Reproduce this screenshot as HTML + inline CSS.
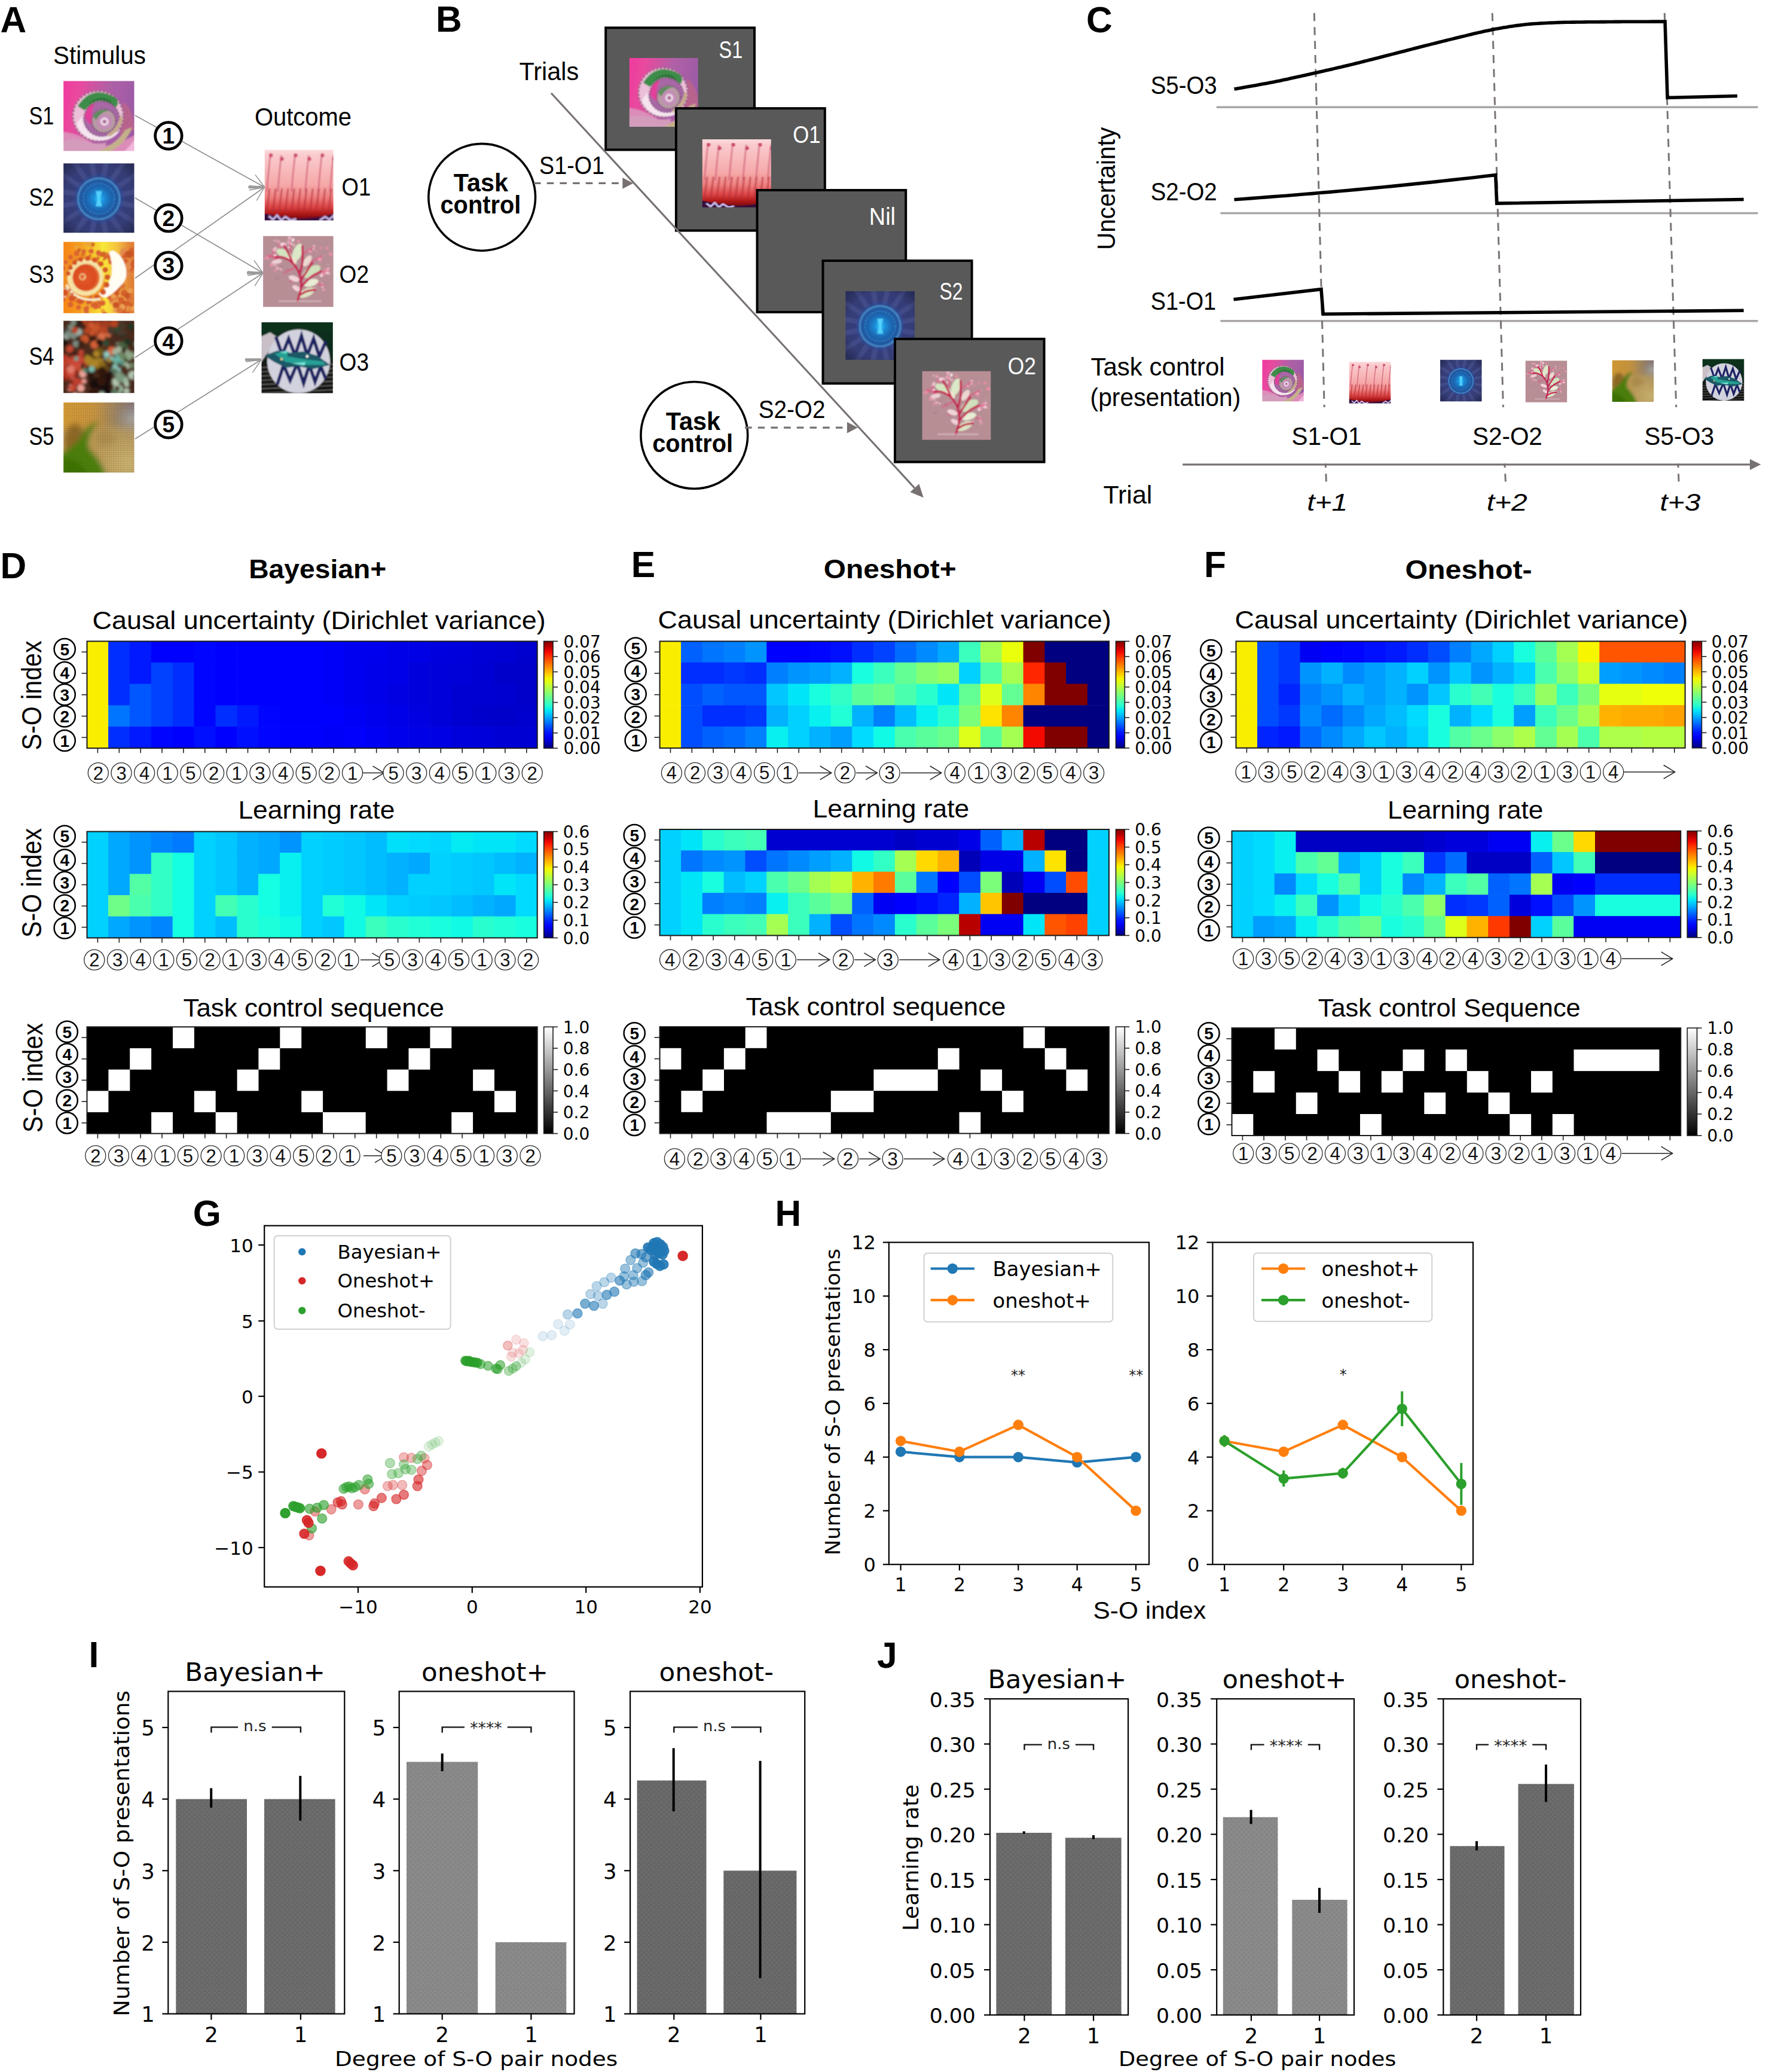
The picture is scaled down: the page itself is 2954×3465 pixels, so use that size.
<!DOCTYPE html>
<html lang="en"><head><meta charset="utf-8"><title>Figure</title>
<style>
html,body{margin:0;padding:0;background:#fff;}
body{width:2954px;height:3465px;overflow:hidden;}
svg{display:block;}
.ls{font-family:"Liberation Sans",sans-serif;}
.dv{font-family:"DejaVu Sans","Liberation Sans",sans-serif;}
</style></head><body>
<svg width="2954" height="3465" viewBox="0 0 2954 3465">
<defs><filter id="fb0_7" x="-5%" y="-5%" width="110%" height="110%"><feGaussianBlur stdDeviation="0.7"/></filter><filter id="fb1_0" x="-5%" y="-5%" width="110%" height="110%"><feGaussianBlur stdDeviation="1.0"/></filter><filter id="fb1_4" x="-5%" y="-5%" width="110%" height="110%"><feGaussianBlur stdDeviation="1.4"/></filter><filter id="fb1_8" x="-5%" y="-5%" width="110%" height="110%"><feGaussianBlur stdDeviation="1.8"/></filter><filter id="fb4_0" x="-5%" y="-5%" width="110%" height="110%"><feGaussianBlur stdDeviation="4.0"/></filter>
<linearGradient id="s1bg" x1="0" y1="0" x2="1" y2="0.2">
<stop offset="0" stop-color="#f4329e"/><stop offset="0.3" stop-color="#e84a9e"/><stop offset="0.62" stop-color="#b060a6"/><stop offset="1" stop-color="#9a5aa6"/></linearGradient>
<radialGradient id="s1in" cx="0.5" cy="0.5" r="0.5"><stop offset="0" stop-color="#e4b8d8"/><stop offset="0.3" stop-color="#b06ca4"/><stop offset="0.7" stop-color="#a4508c"/><stop offset="1" stop-color="#b45c94"/></radialGradient><symbol id="S1" viewBox="0 0 100 100" preserveAspectRatio="none"><g filter="url(#fb1_0)"><rect x="-10" y="-10" width="120" height="120" fill="url(#s1bg)"/>
<path d="M84 30 Q100 40 100 70 L80 80Z" fill="#b8648e"/>
<path d="M-5 72 Q20 74 40 88 T110 72 V110 H-5Z" fill="#dc8cb8"/>
<path d="M-5 88 Q10 80 30 86 Q46 92 60 88 L56 110 H-5Z" fill="#d49cbc"/>
<path d="M56 106 Q88 92 97 66 L87 70 Q77 88 50 100 Z" fill="#c4b08a"/>
<path d="M82 106 L104 80 V106Z" fill="#f2b6dc"/>
<circle cx="49" cy="50" r="36" fill="#ecc0d8"/>
<circle cx="49" cy="50" r="35.5" fill="none" stroke="#8c5c7c" stroke-width="2.4" stroke-dasharray="3 2.6"/>
<path d="M20 36 Q40 4 74 24 Q80 32 74 38 Q52 16 30 42Z" fill="#3c8c48"/>
<path d="M34 34 Q52 22 70 34 L66 28 Q50 18 34 34Z" fill="#2c7438"/>
<path d="M18 62 Q30 90 62 84 Q74 80 80 70 Q56 86 34 70 Q26 62 26 50Z" fill="#f6e4f0"/>
<circle cx="54" cy="54" r="25" fill="#a868a6"/>
<path d="M30 50 Q32 36 44 31 Q38 46 40 62 Q32 60 30 50Z" fill="#e2409a"/>
<circle cx="54" cy="54" r="25" fill="none" stroke="#6c3c68" stroke-width="1.8" stroke-dasharray="2.6 2"/>
<circle cx="57" cy="57" r="17" fill="#b89aa4"/>
<path d="M42 50 Q50 38 64 42 Q52 44 46 56Z" fill="#5c8c5c"/>
<circle cx="57" cy="57" r="17" fill="none" stroke="#5c3c58" stroke-width="1.5" stroke-dasharray="2.2 1.8"/>
<circle cx="58" cy="58" r="10.5" fill="#c48cb8"/>
<circle cx="58" cy="58" r="6" fill="#ecd4e4"/>
<circle cx="58" cy="58" r="2.5" fill="#a0608c"/>
<path d="M62 76 Q78 66 80 48 L84 54 Q80 72 64 80Z" fill="#c6ac8a"/></g></symbol>
<radialGradient id="s2bg" cx="0.5" cy="0.5" r="0.72"><stop offset="0" stop-color="#14142a" stop-opacity="0"/><stop offset="0.55" stop-color="#14142a" stop-opacity="0.08"/><stop offset="0.8" stop-color="#14142a" stop-opacity="0.5"/><stop offset="1" stop-color="#10101e" stop-opacity="0.92"/></radialGradient>
<radialGradient id="s2in" cx="0.5" cy="0.5" r="0.5"><stop offset="0" stop-color="#34ccff"/><stop offset="0.25" stop-color="#1c90dc"/><stop offset="0.55" stop-color="#1a6cb8"/><stop offset="0.8" stop-color="#2058a4"/><stop offset="1" stop-color="#2a64ac"/></radialGradient><symbol id="S2" viewBox="0 0 100 100" preserveAspectRatio="none"><g filter="url(#fb1_0)"><rect x="-10" y="-10" width="120" height="120" fill="#39417e"/><line x1="50" y1="51" x2="123.5" y2="65.9" stroke="#7c8cd4" stroke-opacity="0.2" stroke-width="7"/><line x1="50" y1="51" x2="112.2" y2="92.9" stroke="#7c8cd4" stroke-opacity="0.2" stroke-width="7"/><line x1="50" y1="51" x2="91.4" y2="113.5" stroke="#7c8cd4" stroke-opacity="0.2" stroke-width="7"/><line x1="50" y1="51" x2="64.4" y2="124.6" stroke="#7c8cd4" stroke-opacity="0.2" stroke-width="7"/><line x1="50" y1="51" x2="35.1" y2="124.5" stroke="#7c8cd4" stroke-opacity="0.2" stroke-width="7"/><line x1="50" y1="51" x2="8.1" y2="113.2" stroke="#7c8cd4" stroke-opacity="0.2" stroke-width="7"/><line x1="50" y1="51" x2="-12.5" y2="92.4" stroke="#7c8cd4" stroke-opacity="0.2" stroke-width="7"/><line x1="50" y1="51" x2="-23.6" y2="65.4" stroke="#7c8cd4" stroke-opacity="0.2" stroke-width="7"/><line x1="50" y1="51" x2="-23.5" y2="36.1" stroke="#7c8cd4" stroke-opacity="0.2" stroke-width="7"/><line x1="50" y1="51" x2="-12.2" y2="9.1" stroke="#7c8cd4" stroke-opacity="0.2" stroke-width="7"/><line x1="50" y1="51" x2="8.6" y2="-11.5" stroke="#7c8cd4" stroke-opacity="0.2" stroke-width="7"/><line x1="50" y1="51" x2="35.6" y2="-22.6" stroke="#7c8cd4" stroke-opacity="0.2" stroke-width="7"/><line x1="50" y1="51" x2="64.9" y2="-22.5" stroke="#7c8cd4" stroke-opacity="0.2" stroke-width="7"/><line x1="50" y1="51" x2="91.9" y2="-11.2" stroke="#7c8cd4" stroke-opacity="0.2" stroke-width="7"/><line x1="50" y1="51" x2="112.5" y2="9.6" stroke="#7c8cd4" stroke-opacity="0.2" stroke-width="7"/><line x1="50" y1="51" x2="123.6" y2="36.6" stroke="#7c8cd4" stroke-opacity="0.2" stroke-width="7"/>
<circle cx="50" cy="51" r="35" fill="#2c4ca0" fill-opacity="0.55"/>
<circle cx="50" cy="51" r="29.5" fill="url(#s2in)"/>
<circle cx="50" cy="51" r="29.5" fill="none" stroke="#5cb4ec" stroke-width="2" stroke-dasharray="1.6 0.8"/>
<circle cx="50" cy="51" r="22" fill="none" stroke="#3c9ce0" stroke-width="1.2" stroke-dasharray="3 2"/>
<path d="M45.5 40 H54.5 L51.5 51 L54.5 62 H45.5 L48.5 51Z" fill="#54d4ff"/>
<rect x="-10" y="-10" width="120" height="120" fill="url(#s2bg)"/></g></symbol>
<linearGradient id="s3bg" x1="0" y1="0" x2="1" y2="0"><stop offset="0" stop-color="#f87c10"/><stop offset="0.28" stop-color="#f49c20"/><stop offset="0.55" stop-color="#f8e838"/><stop offset="0.72" stop-color="#f4c040"/><stop offset="0.85" stop-color="#e48838"/><stop offset="1" stop-color="#d86c30"/></linearGradient>
<radialGradient id="s3c" cx="0.42" cy="0.5" r="0.55"><stop offset="0" stop-color="#f0b070"/><stop offset="0.14" stop-color="#e05828"/><stop offset="0.8" stop-color="#dc4c20"/><stop offset="1" stop-color="#e4743c"/></radialGradient><symbol id="S3" viewBox="0 0 100 100" preserveAspectRatio="none"><g filter="url(#fb1_0)"><rect x="-10" y="-10" width="120" height="120" fill="url(#s3bg)"/>
<path d="M-5 28 Q20 14 50 26 L64 74 Q30 94 -5 74Z" fill="#f09024" fill-opacity="0.85"/><circle cx="72.9" cy="80.8" r="4" fill="#d4602c"/><circle cx="49.5" cy="83.9" r="3.1" fill="#e07030"/><circle cx="48.8" cy="22.1" r="2.2" fill="#e08030"/><circle cx="99.9" cy="106.3" r="3.5" fill="#d4602c"/><circle cx="55.5" cy="96.6" r="3.2" fill="#f0a838"/><circle cx="33.9" cy="2.2" r="2.9" fill="#eca438"/><circle cx="39.7" cy="4.8" r="3.2" fill="#eca438"/><circle cx="63.8" cy="24.3" r="1.6" fill="#d86428"/><circle cx="100.4" cy="28.2" r="4.1" fill="#c85428"/><circle cx="91.9" cy="70.4" r="3.8" fill="#eca050"/><circle cx="52.5" cy="81.4" r="3.9" fill="#f0a838"/><circle cx="58.3" cy="16.8" r="2.8" fill="#e08030"/><circle cx="35" cy="30.1" r="2.9" fill="#eca438"/><circle cx="80.7" cy="31.3" r="3.7" fill="#c85428"/><circle cx="24.7" cy="13.4" r="2.4" fill="#eca438"/><circle cx="14" cy="74.3" r="1.6" fill="#e8c0a0"/><circle cx="18.6" cy="82.9" r="2.6" fill="#e07030"/><circle cx="59.1" cy="22.2" r="2.4" fill="#e08030"/><circle cx="64.9" cy="19.1" r="1.9" fill="#e08030"/><circle cx="57" cy="24.8" r="1.7" fill="#d86428"/><circle cx="92.1" cy="75.4" r="4.7" fill="#d4602c"/><circle cx="51.1" cy="85.7" r="2.9" fill="#d86830"/><circle cx="40.9" cy="5.4" r="2.4" fill="#eca438"/><circle cx="50.3" cy="90.7" r="3.2" fill="#e07030"/><circle cx="78.6" cy="80.6" r="4.1" fill="#c85428"/><circle cx="79.2" cy="73.9" r="4.3" fill="#eca050"/><circle cx="103.2" cy="34.5" r="4.9" fill="#c85428"/><circle cx="35.9" cy="102.9" r="2.4" fill="#e07030"/><circle cx="73" cy="95.8" r="3.3" fill="#eca050"/><circle cx="100.2" cy="10.3" r="4.2" fill="#dc7438"/><circle cx="87.7" cy="105.3" r="3.1" fill="#dc7438"/><circle cx="37.3" cy="86.4" r="3.2" fill="#f0a838"/><circle cx="42.9" cy="108" r="3.9" fill="#e07030"/><circle cx="69.4" cy="63.8" r="3.6" fill="#dc7438"/><circle cx="57" cy="15.8" r="2.5" fill="#cc6420"/><circle cx="89.4" cy="44.3" r="4.1" fill="#c85428"/><circle cx="29.4" cy="95.7" r="3.7" fill="#f0a838"/><circle cx="73.1" cy="90.2" r="3.5" fill="#eca050"/><circle cx="111.2" cy="30.6" r="4.7" fill="#e48c4c"/><circle cx="55.8" cy="88.6" r="2.1" fill="#f0a838"/><circle cx="2.2" cy="65.8" r="1.9" fill="#d8a070"/><circle cx="13.6" cy="62.9" r="3" fill="#e88838"/><circle cx="52.8" cy="16.6" r="3" fill="#dc7428"/><circle cx="12.4" cy="67.4" r="1.5" fill="#e8c0a0"/><circle cx="86.1" cy="29.9" r="2.5" fill="#e48c4c"/><circle cx="95.4" cy="28" r="2.8" fill="#e48c4c"/><circle cx="37.2" cy="12.9" r="2.2" fill="#dc7428"/><circle cx="96.7" cy="12.6" r="4.5" fill="#d4602c"/><circle cx="73" cy="78.8" r="4.4" fill="#dc7438"/><circle cx="71.6" cy="81.9" r="3.7" fill="#d4602c"/><circle cx="6.3" cy="70.2" r="1.6" fill="#d8a070"/><circle cx="61.6" cy="18" r="2.3" fill="#d86428"/><circle cx="99.1" cy="33.4" r="3.5" fill="#c85428"/><circle cx="87.9" cy="94" r="2.8" fill="#d4602c"/><circle cx="26.7" cy="13.1" r="2.3" fill="#eca438"/><circle cx="75.2" cy="71.9" r="4.1" fill="#d4602c"/><circle cx="31.2" cy="94" r="3" fill="#d86830"/><circle cx="95.9" cy="80.2" r="2.5" fill="#dc7438"/><circle cx="38.7" cy="86.4" r="2.8" fill="#f0a838"/><circle cx="99" cy="31.2" r="4.9" fill="#c85428"/><circle cx="85.1" cy="12.4" r="4.3" fill="#e48c4c"/><circle cx="38.7" cy="77.2" r="2.2" fill="#d86830"/><circle cx="22" cy="11.3" r="2.6" fill="#cc6420"/><circle cx="105.4" cy="39.6" r="2.9" fill="#d4602c"/><circle cx="85.6" cy="81.8" r="2.8" fill="#eca050"/><circle cx="13.5" cy="69.7" r="2.7" fill="#e88838"/><circle cx="53.2" cy="17.1" r="1.9" fill="#e08030"/><circle cx="64.9" cy="22" r="2.3" fill="#e08030"/><circle cx="87.9" cy="92.2" r="4" fill="#eca050"/><circle cx="61" cy="67.4" r="3.9" fill="#d4602c"/><circle cx="86.6" cy="111.5" r="4.6" fill="#dc7438"/><circle cx="69.6" cy="77.4" r="4.8" fill="#eca050"/><circle cx="78.4" cy="39.7" r="2.9" fill="#e48c4c"/><circle cx="41.5" cy="3.4" r="2.7" fill="#cc6420"/><circle cx="12.6" cy="79.6" r="1.7" fill="#e8c0a0"/><circle cx="86" cy="102.3" r="4.9" fill="#c85428"/><circle cx="48.3" cy="79.4" r="3.2" fill="#f0a838"/><circle cx="4.3" cy="76.4" r="2.7" fill="#e88838"/><circle cx="87.5" cy="35.4" r="4.4" fill="#dc7438"/><circle cx="78" cy="66.3" r="3" fill="#d4602c"/><circle cx="79.7" cy="60.7" r="3.5" fill="#d4602c"/><circle cx="85.1" cy="92.7" r="4.3" fill="#d4602c"/><circle cx="62.7" cy="16.5" r="1.8" fill="#d86428"/><circle cx="83.4" cy="21.7" r="2.6" fill="#c85428"/><circle cx="96.9" cy="31.4" r="2.7" fill="#d4602c"/><circle cx="90.4" cy="47.6" r="2.6" fill="#e48c4c"/><circle cx="39.5" cy="89" r="2.7" fill="#f0a838"/><circle cx="99.2" cy="92.1" r="4.4" fill="#eca050"/><circle cx="78.2" cy="82.3" r="3.2" fill="#eca050"/><circle cx="105.3" cy="18.6" r="2.7" fill="#c85428"/><circle cx="32.6" cy="98" r="3.3" fill="#d86830"/><circle cx="42.7" cy="82.6" r="3.5" fill="#f0a838"/><circle cx="35.2" cy="88.9" r="3" fill="#f0a838"/><circle cx="88.4" cy="42.4" r="4.4" fill="#dc7438"/><circle cx="101" cy="22.6" r="2.8" fill="#dc7438"/><circle cx="0.7" cy="65.1" r="2.1" fill="#d8a070"/><circle cx="31.6" cy="92.3" r="2.4" fill="#e07030"/><circle cx="96.3" cy="39.2" r="3.9" fill="#e48c4c"/><circle cx="82.8" cy="95.7" r="4.7" fill="#d4602c"/><circle cx="81.5" cy="102.3" r="3.8" fill="#c85428"/><circle cx="49.7" cy="23.5" r="1.6" fill="#d86428"/><circle cx="9.6" cy="75.1" r="1.6" fill="#e88838"/><circle cx="44.1" cy="87.4" r="3.4" fill="#d86830"/><circle cx="83.1" cy="61.9" r="4.4" fill="#dc7438"/><circle cx="8.2" cy="64.8" r="1.8" fill="#e88838"/><circle cx="92" cy="44" r="2.6" fill="#e48c4c"/><circle cx="11.6" cy="70.2" r="2.3" fill="#e8c0a0"/><circle cx="69.3" cy="84.2" r="4.3" fill="#eca050"/><circle cx="96.1" cy="40.6" r="2.8" fill="#dc7438"/><circle cx="70.8" cy="82" r="3" fill="#dc7438"/><circle cx="80.5" cy="30" r="3.6" fill="#c85428"/><circle cx="62.5" cy="18" r="2.7" fill="#e08030"/><circle cx="85" cy="23.6" r="3.7" fill="#d4602c"/><circle cx="54.6" cy="30.9" r="2.5" fill="#e08030"/><circle cx="99.3" cy="18.3" r="2.6" fill="#d4602c"/><circle cx="18.9" cy="26.6" r="3.4" fill="#dc7428"/><circle cx="84.6" cy="70.2" r="2.8" fill="#d4602c"/><circle cx="94.6" cy="68.5" r="3.5" fill="#eca050"/><circle cx="18.8" cy="7.3" r="3" fill="#eca438"/><circle cx="80.2" cy="33.2" r="3.6" fill="#e48c4c"/><circle cx="4.9" cy="66.4" r="2.1" fill="#e8c0a0"/><circle cx="58.1" cy="102.4" r="4.5" fill="#c85428"/><circle cx="37.6" cy="19.6" r="2.3" fill="#dc7428"/><circle cx="83.8" cy="25.2" r="4.1" fill="#dc7438"/><circle cx="96.6" cy="38.1" r="2.6" fill="#d4602c"/><circle cx="82.7" cy="86.8" r="4.3" fill="#dc7438"/><circle cx="81.8" cy="85.7" r="4.9" fill="#dc7438"/><circle cx="78" cy="89" r="3.3" fill="#d4602c"/><circle cx="86.8" cy="86.8" r="4.3" fill="#c85428"/><circle cx="69.9" cy="16.2" r="2.9" fill="#d86428"/><circle cx="81.8" cy="105.9" r="4.1" fill="#c85428"/><circle cx="96" cy="88.5" r="2.7" fill="#d4602c"/><circle cx="91.3" cy="28.6" r="3.8" fill="#e48c4c"/><circle cx="82.3" cy="15.8" r="3" fill="#e48c4c"/><circle cx="72.9" cy="85.5" r="4.1" fill="#eca050"/><circle cx="61.3" cy="65.9" r="2.7" fill="#c85428"/><circle cx="83.9" cy="34.9" r="3.9" fill="#e48c4c"/><circle cx="91.2" cy="17" r="4.6" fill="#c85428"/><circle cx="2" cy="76.7" r="1.8" fill="#e8c0a0"/><circle cx="83.1" cy="91.3" r="4.3" fill="#eca050"/><circle cx="63.6" cy="21" r="2.6" fill="#d86428"/><circle cx="87.8" cy="19" r="3.3" fill="#d4602c"/><circle cx="10.6" cy="67.3" r="2.8" fill="#e8c0a0"/><circle cx="40.6" cy="90" r="2.4" fill="#e07030"/><circle cx="79.1" cy="96.2" r="4.6" fill="#dc7438"/><circle cx="90.6" cy="86.1" r="4.1" fill="#d4602c"/><circle cx="90.7" cy="35.3" r="4.6" fill="#e48c4c"/><circle cx="92.8" cy="78.2" r="4.7" fill="#dc7438"/><circle cx="81.5" cy="81.6" r="4.5" fill="#d4602c"/><circle cx="17.6" cy="80.5" r="1.9" fill="#e88838"/><circle cx="87.8" cy="106.2" r="4" fill="#eca050"/><circle cx="37" cy="2.7" r="2.9" fill="#eca438"/><circle cx="23.1" cy="35.6" r="2.7" fill="#eca438"/><circle cx="83.3" cy="27.8" r="4.3" fill="#d4602c"/><circle cx="91.2" cy="102.8" r="4.8" fill="#c85428"/><circle cx="74.2" cy="70.8" r="3" fill="#c85428"/><circle cx="10.1" cy="73.7" r="2.2" fill="#d8a070"/><circle cx="101.4" cy="45.9" r="4.3" fill="#e48c4c"/><circle cx="53.9" cy="18.6" r="2.9" fill="#d86428"/><circle cx="85.8" cy="71.9" r="5" fill="#d4602c"/><circle cx="91" cy="80.9" r="2.7" fill="#dc7438"/><circle cx="67" cy="81.9" r="2.6" fill="#dc7438"/><circle cx="73.9" cy="88.5" r="4.4" fill="#c85428"/><circle cx="75.6" cy="36" r="3.6" fill="#dc7438"/><circle cx="93" cy="17.6" r="4.9" fill="#c85428"/><circle cx="47.1" cy="26" r="2.2" fill="#e08030"/><circle cx="89.9" cy="76.1" r="3.7" fill="#c85428"/><circle cx="27.6" cy="17.8" r="3.2" fill="#dc7428"/><circle cx="88.9" cy="26.7" r="2.6" fill="#d4602c"/><circle cx="106.1" cy="28.5" r="3.4" fill="#c85428"/><circle cx="-2.5" cy="55.4" r="3" fill="#dc6430"/><circle cx="-3.3" cy="46.2" r="3.5" fill="#dc6430"/><circle cx="-1.3" cy="37" r="4" fill="#dc6430"/><circle cx="3.2" cy="28.5" r="3" fill="#dc6430"/><circle cx="10" cy="21.3" r="3.5" fill="#dc6430"/><circle cx="18.7" cy="16.1" r="4" fill="#dc6430"/><circle cx="28.7" cy="13.2" r="3" fill="#dc6430"/><circle cx="39.3" cy="13" r="3.5" fill="#dc6430"/><circle cx="49.7" cy="15.5" r="4" fill="#dc6430"/><circle cx="59.1" cy="20.6" r="3" fill="#dc6430"/><circle cx="66.8" cy="28" r="3.5" fill="#dc6430"/><circle cx="72.3" cy="37.2" r="4" fill="#dc6430"/><circle cx="74.9" cy="47.6" r="3" fill="#dc6430"/><circle cx="74.6" cy="58.4" r="3.5" fill="#dc6430"/><circle cx="71.1" cy="68.9" r="4" fill="#dc6430"/><circle cx="64.8" cy="78.3" r="3" fill="#dc6430"/><circle cx="56" cy="85.8" r="3.5" fill="#dc6430"/><circle cx="45.3" cy="90.8" r="4" fill="#dc6430"/><circle cx="33.5" cy="93" r="3" fill="#dc6430"/><circle cx="21.3" cy="92" r="3.5" fill="#dc6430"/><circle cx="9.8" cy="88" r="4" fill="#dc6430"/><circle cx="-0.3" cy="81" r="3" fill="#dc6430"/>
<path d="M70 12 Q84 18 88 36 Q92 52 80 62 Q72 72 60 78 Q52 78 50 72 Q64 62 68 46 Q70 28 64 14Z" fill="#fffdf4"/>
<circle cx="31" cy="50" r="25.5" fill="#f6e4a8"/><circle cx="6.7" cy="44.3" r="3.2" fill="#d65628"/><circle cx="9.8" cy="36" r="3.3" fill="#d65628"/><circle cx="15.8" cy="29.1" r="3.4" fill="#d65628"/><circle cx="24.3" cy="24.6" r="3.5" fill="#d65628"/><circle cx="34.1" cy="23.2" r="3.6" fill="#d65628"/><circle cx="44" cy="25.3" r="3.7" fill="#d65628"/><circle cx="52.8" cy="30.8" r="3.8" fill="#d65628"/><circle cx="59.1" cy="39.2" r="3.9" fill="#d65628"/><circle cx="62" cy="49.4" r="4" fill="#d65628"/><circle cx="60.9" cy="60.3" r="4.1" fill="#d65628"/><circle cx="55.9" cy="70.3" r="4.2" fill="#d65628"/><circle cx="47.3" cy="78.1" r="4.3" fill="#d65628"/><circle cx="36.1" cy="82.6" r="4.4" fill="#d65628"/><circle cx="23.8" cy="83" r="4.5" fill="#d65628"/><circle cx="11.9" cy="79.1" r="4.6" fill="#d65628"/><circle cx="2" cy="71.1" r="4.7" fill="#d65628"/><circle cx="-4.5" cy="60" r="4.8" fill="#d65628"/><circle cx="-6.6" cy="47.1" r="4.9" fill="#d65628"/>
<circle cx="31" cy="50" r="21.5" fill="#f4dc9c"/>
<circle cx="32" cy="50" r="19" fill="url(#s3c)"/>
<circle cx="27" cy="49" r="4" fill="none" stroke="#f0c488" stroke-width="1.8"/>
<path d="M4 60 Q18 86 52 80" fill="none" stroke="#f8f0cc" stroke-width="3"/>
<path d="M8 66 Q22 92 56 87" fill="none" stroke="#d85c2c" stroke-width="3" stroke-dasharray="3.5 3"/></g></symbol><symbol id="S4" viewBox="0 0 100 100" preserveAspectRatio="none"><g filter="url(#fb1_8)"><rect x="-10" y="-10" width="120" height="120" fill="#4a2a1c"/><circle cx="21.6" cy="69.3" r="3.5" fill="#b83828"/><circle cx="34" cy="10.5" r="6.5" fill="#c8542c"/><circle cx="2.6" cy="59.8" r="3.6" fill="#b83828"/><circle cx="17.7" cy="89.4" r="4.4" fill="#c04030"/><circle cx="59" cy="74.2" r="4.4" fill="#2c1c14"/><circle cx="28.6" cy="1.1" r="4.8" fill="#b84424"/><circle cx="12.4" cy="108.9" r="5" fill="#802018"/><circle cx="74.9" cy="51.1" r="4.6" fill="#2c1c14"/><circle cx="19" cy="48.4" r="4.3" fill="#20140e"/><circle cx="52.8" cy="63.7" r="5.8" fill="#8c6a1c"/><circle cx="37" cy="5.9" r="4.9" fill="#a03c20"/><circle cx="55.3" cy="95.5" r="4.2" fill="#20100c"/><circle cx="4.7" cy="22.1" r="3.6" fill="#4c4038"/><circle cx="57.7" cy="78.7" r="3.4" fill="#9cb8a0"/><circle cx="46.2" cy="96.4" r="6.6" fill="#20100c"/><circle cx="87.8" cy="99.9" r="3.1" fill="#9cb8a0"/><circle cx="96.9" cy="36.3" r="5.4" fill="#402418"/><circle cx="79" cy="94.2" r="5.3" fill="#9cb8a0"/><circle cx="86.7" cy="100.1" r="3.5" fill="#587860"/><circle cx="80.2" cy="63.6" r="3.2" fill="#8cc8bc"/><circle cx="14.4" cy="50.9" r="4" fill="#b83828"/><circle cx="57.9" cy="77.5" r="3.4" fill="#8c6a1c"/><circle cx="55.3" cy="32.4" r="3.5" fill="#c8542c"/><circle cx="78.4" cy="41.6" r="2.6" fill="#48603c"/><circle cx="60" cy="30.8" r="4.4" fill="#2c4c30"/><circle cx="45" cy="56.4" r="4.6" fill="#ac8428"/><circle cx="42.4" cy="50.1" r="3.3" fill="#4c2a1c"/><circle cx="87.5" cy="35.7" r="3.3" fill="#48603c"/><circle cx="61.3" cy="6.1" r="6.5" fill="#a03c20"/><circle cx="15.2" cy="0.2" r="4.7" fill="#402418"/><circle cx="91.7" cy="49.8" r="5.1" fill="#90a888"/><circle cx="70.1" cy="70.1" r="5.2" fill="#587860"/><circle cx="77.4" cy="33.4" r="3.3" fill="#a4b49c"/><circle cx="121.3" cy="86" r="5.4" fill="#4c2a1c"/><circle cx="50.9" cy="9.7" r="6.4" fill="#c8542c"/><circle cx="37.2" cy="19" r="3.9" fill="#20140e"/><circle cx="50.5" cy="52.4" r="5.3" fill="#402418"/><circle cx="75.7" cy="63" r="4" fill="#8cc8bc"/><circle cx="-8.5" cy="30.7" r="3.1" fill="#2c1c14"/><circle cx="1.4" cy="29.9" r="5.2" fill="#20140e"/><circle cx="63.4" cy="18" r="4.7" fill="#dc7048"/><circle cx="79.7" cy="61.4" r="4" fill="#4c9488"/><circle cx="42" cy="76.5" r="2.7" fill="#20140e"/><circle cx="84.4" cy="77.9" r="3.8" fill="#587860"/><circle cx="40.3" cy="57.1" r="5.2" fill="#2c1c14"/><circle cx="67.9" cy="54" r="4.8" fill="#6c8460"/><circle cx="21.9" cy="15.3" r="4.8" fill="#9cacA4"/><circle cx="53.8" cy="50.2" r="6.1" fill="#9c7820"/><circle cx="40.7" cy="100.1" r="4.8" fill="#20100c"/><circle cx="54.9" cy="86.2" r="5.6" fill="#301810"/><circle cx="20.5" cy="28.3" r="4.1" fill="#20140e"/><circle cx="18.2" cy="90.1" r="5.5" fill="#402418"/><circle cx="42.6" cy="81.6" r="6.7" fill="#301810"/><circle cx="62.9" cy="10.2" r="4.5" fill="#1c3424"/><circle cx="72.9" cy="58.2" r="4" fill="#8cc8bc"/><circle cx="32.9" cy="77" r="4.3" fill="#4c2a1c"/><circle cx="20.9" cy="88" r="4.9" fill="#802018"/><circle cx="81.1" cy="60.4" r="4.4" fill="#68b4a4"/><circle cx="76.8" cy="93.4" r="6.1" fill="#9cb8a0"/><circle cx="86.1" cy="41.7" r="3.6" fill="#6c8460"/><circle cx="-0.1" cy="54.9" r="5" fill="#b83828"/><circle cx="83.9" cy="17.2" r="5" fill="#48382c"/><circle cx="59.2" cy="101.9" r="4.5" fill="#20140e"/><circle cx="52.7" cy="84.7" r="3.2" fill="#2c1c14"/><circle cx="4.2" cy="76.9" r="6.5" fill="#8c2818"/><circle cx="94.5" cy="44.3" r="3.8" fill="#6c8460"/><circle cx="23.1" cy="84.7" r="4.2" fill="#c04030"/><circle cx="50.2" cy="57.5" r="4.8" fill="#ac8428"/><circle cx="117.2" cy="44.8" r="4.3" fill="#2c1c14"/><circle cx="51.2" cy="15.5" r="4.4" fill="#20140e"/><circle cx="53" cy="33.2" r="3.2" fill="#2c1c14"/><circle cx="23.6" cy="65.5" r="5" fill="#c44430"/><circle cx="93.5" cy="44" r="4.1" fill="#90a888"/><circle cx="85.4" cy="36.8" r="3.2" fill="#1c3424"/><circle cx="56.6" cy="13.5" r="6.1" fill="#b84424"/><circle cx="36.9" cy="69.6" r="6.6" fill="#180c08"/><circle cx="44.3" cy="14.8" r="6.1" fill="#b84424"/><circle cx="96.9" cy="61.9" r="4" fill="#6c8460"/><circle cx="95" cy="109.6" r="4.8" fill="#b4c8b0"/><circle cx="36" cy="76.1" r="3.8" fill="#402418"/><circle cx="13" cy="83.9" r="4.9" fill="#f0a498"/><circle cx="25" cy="43.8" r="3.8" fill="#c44430"/><circle cx="59.6" cy="4.8" r="6.1" fill="#a03c20"/><circle cx="31.7" cy="-15.1" r="5.3" fill="#20140e"/><circle cx="88.9" cy="101" r="3.7" fill="#587860"/><circle cx="80.4" cy="54.3" r="3.8" fill="#8cc8bc"/><circle cx="84.3" cy="59" r="3" fill="#4c9488"/><circle cx="77.5" cy="50.3" r="4.2" fill="#68b4a4"/><circle cx="98.7" cy="11.3" r="4.5" fill="#402418"/><circle cx="58.5" cy="54" r="3.2" fill="#68b4a4"/><circle cx="26" cy="65.9" r="5.9" fill="#cc4834"/><circle cx="39.3" cy="2.7" r="5.1" fill="#b84424"/><circle cx="64.5" cy="100.8" r="6.5" fill="#180c08"/><circle cx="69.3" cy="59.3" r="3.3" fill="#402418"/><circle cx="54.3" cy="49.3" r="4.6" fill="#4c2a1c"/><circle cx="97.4" cy="75.3" r="5.9" fill="#b4c8b0"/><circle cx="29.5" cy="27.5" r="3" fill="#20140e"/><circle cx="51.5" cy="-9.8" r="3.4" fill="#2c1c14"/><circle cx="40.9" cy="19.1" r="3" fill="#402418"/><circle cx="27.3" cy="66.3" r="4.2" fill="#ac8428"/><circle cx="77.7" cy="36.5" r="4.8" fill="#4c2a1c"/><circle cx="14" cy="89.9" r="3.3" fill="#c04030"/><circle cx="41.1" cy="77.4" r="4.9" fill="#20100c"/><circle cx="71.8" cy="43.7" r="3" fill="#68b4a4"/><circle cx="35.2" cy="50.1" r="3.5" fill="#20140e"/><circle cx="32.8" cy="62.5" r="3.5" fill="#58a898"/><circle cx="56.6" cy="11.9" r="5" fill="#b84424"/><circle cx="101.7" cy="76.6" r="3" fill="#402418"/><circle cx="83.8" cy="6.6" r="3.8" fill="#48382c"/><circle cx="65.9" cy="118.2" r="5.1" fill="#b4c8b0"/><circle cx="76.3" cy="92.9" r="2.6" fill="#402418"/><circle cx="16.5" cy="-26.2" r="2.7" fill="#2c1c14"/><circle cx="40.4" cy="72.6" r="4.3" fill="#20100c"/><circle cx="18.3" cy="75.5" r="4" fill="#2c1c14"/><circle cx="81.1" cy="65.1" r="5.7" fill="#9cb8a0"/><circle cx="5.7" cy="69.8" r="4.3" fill="#cc4834"/><circle cx="37" cy="23.5" r="4.1" fill="#402418"/><circle cx="60.1" cy="75.8" r="5.4" fill="#4c2a1c"/><circle cx="53.7" cy="21.9" r="5.4" fill="#dc7048"/><circle cx="41.3" cy="50.1" r="3.4" fill="#20140e"/><circle cx="28.6" cy="61.5" r="4.2" fill="#b83828"/><circle cx="53.6" cy="57.9" r="5.7" fill="#ac8428"/><circle cx="4.2" cy="76.2" r="3.2" fill="#b83828"/><circle cx="64.1" cy="54" r="3.6" fill="#9c7820"/><circle cx="68.2" cy="51.4" r="2.5" fill="#8cc8bc"/><circle cx="-2.4" cy="53.5" r="3.5" fill="#c44430"/><circle cx="9.6" cy="92.8" r="4.4" fill="#f0a498"/><circle cx="61.7" cy="79.4" r="6" fill="#180c08"/><circle cx="48.6" cy="77.1" r="4.1" fill="#4c2a1c"/><circle cx="87.2" cy="82" r="4.6" fill="#9cb8a0"/><circle cx="38.6" cy="7.4" r="3.6" fill="#d46038"/><circle cx="45.9" cy="84.5" r="6.5" fill="#20100c"/><circle cx="62.6" cy="90.4" r="4.4" fill="#20100c"/><circle cx="24.5" cy="93.2" r="5.1" fill="#f0a498"/><circle cx="10.7" cy="9" r="4.4" fill="#7c8c80"/><circle cx="42.7" cy="80.3" r="2.5" fill="#2c1c14"/><circle cx="39.8" cy="16.3" r="4.5" fill="#c8542c"/><circle cx="27.3" cy="73.6" r="5" fill="#f0a498"/><circle cx="47.9" cy="82.7" r="4.3" fill="#20100c"/><circle cx="13.7" cy="45.5" r="2.7" fill="#2c1c14"/><circle cx="2.7" cy="12.1" r="3.9" fill="#4c4038"/><circle cx="68.1" cy="41.7" r="6.1" fill="#d46038"/><circle cx="76.9" cy="96.2" r="5.1" fill="#9cb8a0"/><circle cx="26.2" cy="54.3" r="2.5" fill="#58a898"/><circle cx="71.9" cy="15.6" r="3.9" fill="#1c3424"/><circle cx="66.4" cy="73.3" r="3.9" fill="#20140e"/><circle cx="-5.3" cy="63.9" r="4.9" fill="#c44430"/><circle cx="36.6" cy="59" r="3.7" fill="#3c8478"/><circle cx="56.4" cy="83.6" r="5" fill="#301810"/><circle cx="34.6" cy="55.9" r="5.5" fill="#c44430"/><circle cx="83.5" cy="55.3" r="4.5" fill="#48603c"/><circle cx="48.2" cy="43.7" r="5.2" fill="#b84424"/><circle cx="44.1" cy="84.1" r="3.1" fill="#b83828"/><circle cx="71.8" cy="4" r="5.4" fill="#b84424"/><circle cx="12.9" cy="93.4" r="4.4" fill="#cc4834"/><circle cx="19.1" cy="17" r="3.8" fill="#9cacA4"/><circle cx="58.3" cy="55.8" r="2.5" fill="#4c2a1c"/><circle cx="51" cy="43.3" r="6.4" fill="#6c5418"/><circle cx="89.9" cy="42.3" r="3.5" fill="#6c8460"/><circle cx="71.7" cy="13.9" r="5.8" fill="#1c3424"/><circle cx="90.9" cy="49.2" r="3.8" fill="#90a888"/><circle cx="83.1" cy="20" r="3.4" fill="#1c3424"/><circle cx="80.8" cy="1.4" r="4" fill="#48382c"/><circle cx="87.5" cy="63" r="5.5" fill="#b4c8b0"/><circle cx="106.1" cy="42.9" r="4.6" fill="#20140e"/><circle cx="35.4" cy="65.9" r="5.1" fill="#4c2a1c"/><circle cx="44.1" cy="76.5" r="2.6" fill="#4c2a1c"/><circle cx="76.7" cy="52.7" r="3.5" fill="#8cc8bc"/><circle cx="37.5" cy="53.1" r="4.7" fill="#8c6a1c"/><circle cx="24.4" cy="61.9" r="5.1" fill="#2c1c14"/><circle cx="8.6" cy="68" r="4.9" fill="#c44430"/><circle cx="84.1" cy="44.6" r="4.3" fill="#4c2a1c"/><circle cx="94.5" cy="28.6" r="3.5" fill="#402418"/><circle cx="77" cy="12.7" r="4.9" fill="#2c4c30"/><circle cx="-6.5" cy="37" r="3.9" fill="#2c1c14"/><circle cx="20.7" cy="62.1" r="4.2" fill="#e07868"/><circle cx="70.7" cy="16.7" r="3.3" fill="#402418"/><circle cx="14.3" cy="21" r="4.3" fill="#7c8c80"/><circle cx="13.3" cy="57.9" r="5.1" fill="#cc4834"/><circle cx="20.7" cy="50.5" r="3.7" fill="#b83828"/><circle cx="82.3" cy="53" r="3.7" fill="#90a888"/><circle cx="54.3" cy="82.3" r="5.9" fill="#20100c"/><circle cx="75.8" cy="59.1" r="4.5" fill="#4c9488"/><circle cx="46" cy="8.8" r="5.5" fill="#c8542c"/><circle cx="83.1" cy="48.5" r="5.1" fill="#6c8460"/><circle cx="41.4" cy="-5.3" r="4.6" fill="#20140e"/><circle cx="75.1" cy="56.9" r="3" fill="#6c8460"/><circle cx="-11.1" cy="68.6" r="4.8" fill="#8c2818"/><circle cx="73.7" cy="84.4" r="5.2" fill="#b4c8b0"/><circle cx="31" cy="69.1" r="3.2" fill="#3c8478"/><circle cx="29.1" cy="83.5" r="3" fill="#f0a498"/><circle cx="94.7" cy="39.1" r="3.7" fill="#4c2a1c"/><circle cx="5.6" cy="16.2" r="4.7" fill="#4c4038"/><circle cx="80.8" cy="16.1" r="4.5" fill="#48382c"/><circle cx="33.9" cy="11.9" r="5.9" fill="#b84424"/><circle cx="44.5" cy="28.1" r="4.8" fill="#dc7048"/><circle cx="29.8" cy="25.2" r="3.6" fill="#a03c20"/><circle cx="73.5" cy="42.5" r="4" fill="#8cc8bc"/><circle cx="76" cy="93.9" r="3.5" fill="#402418"/><circle cx="64" cy="84.6" r="5.3" fill="#2c1c14"/><circle cx="17.4" cy="72.1" r="4.8" fill="#8c2818"/><circle cx="117.7" cy="85.6" r="5.7" fill="#9cb8a0"/><circle cx="26.8" cy="52.2" r="2.8" fill="#2c1c14"/><circle cx="94.7" cy="7.7" r="4.5" fill="#1c3424"/><circle cx="41.9" cy="87.7" r="6.2" fill="#20100c"/><circle cx="73.3" cy="54.7" r="3.5" fill="#68b4a4"/><circle cx="45.9" cy="86.2" r="4.7" fill="#20100c"/><circle cx="57.5" cy="65.8" r="5.3" fill="#6c5418"/><circle cx="48.6" cy="61.9" r="5.3" fill="#8c6a1c"/><circle cx="67.4" cy="13.8" r="5.5" fill="#48382c"/><circle cx="85.3" cy="63.3" r="4.8" fill="#90a888"/><circle cx="78.6" cy="76.3" r="5.8" fill="#7c9880"/><circle cx="71.5" cy="99.7" r="4.4" fill="#7c9880"/><circle cx="4.4" cy="67" r="3.6" fill="#8c2818"/><circle cx="77.3" cy="55.5" r="4.9" fill="#90a888"/><circle cx="1.7" cy="51.9" r="5.7" fill="#b83828"/><circle cx="82.6" cy="33.6" r="5.2" fill="#48603c"/><circle cx="79.1" cy="66.8" r="3.4" fill="#8cc8bc"/><circle cx="108.6" cy="43.3" r="2.6" fill="#90a888"/><circle cx="105.3" cy="39.2" r="3.3" fill="#20140e"/><circle cx="76.3" cy="-5.6" r="4.4" fill="#2c1c14"/><circle cx="103" cy="32.5" r="3.8" fill="#6c8460"/><circle cx="49.5" cy="73.3" r="3.5" fill="#4c2a1c"/><circle cx="51.6" cy="60.6" r="5" fill="#8c6a1c"/><circle cx="77.7" cy="39.9" r="4.7" fill="#a4b49c"/><circle cx="38.2" cy="58.8" r="5" fill="#9c7820"/><circle cx="4.5" cy="20.8" r="4.6" fill="#9cacA4"/><circle cx="59" cy="91.2" r="5.8" fill="#180c08"/><circle cx="42" cy="26.2" r="4.5" fill="#20140e"/><circle cx="6.4" cy="91.9" r="2.7" fill="#802018"/><circle cx="33.5" cy="50.3" r="3.5" fill="#9c7820"/><circle cx="61.1" cy="46.4" r="4.4" fill="#8cc8bc"/><circle cx="42.5" cy="80.2" r="3" fill="#20140e"/><circle cx="4.4" cy="68.2" r="4.1" fill="#cc4834"/><circle cx="47.4" cy="121.5" r="3.1" fill="#402418"/><circle cx="7.3" cy="18.2" r="4.9" fill="#7c8c80"/><circle cx="2.8" cy="68.9" r="6.3" fill="#b83828"/><circle cx="81.4" cy="59.2" r="3.9" fill="#4c9488"/><circle cx="72.4" cy="99.9" r="4.9" fill="#587860"/><circle cx="-3.9" cy="20" r="3" fill="#4c4038"/><circle cx="-4.8" cy="29.5" r="2.8" fill="#4c4038"/><circle cx="-2.2" cy="61.9" r="4.6" fill="#4c2a1c"/><circle cx="64.8" cy="147.8" r="3.8" fill="#20140e"/><circle cx="18.9" cy="63.3" r="4.9" fill="#cc4834"/><circle cx="72.4" cy="63.1" r="3" fill="#8cc8bc"/><circle cx="61.2" cy="79" r="6.6" fill="#20100c"/><circle cx="89.3" cy="87.9" r="3.3" fill="#b4c8b0"/><circle cx="49.4" cy="90.7" r="4.2" fill="#180c08"/><circle cx="47.2" cy="87.8" r="6.8" fill="#180c08"/><circle cx="85.4" cy="67" r="5.1" fill="#4c2a1c"/><circle cx="53.5" cy="5.2" r="4" fill="#a03c20"/><circle cx="23.3" cy="53.5" r="6.4" fill="#c44430"/><circle cx="12.2" cy="84.2" r="4.1" fill="#802018"/><circle cx="23.3" cy="4.1" r="5" fill="#2c1c14"/><circle cx="43.8" cy="32.8" r="5.6" fill="#d46038"/><circle cx="46.5" cy="45.9" r="4.6" fill="#ac8428"/><circle cx="36" cy="54.3" r="3.6" fill="#3c8478"/><circle cx="8.1" cy="55.9" r="5" fill="#c44430"/><circle cx="79.8" cy="78.7" r="6.5" fill="#7c9880"/><circle cx="88.9" cy="42.3" r="3.1" fill="#a4b49c"/><circle cx="16.5" cy="103.2" r="3.8" fill="#f0a498"/><circle cx="27.6" cy="8.2" r="4.5" fill="#402418"/><circle cx="54.2" cy="80.7" r="4.3" fill="#20100c"/><circle cx="42" cy="59.4" r="2.8" fill="#58a898"/><circle cx="16.2" cy="83.7" r="3.4" fill="#802018"/><circle cx="54.4" cy="70.2" r="6.6" fill="#301810"/><circle cx="44.1" cy="58.3" r="6" fill="#ac8428"/><circle cx="56.9" cy="78.9" r="3.9" fill="#20140e"/><circle cx="45.9" cy="99.1" r="6.9" fill="#301810"/><circle cx="-7.4" cy="63.7" r="3.7" fill="#8c2818"/><circle cx="89.2" cy="97" r="3.8" fill="#b4c8b0"/><circle cx="14.1" cy="60.4" r="3.5" fill="#cc4834"/><circle cx="72.2" cy="43.6" r="3.5" fill="#a4b49c"/><circle cx="99.8" cy="48.3" r="3.2" fill="#90a888"/><circle cx="79.2" cy="62.1" r="3" fill="#4c2a1c"/><circle cx="48.4" cy="2.9" r="3.1" fill="#b84424"/><circle cx="50.9" cy="29.4" r="4.7" fill="#20140e"/><circle cx="17.8" cy="83.1" r="5" fill="#c04030"/><circle cx="54.2" cy="102" r="4.1" fill="#9cb8a0"/><circle cx="11.2" cy="73.9" r="5.5" fill="#cc4834"/><circle cx="8.9" cy="38.9" r="5" fill="#c44430"/><circle cx="77.2" cy="56.1" r="3.1" fill="#4c9488"/><circle cx="35.2" cy="54.6" r="5.5" fill="#ac8428"/><circle cx="39.6" cy="68.9" r="5.3" fill="#301810"/><circle cx="29.9" cy="25.2" r="6.1" fill="#c8542c"/><circle cx="90.4" cy="28.9" r="4.6" fill="#1c3424"/><circle cx="25.5" cy="30.3" r="3.4" fill="#20140e"/><circle cx="87.8" cy="53" r="2.7" fill="#48603c"/><circle cx="-6.1" cy="55.4" r="3.3" fill="#e07868"/><circle cx="75.8" cy="53.1" r="4.1" fill="#68b4a4"/><circle cx="16" cy="12.9" r="4.5" fill="#b84424"/><circle cx="10.4" cy="67.2" r="5.8" fill="#e07868"/><circle cx="17.9" cy="31.8" r="4.7" fill="#7c8c80"/><circle cx="18.1" cy="52.4" r="2.9" fill="#58a898"/><circle cx="25.7" cy="32.9" r="5.2" fill="#402418"/><circle cx="53.7" cy="83.9" r="6.3" fill="#301810"/><circle cx="39.9" cy="66.9" r="4.2" fill="#78c0b0"/><circle cx="-3.7" cy="60.9" r="5.7" fill="#cc4834"/><circle cx="86" cy="41.1" r="2.9" fill="#20140e"/><circle cx="14.2" cy="2.1" r="3.8" fill="#7c8c80"/></g></symbol>
<linearGradient id="s5bg" x1="0" y1="0" x2="1" y2="0"><stop offset="0" stop-color="#dca034"/><stop offset="0.45" stop-color="#cc9844"/><stop offset="0.7" stop-color="#a08868"/><stop offset="1" stop-color="#78687c"/></linearGradient>
<radialGradient id="s5g" cx="0.18" cy="0.98" r="0.66"><stop offset="0" stop-color="#468c08"/><stop offset="0.55" stop-color="#588a12"/><stop offset="1" stop-color="#6c8a20" stop-opacity="0"/></radialGradient>
<radialGradient id="s5t" cx="0.85" cy="0.8" r="0.55"><stop offset="0" stop-color="#d2ba76"/><stop offset="1" stop-color="#c8a860" stop-opacity="0"/></radialGradient>
<radialGradient id="s5o" cx="0.3" cy="0.5" r="0.3"><stop offset="0" stop-color="#86681e"/><stop offset="1" stop-color="#86681e" stop-opacity="0"/></radialGradient>
<radialGradient id="s5y" cx="0.9" cy="0.28" r="0.22"><stop offset="0" stop-color="#b4b4b4"/><stop offset="1" stop-color="#989898" stop-opacity="0"/></radialGradient><symbol id="S5" viewBox="0 0 100 100" preserveAspectRatio="none"><g filter="url(#fb4_0)"><rect x="-10" y="-10" width="120" height="120" fill="url(#s5bg)"/>
<rect x="-10" y="36" width="120" height="80" fill="#bc9c5c" fill-opacity="0.75"/>
<rect x="-10" y="-10" width="120" height="120" fill="url(#s5y)"/>
<ellipse cx="16" cy="56" rx="15" ry="26" fill="#86601e" fill-opacity="0.8"/>
<rect x="-10" y="-10" width="120" height="120" fill="url(#s5t)"/>
<path d="M50 28 Q32 46 36 66 Q52 80 62 108 L-8 108 L-8 74 Q18 64 30 40 Q38 28 50 28Z" fill="#4e8410"/>
<path d="M-8 80 Q20 74 40 108 L-8 108Z" fill="#3c7606"/>
<path d="M52 40 Q44 52 50 62 Q66 64 76 54 Q70 40 52 40Z" fill="#b09050" fill-opacity="0.8"/></g><line x1="3.1" y1="-5" x2="3.1" y2="105" stroke="#40300c" stroke-opacity="0.11" stroke-width="1"/><line x1="6.2" y1="-5" x2="6.2" y2="105" stroke="#40300c" stroke-opacity="0.11" stroke-width="1"/><line x1="9.3" y1="-5" x2="9.3" y2="105" stroke="#40300c" stroke-opacity="0.11" stroke-width="1"/><line x1="12.4" y1="-5" x2="12.4" y2="105" stroke="#40300c" stroke-opacity="0.11" stroke-width="1"/><line x1="15.5" y1="-5" x2="15.5" y2="105" stroke="#40300c" stroke-opacity="0.11" stroke-width="1"/><line x1="18.6" y1="-5" x2="18.6" y2="105" stroke="#40300c" stroke-opacity="0.11" stroke-width="1"/><line x1="21.7" y1="-5" x2="21.7" y2="105" stroke="#40300c" stroke-opacity="0.11" stroke-width="1"/><line x1="24.8" y1="-5" x2="24.8" y2="105" stroke="#40300c" stroke-opacity="0.11" stroke-width="1"/><line x1="27.9" y1="-5" x2="27.9" y2="105" stroke="#40300c" stroke-opacity="0.11" stroke-width="1"/><line x1="31" y1="-5" x2="31" y2="105" stroke="#40300c" stroke-opacity="0.11" stroke-width="1"/><line x1="34.1" y1="-5" x2="34.1" y2="105" stroke="#40300c" stroke-opacity="0.11" stroke-width="1"/><line x1="37.2" y1="-5" x2="37.2" y2="105" stroke="#40300c" stroke-opacity="0.11" stroke-width="1"/><line x1="40.3" y1="-5" x2="40.3" y2="105" stroke="#40300c" stroke-opacity="0.11" stroke-width="1"/><line x1="43.4" y1="-5" x2="43.4" y2="105" stroke="#40300c" stroke-opacity="0.11" stroke-width="1"/><line x1="46.5" y1="-5" x2="46.5" y2="105" stroke="#40300c" stroke-opacity="0.11" stroke-width="1"/><line x1="49.6" y1="-5" x2="49.6" y2="105" stroke="#40300c" stroke-opacity="0.11" stroke-width="1"/><line x1="52.7" y1="-5" x2="52.7" y2="105" stroke="#40300c" stroke-opacity="0.11" stroke-width="1"/><line x1="55.8" y1="-5" x2="55.8" y2="105" stroke="#40300c" stroke-opacity="0.11" stroke-width="1"/><line x1="58.9" y1="-5" x2="58.9" y2="105" stroke="#40300c" stroke-opacity="0.11" stroke-width="1"/><line x1="62" y1="-5" x2="62" y2="105" stroke="#40300c" stroke-opacity="0.11" stroke-width="1"/><line x1="65.1" y1="-5" x2="65.1" y2="105" stroke="#40300c" stroke-opacity="0.11" stroke-width="1"/><line x1="68.2" y1="-5" x2="68.2" y2="105" stroke="#40300c" stroke-opacity="0.11" stroke-width="1"/><line x1="71.3" y1="-5" x2="71.3" y2="105" stroke="#40300c" stroke-opacity="0.11" stroke-width="1"/><line x1="74.4" y1="-5" x2="74.4" y2="105" stroke="#40300c" stroke-opacity="0.11" stroke-width="1"/><line x1="77.5" y1="-5" x2="77.5" y2="105" stroke="#40300c" stroke-opacity="0.11" stroke-width="1"/><line x1="80.6" y1="-5" x2="80.6" y2="105" stroke="#40300c" stroke-opacity="0.11" stroke-width="1"/><line x1="83.7" y1="-5" x2="83.7" y2="105" stroke="#40300c" stroke-opacity="0.11" stroke-width="1"/><line x1="86.8" y1="-5" x2="86.8" y2="105" stroke="#40300c" stroke-opacity="0.11" stroke-width="1"/><line x1="89.9" y1="-5" x2="89.9" y2="105" stroke="#40300c" stroke-opacity="0.11" stroke-width="1"/><line x1="93" y1="-5" x2="93" y2="105" stroke="#40300c" stroke-opacity="0.11" stroke-width="1"/><line x1="96.1" y1="-5" x2="96.1" y2="105" stroke="#40300c" stroke-opacity="0.11" stroke-width="1"/><line x1="99.2" y1="-5" x2="99.2" y2="105" stroke="#40300c" stroke-opacity="0.11" stroke-width="1"/><line y1="3.1" x1="-5" y2="3.1" x2="105" stroke="#40300c" stroke-opacity="0.11" stroke-width="1"/><line y1="6.2" x1="-5" y2="6.2" x2="105" stroke="#40300c" stroke-opacity="0.11" stroke-width="1"/><line y1="9.3" x1="-5" y2="9.3" x2="105" stroke="#40300c" stroke-opacity="0.11" stroke-width="1"/><line y1="12.4" x1="-5" y2="12.4" x2="105" stroke="#40300c" stroke-opacity="0.11" stroke-width="1"/><line y1="15.5" x1="-5" y2="15.5" x2="105" stroke="#40300c" stroke-opacity="0.11" stroke-width="1"/><line y1="18.6" x1="-5" y2="18.6" x2="105" stroke="#40300c" stroke-opacity="0.11" stroke-width="1"/><line y1="21.7" x1="-5" y2="21.7" x2="105" stroke="#40300c" stroke-opacity="0.11" stroke-width="1"/><line y1="24.8" x1="-5" y2="24.8" x2="105" stroke="#40300c" stroke-opacity="0.11" stroke-width="1"/><line y1="27.9" x1="-5" y2="27.9" x2="105" stroke="#40300c" stroke-opacity="0.11" stroke-width="1"/><line y1="31" x1="-5" y2="31" x2="105" stroke="#40300c" stroke-opacity="0.11" stroke-width="1"/><line y1="34.1" x1="-5" y2="34.1" x2="105" stroke="#40300c" stroke-opacity="0.11" stroke-width="1"/><line y1="37.2" x1="-5" y2="37.2" x2="105" stroke="#40300c" stroke-opacity="0.11" stroke-width="1"/><line y1="40.3" x1="-5" y2="40.3" x2="105" stroke="#40300c" stroke-opacity="0.11" stroke-width="1"/><line y1="43.4" x1="-5" y2="43.4" x2="105" stroke="#40300c" stroke-opacity="0.11" stroke-width="1"/><line y1="46.5" x1="-5" y2="46.5" x2="105" stroke="#40300c" stroke-opacity="0.11" stroke-width="1"/><line y1="49.6" x1="-5" y2="49.6" x2="105" stroke="#40300c" stroke-opacity="0.11" stroke-width="1"/><line y1="52.7" x1="-5" y2="52.7" x2="105" stroke="#40300c" stroke-opacity="0.11" stroke-width="1"/><line y1="55.8" x1="-5" y2="55.8" x2="105" stroke="#40300c" stroke-opacity="0.11" stroke-width="1"/><line y1="58.9" x1="-5" y2="58.9" x2="105" stroke="#40300c" stroke-opacity="0.11" stroke-width="1"/><line y1="62" x1="-5" y2="62" x2="105" stroke="#40300c" stroke-opacity="0.11" stroke-width="1"/><line y1="65.1" x1="-5" y2="65.1" x2="105" stroke="#40300c" stroke-opacity="0.11" stroke-width="1"/><line y1="68.2" x1="-5" y2="68.2" x2="105" stroke="#40300c" stroke-opacity="0.11" stroke-width="1"/><line y1="71.3" x1="-5" y2="71.3" x2="105" stroke="#40300c" stroke-opacity="0.11" stroke-width="1"/><line y1="74.4" x1="-5" y2="74.4" x2="105" stroke="#40300c" stroke-opacity="0.11" stroke-width="1"/><line y1="77.5" x1="-5" y2="77.5" x2="105" stroke="#40300c" stroke-opacity="0.11" stroke-width="1"/><line y1="80.6" x1="-5" y2="80.6" x2="105" stroke="#40300c" stroke-opacity="0.11" stroke-width="1"/><line y1="83.7" x1="-5" y2="83.7" x2="105" stroke="#40300c" stroke-opacity="0.11" stroke-width="1"/><line y1="86.8" x1="-5" y2="86.8" x2="105" stroke="#40300c" stroke-opacity="0.11" stroke-width="1"/><line y1="89.9" x1="-5" y2="89.9" x2="105" stroke="#40300c" stroke-opacity="0.11" stroke-width="1"/><line y1="93" x1="-5" y2="93" x2="105" stroke="#40300c" stroke-opacity="0.11" stroke-width="1"/><line y1="96.1" x1="-5" y2="96.1" x2="105" stroke="#40300c" stroke-opacity="0.11" stroke-width="1"/><line y1="99.2" x1="-5" y2="99.2" x2="105" stroke="#40300c" stroke-opacity="0.11" stroke-width="1"/></symbol>
<linearGradient id="o1bg" x1="0" y1="0" x2="0" y2="1"><stop offset="0" stop-color="#fff4f4"/><stop offset="0.14" stop-color="#facccf"/><stop offset="0.5" stop-color="#f6a8a8"/><stop offset="0.64" stop-color="#ee8080"/><stop offset="0.76" stop-color="#dc4444"/><stop offset="0.84" stop-color="#b01818"/><stop offset="0.9" stop-color="#780810"/><stop offset="1" stop-color="#400818"/></linearGradient><symbol id="O1" viewBox="0 0 100 100" preserveAspectRatio="none"><g filter="url(#fb0_7)"><rect x="-10" y="-10" width="120" height="120" fill="url(#o1bg)"/><path d="M8 8 Q5 35 3 60" fill="none" stroke="#d0607a" stroke-width="2.2" stroke-opacity="0.8"/><circle cx="9" cy="8" r="2.8" fill="#cc4c6c"/><path d="M24 8 Q21 35 19 60" fill="none" stroke="#d0607a" stroke-width="2.2" stroke-opacity="0.8"/><circle cx="25" cy="13" r="2.8" fill="#cc4c6c"/><path d="M44 8 Q41 35 39 60" fill="none" stroke="#d0607a" stroke-width="2.2" stroke-opacity="0.8"/><circle cx="45" cy="8" r="2.8" fill="#cc4c6c"/><path d="M64 8 Q61 35 59 60" fill="none" stroke="#d0607a" stroke-width="2.2" stroke-opacity="0.8"/><circle cx="65" cy="13" r="2.8" fill="#cc4c6c"/><path d="M83 8 Q80 35 78 60" fill="none" stroke="#d0607a" stroke-width="2.2" stroke-opacity="0.8"/><circle cx="84" cy="8" r="2.8" fill="#cc4c6c"/><path d="M100 8 Q97 35 95 60" fill="none" stroke="#d0607a" stroke-width="2.2" stroke-opacity="0.8"/><circle cx="101" cy="13" r="2.8" fill="#cc4c6c"/><path d="M7 55 L3 88" stroke="#b02c38" stroke-width="2.4" stroke-opacity="0.65"/><path d="M16 55 L12 88" stroke="#b02c38" stroke-width="2.4" stroke-opacity="0.65"/><path d="M25 55 L21 88" stroke="#b02c38" stroke-width="2.4" stroke-opacity="0.65"/><path d="M34 55 L30 88" stroke="#b02c38" stroke-width="2.4" stroke-opacity="0.65"/><path d="M43 55 L39 88" stroke="#b02c38" stroke-width="2.4" stroke-opacity="0.65"/><path d="M52 55 L48 88" stroke="#b02c38" stroke-width="2.4" stroke-opacity="0.65"/><path d="M61 55 L57 88" stroke="#b02c38" stroke-width="2.4" stroke-opacity="0.65"/><path d="M70 55 L66 88" stroke="#b02c38" stroke-width="2.4" stroke-opacity="0.65"/><path d="M79 55 L75 88" stroke="#b02c38" stroke-width="2.4" stroke-opacity="0.65"/><path d="M88 55 L84 88" stroke="#b02c38" stroke-width="2.4" stroke-opacity="0.65"/><path d="M97 55 L93 88" stroke="#b02c38" stroke-width="2.4" stroke-opacity="0.65"/><path d="M106 55 L102 88" stroke="#b02c38" stroke-width="2.4" stroke-opacity="0.65"/>
<path d="M-5 89 Q12 94 50 98 Q88 96 105 89 V110 H-5Z" fill="#34103c"/>
<path d="M6 94 L12 99 L18 93 L24 100 L30 95 L38 100 L46 98" fill="none" stroke="#c8b8e8" stroke-width="2.8"/>
<path d="M80 100 L88 95 L94 99 L102 92" fill="none" stroke="#c8b8e8" stroke-width="2.8"/></g></symbol><symbol id="O2" viewBox="0 0 100 100" preserveAspectRatio="none"><g filter="url(#fb0_7)"><rect x="-10" y="-10" width="120" height="120" fill="#b88e95"/><circle cx="63.1" cy="46.8" r="1.4" fill="#c8a0a8"/><circle cx="61.6" cy="21.4" r="1.1" fill="#c8a0a8"/><circle cx="20.9" cy="58.8" r="1" fill="#a88088"/><circle cx="50.5" cy="55.2" r="1" fill="#a88088"/><circle cx="85.5" cy="27.8" r="1.3" fill="#c8a0a8"/><circle cx="83.4" cy="64" r="1.1" fill="#c09aa0"/><circle cx="51.1" cy="61" r="1.5" fill="#c09aa0"/><circle cx="37.5" cy="42.9" r="0.9" fill="#c8a0a8"/><circle cx="71.7" cy="109" r="1.3" fill="#c09aa0"/><circle cx="18.8" cy="61.2" r="1.5" fill="#a88088"/><circle cx="51.1" cy="38.3" r="1.4" fill="#c09aa0"/><circle cx="31.2" cy="26.1" r="1.3" fill="#a88088"/><circle cx="19.5" cy="44.4" r="0.9" fill="#c09aa0"/><circle cx="27.1" cy="43.3" r="1.5" fill="#a88088"/><circle cx="47.1" cy="77.1" r="1.1" fill="#c09aa0"/><circle cx="61.8" cy="73.3" r="0.9" fill="#c09aa0"/><circle cx="119" cy="61.2" r="0.9" fill="#c8a0a8"/><circle cx="52.1" cy="26.3" r="0.9" fill="#a88088"/><circle cx="71.5" cy="75.7" r="1.1" fill="#c8a0a8"/><circle cx="47.2" cy="61.3" r="0.9" fill="#c8a0a8"/><circle cx="35.2" cy="47.4" r="1.5" fill="#a88088"/><circle cx="59.3" cy="48.8" r="0.8" fill="#c8a0a8"/><circle cx="42.8" cy="38.9" r="1" fill="#a88088"/><circle cx="99.4" cy="50.9" r="1" fill="#c09aa0"/><circle cx="92.8" cy="40.5" r="1.6" fill="#c09aa0"/><circle cx="35.6" cy="73.5" r="0.9" fill="#c8a0a8"/><circle cx="20.6" cy="50.5" r="0.9" fill="#c8a0a8"/><circle cx="43.2" cy="13.1" r="1.4" fill="#c09aa0"/><circle cx="43.7" cy="21.3" r="1.1" fill="#a88088"/><circle cx="57.8" cy="52.6" r="0.9" fill="#c8a0a8"/><circle cx="40.7" cy="15.5" r="0.8" fill="#a88088"/><circle cx="-21" cy="37.4" r="1.4" fill="#c09aa0"/><circle cx="45.2" cy="33.3" r="1" fill="#c09aa0"/><circle cx="33" cy="47.9" r="1" fill="#a88088"/><circle cx="47.5" cy="-9.5" r="1.6" fill="#c8a0a8"/><circle cx="73.8" cy="63" r="1.4" fill="#c09aa0"/><circle cx="21.4" cy="7.4" r="1.9" fill="#f0b8c8"/><circle cx="73.8" cy="73.6" r="1.4" fill="#f0b8c8"/><circle cx="25.3" cy="46.8" r="1.7" fill="#f0b8c8"/><circle cx="16.3" cy="48.9" r="1.3" fill="#e890a8"/><circle cx="93.5" cy="52.8" r="1.8" fill="#f0b8c8"/><circle cx="90.8" cy="51.7" r="2.1" fill="#f0b8c8"/><circle cx="16.9" cy="27.6" r="2" fill="#f8dce4"/><circle cx="43.4" cy="12.8" r="1.8" fill="#f0b8c8"/><circle cx="14.4" cy="37.1" r="2.3" fill="#f0b8c8"/><circle cx="2.7" cy="31.4" r="1.5" fill="#e890a8"/><circle cx="68" cy="22.6" r="1.7" fill="#e890a8"/><circle cx="36.9" cy="8.3" r="2.2" fill="#f0b8c8"/><circle cx="20.7" cy="45.8" r="1.8" fill="#f0b8c8"/><circle cx="78.2" cy="42.7" r="1.4" fill="#e890a8"/><circle cx="91.8" cy="48.9" r="2.1" fill="#e890a8"/><circle cx="29.5" cy="23.9" r="1.4" fill="#e890a8"/><circle cx="37.6" cy="2.5" r="2.3" fill="#f0b8c8"/><circle cx="50.2" cy="7.3" r="1.9" fill="#e890a8"/><circle cx="81.3" cy="32.7" r="2.4" fill="#e890a8"/><circle cx="79.3" cy="31.9" r="2.2" fill="#f0b8c8"/><circle cx="75.7" cy="21.2" r="1.5" fill="#e890a8"/><circle cx="16" cy="20.2" r="2.1" fill="#f0b8c8"/><circle cx="83.9" cy="67.4" r="1.5" fill="#e8a0b0"/><circle cx="14.3" cy="39.3" r="2.3" fill="#f8dce4"/><circle cx="85.3" cy="54.4" r="2.2" fill="#e890a8"/><circle cx="9.7" cy="28.6" r="2.2" fill="#d86888"/><circle cx="90.8" cy="51.8" r="1.9" fill="#f8dce4"/><circle cx="29" cy="12.6" r="2.2" fill="#f0b8c8"/><circle cx="13.8" cy="31.2" r="1.2" fill="#d86888"/><circle cx="17.8" cy="46.9" r="1.5" fill="#e890a8"/><circle cx="81.4" cy="35.2" r="1.5" fill="#e890a8"/><circle cx="26.1" cy="11.4" r="2.2" fill="#f0b8c8"/><circle cx="83.4" cy="51.8" r="1.3" fill="#f0b8c8"/><circle cx="42.7" cy="5" r="1.9" fill="#f8dce4"/><circle cx="30.6" cy="12.5" r="2.2" fill="#f0b8c8"/><circle cx="36.9" cy="16" r="1.6" fill="#f8dce4"/><circle cx="65.5" cy="20.4" r="1.9" fill="#f0b8c8"/><circle cx="82.7" cy="17" r="1.6" fill="#e890a8"/><circle cx="17.4" cy="17.4" r="1.7" fill="#f8dce4"/><circle cx="82.9" cy="55.9" r="2" fill="#f8dce4"/><circle cx="72.3" cy="14.6" r="1.9" fill="#f0b8c8"/><circle cx="88.8" cy="47.7" r="1.8" fill="#e890a8"/><circle cx="19.3" cy="31.1" r="1.3" fill="#f8dce4"/><circle cx="92.6" cy="46.1" r="1.7" fill="#f0b8c8"/><circle cx="38.7" cy="10.5" r="2.3" fill="#f8dce4"/><circle cx="6.2" cy="30.7" r="2.2" fill="#e890a8"/><circle cx="11.3" cy="41.2" r="2" fill="#e890a8"/><circle cx="28.3" cy="11.5" r="2.1" fill="#f8dce4"/><circle cx="84.5" cy="72" r="1.5" fill="#e8a0b0"/><circle cx="71.5" cy="17.9" r="1.4" fill="#f8dce4"/><circle cx="31.7" cy="11.1" r="1.8" fill="#f0b8c8"/><circle cx="86.1" cy="75.7" r="1.9" fill="#e8a0b0"/><circle cx="88.7" cy="49.2" r="2.3" fill="#e890a8"/><circle cx="96.3" cy="25.6" r="2.5" fill="#e890a8"/><circle cx="21" cy="6.7" r="1.4" fill="#e890a8"/><circle cx="77.6" cy="32.7" r="1.6" fill="#e890a8"/><circle cx="88.7" cy="50.7" r="2.4" fill="#f0b8c8"/><circle cx="16.3" cy="19.1" r="2.2" fill="#f0b8c8"/><circle cx="7.6" cy="27.6" r="1.8" fill="#d86888"/><circle cx="30.3" cy="14.3" r="1.3" fill="#e890a8"/><circle cx="23.7" cy="14.3" r="1.4" fill="#f8dce4"/><circle cx="18.2" cy="41.6" r="1.3" fill="#f0b8c8"/><circle cx="42.2" cy="6" r="1.9" fill="#f8dce4"/><circle cx="84.6" cy="71.5" r="1.8" fill="#f0b8c8"/><circle cx="91.5" cy="17" r="2.1" fill="#e890a8"/><circle cx="14.7" cy="23.7" r="2.1" fill="#d86888"/><circle cx="89" cy="49.9" r="1.4" fill="#e890a8"/><circle cx="16.7" cy="6.5" r="1.3" fill="#f0b8c8"/><circle cx="31.7" cy="19.4" r="1.7" fill="#e890a8"/><circle cx="17.7" cy="31.4" r="2.2" fill="#d86888"/><path d="M22 30 L10 28" stroke="#dc5880" stroke-width="1.8" stroke-linecap="round"/><path d="M22 30 L14 40" stroke="#dc5880" stroke-width="1.8" stroke-linecap="round"/><path d="M30 26 L22 12" stroke="#dc5880" stroke-width="1.8" stroke-linecap="round"/><path d="M40 32 L38 8" stroke="#dc5880" stroke-width="1.8" stroke-linecap="round"/><path d="M58 24 L72 16" stroke="#dc5880" stroke-width="1.8" stroke-linecap="round"/><path d="M62 40 L84 28" stroke="#dc5880" stroke-width="1.8" stroke-linecap="round"/><path d="M70 52 L90 50" stroke="#dc5880" stroke-width="1.8" stroke-linecap="round"/><path d="M66 64 L86 70" stroke="#dc5880" stroke-width="1.8" stroke-linecap="round"/><path d="M46 44 L30 52" stroke="#dc5880" stroke-width="1.8" stroke-linecap="round"/><path d="M52 58 L38 64" stroke="#dc5880" stroke-width="1.8" stroke-linecap="round"/><ellipse cx="30" cy="25" rx="12" ry="5.6" fill="#d4e4c0" transform="rotate(25 30 25)"/><ellipse cx="49" cy="23" rx="13" ry="6.4" fill="#dce8c8" transform="rotate(-70 49 23)"/><ellipse cx="41" cy="34" rx="8" ry="4" fill="#f0e4d0" transform="rotate(35 41 34)"/><ellipse cx="69" cy="50" rx="14" ry="6.8" fill="#d0e0bc" transform="rotate(-30 69 50)"/><ellipse cx="63" cy="35" rx="9" ry="4.4" fill="#ecd8d0" transform="rotate(-55 63 35)"/><ellipse cx="62" cy="80" rx="12" ry="5.6" fill="#dce4c4" transform="rotate(-25 62 80)"/><ellipse cx="68" cy="66" rx="11" ry="5" fill="#e8ecd4" transform="rotate(-15 68 66)"/><ellipse cx="44" cy="60" rx="8" ry="3.8" fill="#f0d4d8" transform="rotate(20 44 60)"/><ellipse cx="48" cy="74" rx="7" ry="3.4" fill="#f0d0d8" transform="rotate(30 48 74)"/><ellipse cx="20" cy="36" rx="7" ry="3.2" fill="#ecd0d4" transform="rotate(-10 20 36)"/><polyline points="49,92 49.8,89.2 51,85.3 52.3,80.8 53.4,76.2 54,72 54.2,68.2 54.1,64.6 53.7,61 53,57.4 52,54 50.6,50.5 48.8,47.1 46.7,43.7 44.4,40.7 42,38 39.4,35.8 36.5,33.8 33.5,32.2 30.6,31 28,30 25.6,29.5 23.2,29.4 21.1,29.6 19.3,29.9 18,30" fill="none" stroke="#c41c4c" stroke-width="2.8" stroke-linecap="round"/><polyline points="52,54 52.6,51.6 53.5,48.3 54.5,44.4 55.4,40.1 56,36 56.3,31.5 56.3,26.4 56.2,21.4 56.1,17.1 56,14" fill="none" stroke="#c41c4c" stroke-width="2.8" stroke-linecap="round"/><polyline points="54,72 55.9,70 58.6,67.1 61.7,63.8 65,60.6 68,58 71,55.9 74.3,54 77.4,52.3 80.1,51 82,50" fill="none" stroke="#c41c4c" stroke-width="2.8" stroke-linecap="round"/><polyline points="42,38 41.2,36 40,33.2 38.7,30 37.3,26.8 36,24 34.7,21.6 33.3,19.2 32,17.1 30.8,15.3 30,14" fill="none" stroke="#c41c4c" stroke-width="2.8" stroke-linecap="round"/><polyline points="53,64 54.2,62.1 56,59.3 58,56.1 60.1,52.9 62,50 63.8,47.3 65.7,44.5 67.4,41.8 68.9,39.6 70,38" fill="none" stroke="#c41c4c" stroke-width="2.8" stroke-linecap="round"/><polyline points="51,84 52.5,83.1 54.6,81.8 57,80.4 59.6,79 62,78 64.5,77.3 67.3,76.8 70,76.5 72.4,76.2 74,76" fill="none" stroke="#c41c4c" stroke-width="2.8" stroke-linecap="round"/><circle cx="24" cy="92" r="0.9" fill="#f4e8ec"/><circle cx="27" cy="92" r="0.9" fill="#f4e8ec"/><circle cx="30" cy="92" r="0.9" fill="#f4e8ec"/><circle cx="33" cy="92" r="0.9" fill="#f4e8ec"/><circle cx="36" cy="92" r="0.9" fill="#f4e8ec"/><circle cx="39" cy="92" r="0.9" fill="#f4e8ec"/><circle cx="42" cy="92" r="0.9" fill="#f4e8ec"/><circle cx="45" cy="92" r="0.9" fill="#f4e8ec"/><circle cx="48" cy="92" r="0.9" fill="#f4e8ec"/><circle cx="51" cy="92" r="0.9" fill="#f4e8ec"/><circle cx="54" cy="92" r="0.9" fill="#f4e8ec"/><circle cx="57" cy="92" r="0.9" fill="#f4e8ec"/><circle cx="60" cy="92" r="0.9" fill="#f4e8ec"/><circle cx="63" cy="92" r="0.9" fill="#f4e8ec"/><circle cx="66" cy="92" r="0.9" fill="#f4e8ec"/><circle cx="69" cy="92" r="0.9" fill="#f4e8ec"/><circle cx="72" cy="92" r="0.9" fill="#f4e8ec"/><circle cx="75" cy="92" r="0.9" fill="#f4e8ec"/><circle cx="78" cy="92" r="0.9" fill="#f4e8ec"/><circle cx="81" cy="92" r="0.9" fill="#f4e8ec"/></g></symbol>
<linearGradient id="o3bg" x1="0" y1="0" x2="0" y2="1"><stop offset="0" stop-color="#083420"/><stop offset="0.45" stop-color="#0a2a1a"/><stop offset="0.6" stop-color="#161616"/><stop offset="1" stop-color="#0e0e0e"/></linearGradient><symbol id="O3" viewBox="0 0 100 100" preserveAspectRatio="none"><g filter="url(#fb0_7)"><rect x="-10" y="-10" width="120" height="120" fill="url(#o3bg)"/><line x1="-5" y1="64" x2="105" y2="59" stroke="#a0a098" stroke-width="1.6" stroke-opacity="0.55"/><line x1="-5" y1="70" x2="105" y2="65" stroke="#a0a098" stroke-width="1.6" stroke-opacity="0.55"/><line x1="-5" y1="76" x2="105" y2="71" stroke="#a0a098" stroke-width="1.6" stroke-opacity="0.55"/><line x1="-5" y1="82" x2="105" y2="77" stroke="#a0a098" stroke-width="1.6" stroke-opacity="0.55"/><line x1="-5" y1="88" x2="105" y2="83" stroke="#a0a098" stroke-width="1.6" stroke-opacity="0.55"/><line x1="-5" y1="94" x2="105" y2="89" stroke="#a0a098" stroke-width="1.6" stroke-opacity="0.55"/><line x1="-5" y1="100" x2="105" y2="95" stroke="#a0a098" stroke-width="1.6" stroke-opacity="0.55"/><line x1="-5" y1="106" x2="105" y2="101" stroke="#a0a098" stroke-width="1.6" stroke-opacity="0.55"/>
<path d="M-5 22 L12 14 L24 22 L-5 62Z" fill="#c8c0c6"/>
<ellipse cx="52" cy="55" rx="44" ry="45" fill="#d2d2de"/><polyline points="20,20 29,46 38,23 47,47 56,19 64,47 73,23 81,48 90,27" fill="none" stroke="#1c2262" stroke-width="4.6" stroke-linejoin="miter" stroke-miterlimit="10"/><polyline points="22,88 31,60 40,82 50,58 59,86 67,60 75,84 83,62 90,80" fill="none" stroke="#1c2060" stroke-width="4.6" stroke-linejoin="miter" stroke-miterlimit="10"/>
<path d="M4 47 L22 40 L40 43 L58 41 L78 47 L96 60 L72 66 L52 62 L34 64 L18 56 Z" fill="#1a5866"/>
<path d="M18 44 L38 41 L36 48 L60 52 L86 55 L90 60 L60 60 L34 56Z" fill="#28a094"/>
<path d="M24 42 L36 40 L34 44Z M42 58 L62 56 L60 61Z" fill="#74e4d4"/>
<circle cx="64" cy="48" r="2" fill="#f4f4f4"/><circle cx="28" cy="52" r="1.8" fill="#e8c890"/></g></symbol></defs>
<defs><linearGradient id="gjet" x1="0" y1="0" x2="0" y2="1"><stop offset="0%" stop-color="#800000"/><stop offset="5%" stop-color="#b90000"/><stop offset="10%" stop-color="#f30900"/><stop offset="15%" stop-color="#ff3900"/><stop offset="20%" stop-color="#ff6800"/><stop offset="25%" stop-color="#ff9700"/><stop offset="30%" stop-color="#ffc600"/><stop offset="35%" stop-color="#f7f600"/><stop offset="40%" stop-color="#ceff29"/><stop offset="45%" stop-color="#a5ff52"/><stop offset="50%" stop-color="#7bff7b"/><stop offset="55%" stop-color="#52ffa5"/><stop offset="60%" stop-color="#29ffce"/><stop offset="65%" stop-color="#00e5f7"/><stop offset="70%" stop-color="#00b3ff"/><stop offset="75%" stop-color="#0080ff"/><stop offset="80%" stop-color="#004cff"/><stop offset="85%" stop-color="#001aff"/><stop offset="90%" stop-color="#0000f3"/><stop offset="95%" stop-color="#0000b9"/><stop offset="100%" stop-color="#000080"/></linearGradient><linearGradient id="ggray" x1="0" y1="0" x2="0" y2="1"><stop offset="0" stop-color="#fff"/><stop offset="1" stop-color="#000"/></linearGradient></defs>
<defs><pattern id="dotsL" width="8.4" height="8.4" patternUnits="userSpaceOnUse"><rect x="1" y="1" width="1.7" height="1.7" fill="#fff" fill-opacity="0.15"/><rect x="5.2" y="5.2" width="1.7" height="1.7" fill="#fff" fill-opacity="0.15"/></pattern><pattern id="dotsD" width="8.4" height="8.4" patternUnits="userSpaceOnUse"><rect x="1" y="1" width="1.7" height="1.7" fill="#000" fill-opacity="0.16"/><rect x="5.2" y="5.2" width="1.7" height="1.7" fill="#000" fill-opacity="0.16"/></pattern></defs>
<text class="ls" x="0.5" y="53.5" font-size="60.5" font-weight="bold">A</text>
<text class="ls" x="89" y="106.5" font-size="43" textLength="155" lengthAdjust="spacingAndGlyphs">Stimulus</text>
<text class="ls" x="426" y="210" font-size="43" textLength="162" lengthAdjust="spacingAndGlyphs">Outcome</text>
<use href="#S1" x="106.2" y="135.5" width="118.3" height="117"/>
<text class="ls" x="48.4" y="208" font-size="43" textLength="42" lengthAdjust="spacingAndGlyphs">S1</text>
<use href="#S2" x="106.2" y="273.2" width="118.3" height="116"/>
<text class="ls" x="48.4" y="344" font-size="43" textLength="42" lengthAdjust="spacingAndGlyphs">S2</text>
<use href="#S3" x="106.2" y="404.6" width="118.3" height="119.1"/>
<text class="ls" x="48.4" y="473" font-size="43" textLength="42" lengthAdjust="spacingAndGlyphs">S3</text>
<use href="#S4" x="106.2" y="536.6" width="118.3" height="120.7"/>
<text class="ls" x="48.4" y="609.9" font-size="43" textLength="42" lengthAdjust="spacingAndGlyphs">S4</text>
<use href="#S5" x="106.2" y="673" width="118.3" height="117.2"/>
<text class="ls" x="48.4" y="743.9" font-size="43" textLength="42" lengthAdjust="spacingAndGlyphs">S5</text>
<use href="#O1" x="442.8" y="250.4" width="114.8" height="118"/>
<use href="#O2" x="440.1" y="394.7" width="117.5" height="118.5"/>
<use href="#O3" x="437.5" y="539.1" width="119.3" height="118.4"/>
<text class="ls" x="571.6" y="327" font-size="43" textLength="48.7" lengthAdjust="spacingAndGlyphs">O1</text>
<text class="ls" x="567.6" y="473" font-size="43" textLength="49.4" lengthAdjust="spacingAndGlyphs">O2</text>
<text class="ls" x="567.6" y="619.8" font-size="43" textLength="49.4" lengthAdjust="spacingAndGlyphs">O3</text>
<line x1="226" y1="193" x2="442.5" y2="313" stroke="#909090" stroke-width="1.7" /><line x1="442.5" y1="313" x2="416.6" y2="310.8" stroke="#909090" stroke-width="1.4" /><line x1="442.5" y1="313" x2="426.9" y2="292.2" stroke="#909090" stroke-width="1.4" />
<line x1="226" y1="465.2" x2="442.5" y2="313" stroke="#909090" stroke-width="1.7" /><line x1="442.5" y1="313" x2="429.2" y2="335.3" stroke="#909090" stroke-width="1.4" /><line x1="442.5" y1="313" x2="417" y2="318" stroke="#909090" stroke-width="1.4" />
<line x1="226" y1="331" x2="440" y2="456.5" stroke="#909090" stroke-width="1.7" /><line x1="440" y1="456.5" x2="414.2" y2="453.6" stroke="#909090" stroke-width="1.4" /><line x1="440" y1="456.5" x2="424.9" y2="435.3" stroke="#909090" stroke-width="1.4" />
<line x1="226" y1="598" x2="440" y2="456.5" stroke="#909090" stroke-width="1.7" /><line x1="440" y1="456.5" x2="426" y2="478.4" stroke="#909090" stroke-width="1.4" /><line x1="440" y1="456.5" x2="414.3" y2="460.8" stroke="#909090" stroke-width="1.4" />
<line x1="226" y1="734" x2="437" y2="601.5" stroke="#909090" stroke-width="1.7" /><line x1="437" y1="601.5" x2="422.5" y2="623.1" stroke="#909090" stroke-width="1.4" /><line x1="437" y1="601.5" x2="411.3" y2="605.1" stroke="#909090" stroke-width="1.4" />
<line x1="415.5" y1="313" x2="442.5" y2="313" stroke="#9a9a9a" stroke-width="4.5" />
<line x1="413" y1="456.5" x2="440" y2="456.5" stroke="#9a9a9a" stroke-width="4.5" />
<line x1="410" y1="601.5" x2="437" y2="601.5" stroke="#9a9a9a" stroke-width="4.5" />
<circle cx="281.9" cy="227" r="22.3" fill="#fff" stroke="#000" stroke-width="4.7" /><text class="ls" x="281.9" y="240.2" font-size="37" font-weight="bold" text-anchor="middle">1</text>
<circle cx="281.9" cy="364.7" r="22.3" fill="#fff" stroke="#000" stroke-width="4.7" /><text class="ls" x="281.9" y="377.9" font-size="37" font-weight="bold" text-anchor="middle">2</text>
<circle cx="281.9" cy="444.2" r="22.3" fill="#fff" stroke="#000" stroke-width="4.7" /><text class="ls" x="281.9" y="457.4" font-size="37" font-weight="bold" text-anchor="middle">3</text>
<circle cx="281.9" cy="570.3" r="22.3" fill="#fff" stroke="#000" stroke-width="4.7" /><text class="ls" x="281.9" y="583.5" font-size="37" font-weight="bold" text-anchor="middle">4</text>
<circle cx="281.9" cy="709.8" r="22.3" fill="#fff" stroke="#000" stroke-width="4.7" /><text class="ls" x="281.9" y="723" font-size="37" font-weight="bold" text-anchor="middle">5</text>
<text class="ls" x="729" y="52.7" font-size="60.5" font-weight="bold">B</text>
<text class="ls" x="868.5" y="134" font-size="43" textLength="99.8" lengthAdjust="spacingAndGlyphs">Trials</text>
<rect x="1013.2" y="46.4" width="248.8" height="204.1" fill="#595959" stroke="#000" stroke-width="4" /><use href="#S1" x="1052.8" y="97.1" width="114.9" height="114.9"/><text class="ls" x="1202.6" y="97" font-size="41" textLength="39.6" lengthAdjust="spacingAndGlyphs" fill="#fff">S1</text>
<rect x="1130.9" y="181.2" width="248.9" height="204.4" fill="#595959" stroke="#000" stroke-width="4" /><use href="#O1" x="1174.8" y="233" width="115" height="113.8"/><text class="ls" x="1326.3" y="238.6" font-size="41" textLength="46.3" lengthAdjust="spacingAndGlyphs" fill="#fff">O1</text>
<rect x="1266.5" y="318" width="248.7" height="204" fill="#595959" stroke="#000" stroke-width="4" /><text class="ls" x="1453.8" y="375.8" font-size="41" textLength="44.2" lengthAdjust="spacingAndGlyphs" fill="#fff">Nil</text>
<rect x="1376.5" y="436" width="249.1" height="205.3" fill="#595959" stroke="#000" stroke-width="4" /><use href="#S2" x="1414.4" y="487" width="115.5" height="114.7"/><text class="ls" x="1571.5" y="500.6" font-size="41" textLength="39.1" lengthAdjust="spacingAndGlyphs" fill="#fff">S2</text>
<rect x="1497" y="566.8" width="249.6" height="205.8" fill="#595959" stroke="#000" stroke-width="4" /><use href="#O2" x="1542.6" y="620.8" width="114.7" height="114.7"/><text class="ls" x="1685.7" y="626.4" font-size="41" textLength="47.2" lengthAdjust="spacingAndGlyphs" fill="#fff">O2</text>
<line x1="922" y1="155.8" x2="1529.9" y2="816.1" stroke="#777171" stroke-width="3.1" />
<polygon points="1544.8,832.3 1522.5,822.9 1537.3,809.3" fill="#777171"/>
<circle cx="806.2" cy="329.8" r="89.4" fill="#fff" stroke="#000" stroke-width="3.6" />
<text class="ls" x="758.7" y="320.3" font-size="42" font-weight="bold" textLength="91.2" lengthAdjust="spacingAndGlyphs">Task</text>
<text class="ls" x="736.5" y="356.7" font-size="42" font-weight="bold" textLength="134.8" lengthAdjust="spacingAndGlyphs">control</text>
<text class="ls" x="902" y="291.3" font-size="43" textLength="109" lengthAdjust="spacingAndGlyphs">S1-O1</text>
<line x1="893" y1="306.4" x2="1042.7" y2="306.4" stroke="#777171" stroke-width="3.3" stroke-dasharray="11.6 10.1"/>
<polygon points="1059.2,306.4 1041.3,297.1 1041.3,315.7" fill="#777171"/>
<circle cx="1161.3" cy="727.9" r="89.4" fill="#fff" stroke="#000" stroke-width="3.6" />
<text class="ls" x="1113.7" y="718.5" font-size="42" font-weight="bold" textLength="91.2" lengthAdjust="spacingAndGlyphs">Task</text>
<text class="ls" x="1091.2" y="755.9" font-size="42" font-weight="bold" textLength="134.8" lengthAdjust="spacingAndGlyphs">control</text>
<text class="ls" x="1268.7" y="698.6" font-size="43" textLength="111.7" lengthAdjust="spacingAndGlyphs">S2-O2</text>
<line x1="1246" y1="715.1" x2="1418.3" y2="715.1" stroke="#777171" stroke-width="3.3" stroke-dasharray="11.6 10.1"/>
<polygon points="1434.8,715.1 1416.9,705.8 1416.9,724.4" fill="#777171"/>
<text class="ls" x="1817" y="53.8" font-size="60.5" font-weight="bold">C</text>
<line x1="2034.8" y1="179.2" x2="2940.5" y2="179.2" stroke="#aaa6a6" stroke-width="3.4" />
<line x1="2041.5" y1="356.5" x2="2940.5" y2="356.5" stroke="#aaa6a6" stroke-width="3.4" />
<line x1="2041.5" y1="536.8" x2="2940.5" y2="536.8" stroke="#aaa6a6" stroke-width="3.4" />
<line x1="2198.3" y1="21.8" x2="2215.2" y2="681" stroke="#7a7474" stroke-width="3" stroke-dasharray="13.5 9.9"/>
<line x1="2217.2" y1="775" x2="2218.4" y2="805.4" stroke="#7a7474" stroke-width="3" stroke-dasharray="7 10.3 13.5 9.9"/>
<line x1="2496.2" y1="21.8" x2="2514.4" y2="681" stroke="#7a7474" stroke-width="3" stroke-dasharray="13.5 9.9"/>
<line x1="2516.8" y1="775" x2="2518.4" y2="805.4" stroke="#7a7474" stroke-width="3" stroke-dasharray="7 10.3 13.5 9.9"/>
<line x1="2784.3" y1="21.8" x2="2803.8" y2="681" stroke="#7a7474" stroke-width="3" stroke-dasharray="13.5 9.9"/>
<line x1="2806.9" y1="775" x2="2808.1" y2="805.4" stroke="#7a7474" stroke-width="3" stroke-dasharray="7 10.3 13.5 9.9"/>
<polyline points="2064.5,149 2067.7,148.4 2071.6,147.8 2076.2,147 2081.4,146.1 2087,145.1 2093,144 2099.2,142.9 2105.5,141.8 2111.9,140.6 2118.2,139.5 2124.2,138.3 2130,137.2 2135.6,136.1 2141.4,134.9 2147.2,133.6 2153.1,132.4 2158.9,131.1 2164.8,129.8 2170.7,128.5 2176.4,127.2 2182.1,125.9 2187.7,124.7 2193.1,123.5 2198.4,122.3 2203.5,121.2 2208.5,120 2213.4,118.9 2218.2,117.8 2223,116.8 2227.6,115.7 2232.2,114.6 2236.7,113.6 2241.1,112.6 2245.4,111.5 2249.7,110.5 2254,109.5 2258.1,108.5 2261.9,107.6 2265.5,106.7 2269,105.8 2272.5,105 2275.9,104.1 2279.4,103.2 2283,102.3 2286.8,101.4 2290.9,100.3 2295.3,99.2 2300,98 2305.2,96.7 2310.7,95.3 2316.5,93.8 2322.5,92.2 2328.8,90.6 2335.1,89 2341.6,87.3 2348,85.7 2354.5,84 2360.8,82.4 2366.9,80.8 2372.9,79.3 2378.7,77.8 2384.5,76.3 2390.3,74.9 2396.1,73.4 2401.8,72 2407.5,70.5 2413.1,69.1 2418.6,67.7 2424.1,66.4 2429.5,65.1 2434.8,63.8 2440,62.5 2445.1,61.3 2450.1,60.1 2454.9,58.9 2459.7,57.7 2464.4,56.6 2469.1,55.5 2473.7,54.4 2478.3,53.4 2482.8,52.3 2487.4,51.4 2492,50.4 2496.6,49.5 2501.2,48.6 2505.9,47.8 2510.5,46.9 2515.1,46.1 2519.7,45.4 2524.2,44.6 2528.8,43.9 2533.3,43.3 2537.9,42.6 2542.4,42.1 2546.8,41.5 2551.3,41 2555.7,40.5 2560.2,40.1 2564.6,39.8 2569,39.5 2573.5,39.2 2577.8,38.9 2582.2,38.7 2586.5,38.5 2590.8,38.3 2595,38.1 2599.2,38 2603.4,37.8 2607.4,37.6 2611.3,37.5 2615,37.4 2618.6,37.3 2622.2,37.2 2625.8,37.2 2629.5,37.1 2633.2,37.1 2637.2,37 2641.3,37 2645.7,37 2650.4,36.9 2655.4,36.8 2660.7,36.8 2666.3,36.7 2672.1,36.7 2678,36.6 2684.1,36.6 2690.2,36.5 2696.3,36.5 2702.4,36.4 2708.4,36.4 2714.3,36.3 2720,36.3 2725.8,36.3 2731.9,36.2 2738.1,36.2 2744.4,36.2 2750.7,36.2 2756.9,36.2 2762.8,36.1 2768.4,36.1 2773.5,36.1 2778.1,36.1 2782,36.1 2785.1,36.1 2789.1,163.3 2906,160.5" fill="none" stroke="#000" stroke-width="5.6" stroke-linejoin="miter"/>
<polyline points="2064.5,333.7 2079.1,332.7 2093.6,331.6 2108.2,330.5 2122.8,329.4 2137.4,328.3 2151.9,327.2 2166.5,326 2181.1,324.8 2195.7,323.6 2210.2,322.3 2224.8,321.1 2239.4,319.8 2254,318.5 2268.5,317.1 2283.1,315.8 2297.7,314.4 2312.2,313 2326.8,311.6 2341.4,310.1 2356,308.6 2370.5,307.1 2385.1,305.6 2399.7,304.1 2414.3,302.5 2428.8,300.9 2443.4,299.3 2458,297.7 2472.6,296 2487.1,294.3 2501.7,292.6 2503.7,340.1 2916.7,333.5" fill="none" stroke="#000" stroke-width="5.6" stroke-linejoin="miter"/>
<polyline points="2063.5,500.7 2210,483.6 2213.2,525.2 2916.7,519.3" fill="none" stroke="#000" stroke-width="5.6" stroke-linejoin="miter"/>
<text class="ls" x="1924.7" y="156.6" font-size="43" textLength="111" lengthAdjust="spacingAndGlyphs">S5-O3</text>
<text class="ls" x="1924.7" y="335" font-size="43" textLength="111" lengthAdjust="spacingAndGlyphs">S2-O2</text>
<text class="ls" x="1924.7" y="517.5" font-size="43" textLength="109.5" lengthAdjust="spacingAndGlyphs">S1-O1</text>
<text class="ls" x="1864.8" y="418" font-size="42.5" textLength="205.2" lengthAdjust="spacingAndGlyphs" transform="rotate(-90 1864.8 418)">Uncertainty</text>
<text class="ls" x="1824.4" y="628.3" font-size="43" textLength="224.3" lengthAdjust="spacingAndGlyphs">Task control</text>
<text class="ls" x="1823.6" y="678.5" font-size="43" textLength="251.7" lengthAdjust="spacingAndGlyphs">(presentation)</text>
<use href="#S1" x="2111.4" y="601.7" width="69.5" height="69.5"/>
<use href="#O1" x="2256.8" y="604.9" width="69.5" height="69.5"/>
<use href="#S2" x="2409" y="601.7" width="69.5" height="69.5"/>
<use href="#O2" x="2551.7" y="603.3" width="69.5" height="69.5"/>
<use href="#S5" x="2696.7" y="602.5" width="69.5" height="69.5"/>
<use href="#O3" x="2847.8" y="600.5" width="69.5" height="69.5"/>
<text class="ls" x="2160.5" y="744.4" font-size="43" textLength="117" lengthAdjust="spacingAndGlyphs">S1-O1</text>
<text class="ls" x="2462.9" y="744.4" font-size="43" textLength="117" lengthAdjust="spacingAndGlyphs">S2-O2</text>
<text class="ls" x="2750.6" y="744.4" font-size="43" textLength="116.6" lengthAdjust="spacingAndGlyphs">S5-O3</text>
<line x1="1978.2" y1="776.8" x2="2929" y2="776.8" stroke="#777171" stroke-width="3.3" />
<polygon points="2945.5,776.8 2927,767.7 2927,785.9" fill="#777171"/>
<text class="ls" x="1845.4" y="842.3" font-size="43" textLength="82" lengthAdjust="spacingAndGlyphs">Trial</text>
<text class="ls" x="2186.3" y="853.6" font-size="41" textLength="68" lengthAdjust="spacingAndGlyphs" font-style="italic">t+1</text>
<text class="ls" x="2486.7" y="853.6" font-size="41" textLength="68" lengthAdjust="spacingAndGlyphs" font-style="italic">t+2</text>
<text class="ls" x="2776.4" y="853.6" font-size="41" textLength="68" lengthAdjust="spacingAndGlyphs" font-style="italic">t+3</text>
<text class="ls" x="0.5" y="967.4" font-size="60.5" font-weight="bold">D</text>
<text class="ls" x="416.2" y="967.4" font-size="44.5" font-weight="bold" textLength="230" lengthAdjust="spacingAndGlyphs">Bayesian+</text>
<text class="ls" x="154.6" y="1052.4" font-size="42" textLength="758" lengthAdjust="spacingAndGlyphs">Causal uncertainty (Dirichlet variance)</text>
<rect x="145.2" y="1072.1" width="36.5" height="36.4" fill="#faee00" /><rect x="181.1" y="1072.1" width="36.5" height="36.4" fill="#002eff" /><rect x="216.9" y="1072.1" width="36.5" height="36.4" fill="#0019ff" /><rect x="252.8" y="1072.1" width="36.5" height="36.4" fill="#0000ff" /><rect x="288.7" y="1072.1" width="36.5" height="36.4" fill="#0000ff" /><rect x="324.5" y="1072.1" width="36.5" height="36.4" fill="#0005ff" /><rect x="360.4" y="1072.1" width="36.5" height="36.4" fill="#0000ff" /><rect x="396.3" y="1072.1" width="72.3" height="36.4" fill="#0000ff" /><rect x="468" y="1072.1" width="36.5" height="36.4" fill="#0000ff" /><rect x="503.9" y="1072.1" width="36.5" height="36.4" fill="#0000ff" /><rect x="539.7" y="1072.1" width="36.5" height="36.4" fill="#0000f9" /><rect x="575.6" y="1072.1" width="36.5" height="36.4" fill="#0000f1" /><rect x="611.5" y="1072.1" width="36.5" height="36.4" fill="#0000ef" /><rect x="647.3" y="1072.1" width="36.5" height="36.4" fill="#0000e8" /><rect x="683.2" y="1072.1" width="36.5" height="36.4" fill="#0000e6" /><rect x="719.1" y="1072.1" width="36.5" height="36.4" fill="#0000df" /><rect x="754.9" y="1072.1" width="36.5" height="36.4" fill="#0000dd" /><rect x="790.8" y="1072.1" width="36.5" height="36.4" fill="#0000d6" /><rect x="826.7" y="1072.1" width="36.5" height="36.4" fill="#0000d5" /><rect x="862.5" y="1072.1" width="36.5" height="36.4" fill="#0000ce" /><rect x="145.2" y="1107.9" width="36.5" height="36.4" fill="#faee00" /><rect x="181.1" y="1107.9" width="36.5" height="36.4" fill="#002eff" /><rect x="216.9" y="1107.9" width="36.5" height="36.4" fill="#0019ff" /><rect x="252.8" y="1107.9" width="36.5" height="36.4" fill="#0042ff" /><rect x="288.7" y="1107.9" width="36.5" height="36.4" fill="#002eff" /><rect x="324.5" y="1107.9" width="36.5" height="36.4" fill="#0005ff" /><rect x="360.4" y="1107.9" width="36.5" height="36.4" fill="#0000ff" /><rect x="396.3" y="1107.9" width="72.3" height="36.4" fill="#0000ff" /><rect x="468" y="1107.9" width="36.5" height="36.4" fill="#0000ff" /><rect x="503.9" y="1107.9" width="36.5" height="36.4" fill="#0000ff" /><rect x="539.7" y="1107.9" width="36.5" height="36.4" fill="#0000f9" /><rect x="575.6" y="1107.9" width="36.5" height="36.4" fill="#0000f1" /><rect x="611.5" y="1107.9" width="36.5" height="36.4" fill="#0000ea" /><rect x="647.3" y="1107.9" width="36.5" height="36.4" fill="#0000e8" /><rect x="683.2" y="1107.9" width="36.5" height="36.4" fill="#0000dc" /><rect x="719.1" y="1107.9" width="36.5" height="36.4" fill="#0000da" /><rect x="754.9" y="1107.9" width="36.5" height="36.4" fill="#0000d8" /><rect x="790.8" y="1107.9" width="36.5" height="36.4" fill="#0000d2" /><rect x="826.7" y="1107.9" width="36.5" height="36.4" fill="#0000cb" /><rect x="862.5" y="1107.9" width="36.5" height="36.4" fill="#0000ca" /><rect x="145.2" y="1143.6" width="36.5" height="36.4" fill="#faee00" /><rect x="181.1" y="1143.6" width="36.5" height="36.4" fill="#002eff" /><rect x="216.9" y="1143.6" width="36.5" height="36.4" fill="#0057ff" /><rect x="252.8" y="1143.6" width="36.5" height="36.4" fill="#0042ff" /><rect x="288.7" y="1143.6" width="36.5" height="36.4" fill="#002eff" /><rect x="324.5" y="1143.6" width="36.5" height="36.4" fill="#0005ff" /><rect x="360.4" y="1143.6" width="36.5" height="36.4" fill="#0000ff" /><rect x="396.3" y="1143.6" width="72.3" height="36.4" fill="#0000ff" /><rect x="468" y="1143.6" width="36.5" height="36.4" fill="#0000ff" /><rect x="503.9" y="1143.6" width="36.5" height="36.4" fill="#0000ff" /><rect x="539.7" y="1143.6" width="36.5" height="36.4" fill="#0000f9" /><rect x="575.6" y="1143.6" width="36.5" height="36.4" fill="#0000f1" /><rect x="611.5" y="1143.6" width="36.5" height="36.4" fill="#0000ea" /><rect x="647.3" y="1143.6" width="36.5" height="36.4" fill="#0000e3" /><rect x="683.2" y="1143.6" width="36.5" height="36.4" fill="#0000dc" /><rect x="719.1" y="1143.6" width="36.5" height="36.4" fill="#0000da" /><rect x="754.9" y="1143.6" width="36.5" height="36.4" fill="#0000d3" /><rect x="790.8" y="1143.6" width="36.5" height="36.4" fill="#0000d2" /><rect x="826.7" y="1143.6" width="36.5" height="36.4" fill="#0000d0" /><rect x="862.5" y="1143.6" width="36.5" height="36.4" fill="#0000ca" /><rect x="145.2" y="1179.4" width="36.5" height="36.4" fill="#faee00" /><rect x="181.1" y="1179.4" width="36.5" height="36.4" fill="#0075ff" /><rect x="216.9" y="1179.4" width="36.5" height="36.4" fill="#0057ff" /><rect x="252.8" y="1179.4" width="36.5" height="36.4" fill="#0042ff" /><rect x="288.7" y="1179.4" width="36.5" height="36.4" fill="#002eff" /><rect x="324.5" y="1179.4" width="36.5" height="36.4" fill="#0005ff" /><rect x="360.4" y="1179.4" width="36.5" height="36.4" fill="#002eff" /><rect x="396.3" y="1179.4" width="36.5" height="36.4" fill="#0019ff" /><rect x="432.1" y="1179.4" width="36.5" height="36.4" fill="#0005ff" /><rect x="468" y="1179.4" width="36.5" height="36.4" fill="#0000ff" /><rect x="503.9" y="1179.4" width="36.5" height="36.4" fill="#0000ff" /><rect x="539.7" y="1179.4" width="36.5" height="36.4" fill="#0000fe" /><rect x="575.6" y="1179.4" width="36.5" height="36.4" fill="#0000f7" /><rect x="611.5" y="1179.4" width="36.5" height="36.4" fill="#0000ef" /><rect x="647.3" y="1179.4" width="36.5" height="36.4" fill="#0000e8" /><rect x="683.2" y="1179.4" width="36.5" height="36.4" fill="#0000e1" /><rect x="719.1" y="1179.4" width="36.5" height="36.4" fill="#0000da" /><rect x="754.9" y="1179.4" width="36.5" height="36.4" fill="#0000d3" /><rect x="790.8" y="1179.4" width="36.5" height="36.4" fill="#0000cd" /><rect x="826.7" y="1179.4" width="36.5" height="36.4" fill="#0000cb" /><rect x="862.5" y="1179.4" width="36.5" height="36.4" fill="#0000ce" /><rect x="145.2" y="1215.1" width="36.5" height="36.4" fill="#faee00" /><rect x="181.1" y="1215.1" width="36.5" height="36.4" fill="#002eff" /><rect x="216.9" y="1215.1" width="36.5" height="36.4" fill="#0019ff" /><rect x="252.8" y="1215.1" width="36.5" height="36.4" fill="#0005ff" /><rect x="288.7" y="1215.1" width="36.5" height="36.4" fill="#0000ff" /><rect x="324.5" y="1215.1" width="36.5" height="36.4" fill="#000fff" /><rect x="360.4" y="1215.1" width="36.5" height="36.4" fill="#0000ff" /><rect x="396.3" y="1215.1" width="36.5" height="36.4" fill="#000fff" /><rect x="432.1" y="1215.1" width="36.5" height="36.4" fill="#0005ff" /><rect x="468" y="1215.1" width="36.5" height="36.4" fill="#0000ff" /><rect x="503.9" y="1215.1" width="36.5" height="36.4" fill="#0000ff" /><rect x="539.7" y="1215.1" width="36.5" height="36.4" fill="#0000f9" /><rect x="575.6" y="1215.1" width="36.5" height="36.4" fill="#0000fc" /><rect x="611.5" y="1215.1" width="36.5" height="36.4" fill="#0000f4" /><rect x="647.3" y="1215.1" width="36.5" height="36.4" fill="#0000ed" /><rect x="683.2" y="1215.1" width="36.5" height="36.4" fill="#0000e6" /><rect x="719.1" y="1215.1" width="36.5" height="36.4" fill="#0000e4" /><rect x="754.9" y="1215.1" width="36.5" height="36.4" fill="#0000dd" /><rect x="790.8" y="1215.1" width="36.5" height="36.4" fill="#0000db" /><rect x="826.7" y="1215.1" width="36.5" height="36.4" fill="#0000d5" /><rect x="862.5" y="1215.1" width="36.5" height="36.4" fill="#0000d3" /><rect x="145.5" y="1072.4" width="753.2" height="178.8" fill="none" stroke="#1a1a1a" stroke-width="2" /><line x1="163.4" y1="1251.2" x2="163.4" y2="1259.2" stroke="#222" stroke-width="1.6" /><line x1="199.3" y1="1251.2" x2="199.3" y2="1259.2" stroke="#222" stroke-width="1.6" /><line x1="235.2" y1="1251.2" x2="235.2" y2="1259.2" stroke="#222" stroke-width="1.6" /><line x1="271" y1="1251.2" x2="271" y2="1259.2" stroke="#222" stroke-width="1.6" /><line x1="306.9" y1="1251.2" x2="306.9" y2="1259.2" stroke="#222" stroke-width="1.6" /><line x1="342.8" y1="1251.2" x2="342.8" y2="1259.2" stroke="#222" stroke-width="1.6" /><line x1="378.6" y1="1251.2" x2="378.6" y2="1259.2" stroke="#222" stroke-width="1.6" /><line x1="414.5" y1="1251.2" x2="414.5" y2="1259.2" stroke="#222" stroke-width="1.6" /><line x1="450.4" y1="1251.2" x2="450.4" y2="1259.2" stroke="#222" stroke-width="1.6" /><line x1="486.2" y1="1251.2" x2="486.2" y2="1259.2" stroke="#222" stroke-width="1.6" /><line x1="522.1" y1="1251.2" x2="522.1" y2="1259.2" stroke="#222" stroke-width="1.6" /><line x1="558" y1="1251.2" x2="558" y2="1259.2" stroke="#222" stroke-width="1.6" /><line x1="593.8" y1="1251.2" x2="593.8" y2="1259.2" stroke="#222" stroke-width="1.6" /><line x1="629.7" y1="1251.2" x2="629.7" y2="1259.2" stroke="#222" stroke-width="1.6" /><line x1="665.6" y1="1251.2" x2="665.6" y2="1259.2" stroke="#222" stroke-width="1.6" /><line x1="701.4" y1="1251.2" x2="701.4" y2="1259.2" stroke="#222" stroke-width="1.6" /><line x1="737.3" y1="1251.2" x2="737.3" y2="1259.2" stroke="#222" stroke-width="1.6" /><line x1="773.2" y1="1251.2" x2="773.2" y2="1259.2" stroke="#222" stroke-width="1.6" /><line x1="809" y1="1251.2" x2="809" y2="1259.2" stroke="#222" stroke-width="1.6" /><line x1="844.9" y1="1251.2" x2="844.9" y2="1259.2" stroke="#222" stroke-width="1.6" /><line x1="880.8" y1="1251.2" x2="880.8" y2="1259.2" stroke="#222" stroke-width="1.6" /><line x1="136.5" y1="1090.3" x2="145.5" y2="1090.3" stroke="#222" stroke-width="1.6" /><line x1="136.5" y1="1126" x2="145.5" y2="1126" stroke="#222" stroke-width="1.6" /><line x1="136.5" y1="1161.8" x2="145.5" y2="1161.8" stroke="#222" stroke-width="1.6" /><line x1="136.5" y1="1197.6" x2="145.5" y2="1197.6" stroke="#222" stroke-width="1.6" /><line x1="136.5" y1="1233.3" x2="145.5" y2="1233.3" stroke="#222" stroke-width="1.6" />
<rect x="909.7" y="1072.4" width="15.3" height="178.8" fill="url(#gjet)" stroke="#1a1a1a" stroke-width="1.6" /><line x1="925" y1="1251.2" x2="933" y2="1251.2" stroke="#222" stroke-width="1.6" /><text class="dv" x="942.4" y="1261.4" font-size="28">0.00</text><line x1="925" y1="1225.7" x2="933" y2="1225.7" stroke="#222" stroke-width="1.6" /><text class="dv" x="942.4" y="1235.9" font-size="28">0.01</text><line x1="925" y1="1200.1" x2="933" y2="1200.1" stroke="#222" stroke-width="1.6" /><text class="dv" x="942.4" y="1210.3" font-size="28">0.02</text><line x1="925" y1="1174.6" x2="933" y2="1174.6" stroke="#222" stroke-width="1.6" /><text class="dv" x="942.4" y="1184.8" font-size="28">0.03</text><line x1="925" y1="1149" x2="933" y2="1149" stroke="#222" stroke-width="1.6" /><text class="dv" x="942.4" y="1159.2" font-size="28">0.04</text><line x1="925" y1="1123.5" x2="933" y2="1123.5" stroke="#222" stroke-width="1.6" /><text class="dv" x="942.4" y="1133.7" font-size="28">0.05</text><line x1="925" y1="1097.9" x2="933" y2="1097.9" stroke="#222" stroke-width="1.6" /><text class="dv" x="942.4" y="1108.1" font-size="28">0.06</text><line x1="925" y1="1072.4" x2="933" y2="1072.4" stroke="#222" stroke-width="1.6" /><text class="dv" x="942.4" y="1082.6" font-size="28">0.07</text>
<circle cx="108.2" cy="1085.5" r="17.6" fill="#fff" stroke="#000" stroke-width="2.5" /><text class="ls" x="108.2" y="1095.6" font-size="28" font-weight="bold" text-anchor="middle">5</text><circle cx="108.2" cy="1124.7" r="17.6" fill="#fff" stroke="#000" stroke-width="2.5" /><text class="ls" x="108.2" y="1134.8" font-size="28" font-weight="bold" text-anchor="middle">4</text><circle cx="108.2" cy="1161.6" r="17.6" fill="#fff" stroke="#000" stroke-width="2.5" /><text class="ls" x="108.2" y="1171.7" font-size="28" font-weight="bold" text-anchor="middle">3</text><circle cx="108.2" cy="1198" r="17.6" fill="#fff" stroke="#000" stroke-width="2.5" /><text class="ls" x="108.2" y="1208.1" font-size="28" font-weight="bold" text-anchor="middle">2</text><circle cx="108.2" cy="1238.5" r="17.6" fill="#fff" stroke="#000" stroke-width="2.5" /><text class="ls" x="108.2" y="1248.6" font-size="28" font-weight="bold" text-anchor="middle">1</text>
<text class="ls" x="68.8" y="1254.5" font-size="47" textLength="183" lengthAdjust="spacingAndGlyphs" transform="rotate(-90 68.8 1254.5)">S-O index</text>
<line x1="606" y1="1292.6" x2="642.5" y2="1292.6" stroke="#222" stroke-width="1.5" /><polyline points="623.5,1281.2 642.5,1292.6 623.5,1304" fill="none" stroke="#222" stroke-width="1.5"/><circle cx="164.3" cy="1292.6" r="17" fill="#fff" stroke="#2a2a2a" stroke-width="1.3" /><text class="ls" x="164.3" y="1303.6" font-size="31" text-anchor="middle" fill="#111">2</text><circle cx="203" cy="1292.6" r="17" fill="#fff" stroke="#2a2a2a" stroke-width="1.3" /><text class="ls" x="203" y="1303.6" font-size="31" text-anchor="middle" fill="#111">3</text><circle cx="241.6" cy="1292.6" r="17" fill="#fff" stroke="#2a2a2a" stroke-width="1.3" /><text class="ls" x="241.6" y="1303.6" font-size="31" text-anchor="middle" fill="#111">4</text><circle cx="280.2" cy="1292.6" r="17" fill="#fff" stroke="#2a2a2a" stroke-width="1.3" /><text class="ls" x="280.2" y="1303.6" font-size="31" text-anchor="middle" fill="#111">1</text><circle cx="318.9" cy="1292.6" r="17" fill="#fff" stroke="#2a2a2a" stroke-width="1.3" /><text class="ls" x="318.9" y="1303.6" font-size="31" text-anchor="middle" fill="#111">5</text><circle cx="357.6" cy="1292.6" r="17" fill="#fff" stroke="#2a2a2a" stroke-width="1.3" /><text class="ls" x="357.6" y="1303.6" font-size="31" text-anchor="middle" fill="#111">2</text><circle cx="396.2" cy="1292.6" r="17" fill="#fff" stroke="#2a2a2a" stroke-width="1.3" /><text class="ls" x="396.2" y="1303.6" font-size="31" text-anchor="middle" fill="#111">1</text><circle cx="434.9" cy="1292.6" r="17" fill="#fff" stroke="#2a2a2a" stroke-width="1.3" /><text class="ls" x="434.9" y="1303.6" font-size="31" text-anchor="middle" fill="#111">3</text><circle cx="473.5" cy="1292.6" r="17" fill="#fff" stroke="#2a2a2a" stroke-width="1.3" /><text class="ls" x="473.5" y="1303.6" font-size="31" text-anchor="middle" fill="#111">4</text><circle cx="512.1" cy="1292.6" r="17" fill="#fff" stroke="#2a2a2a" stroke-width="1.3" /><text class="ls" x="512.1" y="1303.6" font-size="31" text-anchor="middle" fill="#111">5</text><circle cx="550.8" cy="1292.6" r="17" fill="#fff" stroke="#2a2a2a" stroke-width="1.3" /><text class="ls" x="550.8" y="1303.6" font-size="31" text-anchor="middle" fill="#111">2</text><circle cx="589.5" cy="1292.6" r="17" fill="#fff" stroke="#2a2a2a" stroke-width="1.3" /><text class="ls" x="589.5" y="1303.6" font-size="31" text-anchor="middle" fill="#111">1</text><circle cx="658" cy="1292.6" r="17" fill="#fff" stroke="#2a2a2a" stroke-width="1.3" /><text class="ls" x="658" y="1303.6" font-size="31" text-anchor="middle" fill="#111">5</text><circle cx="696.7" cy="1292.6" r="17" fill="#fff" stroke="#2a2a2a" stroke-width="1.3" /><text class="ls" x="696.7" y="1303.6" font-size="31" text-anchor="middle" fill="#111">3</text><circle cx="735.4" cy="1292.6" r="17" fill="#fff" stroke="#2a2a2a" stroke-width="1.3" /><text class="ls" x="735.4" y="1303.6" font-size="31" text-anchor="middle" fill="#111">4</text><circle cx="774.1" cy="1292.6" r="17" fill="#fff" stroke="#2a2a2a" stroke-width="1.3" /><text class="ls" x="774.1" y="1303.6" font-size="31" text-anchor="middle" fill="#111">5</text><circle cx="812.8" cy="1292.6" r="17" fill="#fff" stroke="#2a2a2a" stroke-width="1.3" /><text class="ls" x="812.8" y="1303.6" font-size="31" text-anchor="middle" fill="#111">1</text><circle cx="851.5" cy="1292.6" r="17" fill="#fff" stroke="#2a2a2a" stroke-width="1.3" /><text class="ls" x="851.5" y="1303.6" font-size="31" text-anchor="middle" fill="#111">3</text><circle cx="890.2" cy="1292.6" r="17" fill="#fff" stroke="#2a2a2a" stroke-width="1.3" /><text class="ls" x="890.2" y="1303.6" font-size="31" text-anchor="middle" fill="#111">2</text>
<text class="ls" x="398.4" y="1368.6" font-size="42" textLength="262" lengthAdjust="spacingAndGlyphs">Learning rate</text>
<rect x="145.2" y="1390.3" width="36.5" height="36.2" fill="#00d1ff" /><rect x="181.1" y="1390.3" width="36.5" height="36.2" fill="#00a8ff" /><rect x="216.9" y="1390.3" width="36.5" height="36.2" fill="#0094ff" /><rect x="252.8" y="1390.3" width="36.5" height="36.2" fill="#0085ff" /><rect x="288.7" y="1390.3" width="36.5" height="36.2" fill="#007aff" /><rect x="324.5" y="1390.3" width="36.5" height="36.2" fill="#00d1ff" /><rect x="360.4" y="1390.3" width="36.5" height="36.2" fill="#00c7ff" /><rect x="396.3" y="1390.3" width="36.5" height="36.2" fill="#00b2ff" /><rect x="432.1" y="1390.3" width="36.5" height="36.2" fill="#00a8ff" /><rect x="468" y="1390.3" width="36.5" height="36.2" fill="#0094ff" /><rect x="503.9" y="1390.3" width="36.5" height="36.2" fill="#00d1ff" /><rect x="539.7" y="1390.3" width="36.5" height="36.2" fill="#00ccff" /><rect x="575.6" y="1390.3" width="36.5" height="36.2" fill="#00c7ff" /><rect x="611.5" y="1390.3" width="36.5" height="36.2" fill="#00bdff" /><rect x="647.3" y="1390.3" width="36.5" height="36.2" fill="#00e0fb" /><rect x="683.2" y="1390.3" width="36.5" height="36.2" fill="#00dbff" /><rect x="719.1" y="1390.3" width="36.5" height="36.2" fill="#00d6ff" /><rect x="754.9" y="1390.3" width="36.5" height="36.2" fill="#04ebf3" /><rect x="790.8" y="1390.3" width="72.3" height="36.2" fill="#00e5f7" /><rect x="862.5" y="1390.3" width="36.5" height="36.2" fill="#00dbff" /><rect x="145.2" y="1425.9" width="36.5" height="36.2" fill="#00d1ff" /><rect x="181.1" y="1425.9" width="36.5" height="36.2" fill="#00a8ff" /><rect x="216.9" y="1425.9" width="36.5" height="36.2" fill="#0094ff" /><rect x="252.8" y="1425.9" width="36.5" height="36.2" fill="#31ffc5" /><rect x="288.7" y="1425.9" width="36.5" height="36.2" fill="#15ffe2" /><rect x="324.5" y="1425.9" width="36.5" height="36.2" fill="#00d1ff" /><rect x="360.4" y="1425.9" width="36.5" height="36.2" fill="#00c7ff" /><rect x="396.3" y="1425.9" width="36.5" height="36.2" fill="#00b2ff" /><rect x="432.1" y="1425.9" width="36.5" height="36.2" fill="#00a8ff" /><rect x="468" y="1425.9" width="36.5" height="36.2" fill="#08f0ef" /><rect x="503.9" y="1425.9" width="36.5" height="36.2" fill="#00d1ff" /><rect x="539.7" y="1425.9" width="36.5" height="36.2" fill="#00ccff" /><rect x="575.6" y="1425.9" width="36.5" height="36.2" fill="#00c7ff" /><rect x="611.5" y="1425.9" width="36.5" height="36.2" fill="#00bdff" /><rect x="647.3" y="1425.9" width="36.5" height="36.2" fill="#00b2ff" /><rect x="683.2" y="1425.9" width="36.5" height="36.2" fill="#00a8ff" /><rect x="719.1" y="1425.9" width="36.5" height="36.2" fill="#00d1ff" /><rect x="754.9" y="1425.9" width="36.5" height="36.2" fill="#00ccff" /><rect x="790.8" y="1425.9" width="36.5" height="36.2" fill="#00c7ff" /><rect x="826.7" y="1425.9" width="36.5" height="36.2" fill="#00bdff" /><rect x="862.5" y="1425.9" width="36.5" height="36.2" fill="#00b2ff" /><rect x="145.2" y="1461.4" width="36.5" height="36.2" fill="#00d1ff" /><rect x="181.1" y="1461.4" width="36.5" height="36.2" fill="#00a8ff" /><rect x="216.9" y="1461.4" width="36.5" height="36.2" fill="#52ffa5" /><rect x="252.8" y="1461.4" width="36.5" height="36.2" fill="#31ffc5" /><rect x="288.7" y="1461.4" width="36.5" height="36.2" fill="#15ffe2" /><rect x="324.5" y="1461.4" width="36.5" height="36.2" fill="#00d1ff" /><rect x="360.4" y="1461.4" width="36.5" height="36.2" fill="#00c7ff" /><rect x="396.3" y="1461.4" width="36.5" height="36.2" fill="#00b2ff" /><rect x="432.1" y="1461.4" width="36.5" height="36.2" fill="#15ffe2" /><rect x="468" y="1461.4" width="36.5" height="36.2" fill="#08f0ef" /><rect x="503.9" y="1461.4" width="36.5" height="36.2" fill="#00d1ff" /><rect x="539.7" y="1461.4" width="36.5" height="36.2" fill="#00ccff" /><rect x="575.6" y="1461.4" width="36.5" height="36.2" fill="#00c7ff" /><rect x="611.5" y="1461.4" width="36.5" height="36.2" fill="#00bdff" /><rect x="647.3" y="1461.4" width="36.5" height="36.2" fill="#00b2ff" /><rect x="683.2" y="1461.4" width="72.3" height="36.2" fill="#00d1ff" /><rect x="754.9" y="1461.4" width="36.5" height="36.2" fill="#00ccff" /><rect x="790.8" y="1461.4" width="36.5" height="36.2" fill="#00c7ff" /><rect x="826.7" y="1461.4" width="36.5" height="36.2" fill="#00e5f7" /><rect x="862.5" y="1461.4" width="36.5" height="36.2" fill="#00dbff" /><rect x="145.2" y="1497" width="36.5" height="36.2" fill="#00d1ff" /><rect x="181.1" y="1497" width="36.5" height="36.2" fill="#6fff88" /><rect x="216.9" y="1497" width="36.5" height="36.2" fill="#4affad" /><rect x="252.8" y="1497" width="36.5" height="36.2" fill="#31ffc5" /><rect x="288.7" y="1497" width="36.5" height="36.2" fill="#15ffe2" /><rect x="324.5" y="1497" width="36.5" height="36.2" fill="#00d1ff" /><rect x="360.4" y="1497" width="36.5" height="36.2" fill="#42ffb5" /><rect x="396.3" y="1497" width="36.5" height="36.2" fill="#29ffce" /><rect x="432.1" y="1497" width="36.5" height="36.2" fill="#15ffe2" /><rect x="468" y="1497" width="36.5" height="36.2" fill="#08f0ef" /><rect x="503.9" y="1497" width="36.5" height="36.2" fill="#00d1ff" /><rect x="539.7" y="1497" width="36.5" height="36.2" fill="#21ffd6" /><rect x="575.6" y="1497" width="36.5" height="36.2" fill="#10fae6" /><rect x="611.5" y="1497" width="36.5" height="36.2" fill="#00e5f7" /><rect x="647.3" y="1497" width="36.5" height="36.2" fill="#00d1ff" /><rect x="683.2" y="1497" width="36.5" height="36.2" fill="#00ccff" /><rect x="719.1" y="1497" width="36.5" height="36.2" fill="#00c7ff" /><rect x="754.9" y="1497" width="36.5" height="36.2" fill="#00bdff" /><rect x="790.8" y="1497" width="36.5" height="36.2" fill="#00b2ff" /><rect x="826.7" y="1497" width="36.5" height="36.2" fill="#00a8ff" /><rect x="862.5" y="1497" width="36.5" height="36.2" fill="#00dbff" /><rect x="145.2" y="1532.5" width="36.5" height="36.2" fill="#00d1ff" /><rect x="181.1" y="1532.5" width="36.5" height="36.2" fill="#00a8ff" /><rect x="216.9" y="1532.5" width="36.5" height="36.2" fill="#0094ff" /><rect x="252.8" y="1532.5" width="36.5" height="36.2" fill="#0085ff" /><rect x="288.7" y="1532.5" width="36.5" height="36.2" fill="#15ffe2" /><rect x="324.5" y="1532.5" width="36.5" height="36.2" fill="#00d1ff" /><rect x="360.4" y="1532.5" width="36.5" height="36.2" fill="#00bdff" /><rect x="396.3" y="1532.5" width="36.5" height="36.2" fill="#29ffce" /><rect x="432.1" y="1532.5" width="36.5" height="36.2" fill="#1dffda" /><rect x="468" y="1532.5" width="36.5" height="36.2" fill="#10fae6" /><rect x="503.9" y="1532.5" width="36.5" height="36.2" fill="#00d1ff" /><rect x="539.7" y="1532.5" width="36.5" height="36.2" fill="#00c7ff" /><rect x="575.6" y="1532.5" width="36.5" height="36.2" fill="#10fae6" /><rect x="611.5" y="1532.5" width="36.5" height="36.2" fill="#3affbd" /><rect x="647.3" y="1532.5" width="36.5" height="36.2" fill="#29ffce" /><rect x="683.2" y="1532.5" width="36.5" height="36.2" fill="#21ffd6" /><rect x="719.1" y="1532.5" width="36.5" height="36.2" fill="#19ffde" /><rect x="754.9" y="1532.5" width="36.5" height="36.2" fill="#10fae6" /><rect x="790.8" y="1532.5" width="36.5" height="36.2" fill="#29ffce" /><rect x="826.7" y="1532.5" width="36.5" height="36.2" fill="#21ffd6" /><rect x="862.5" y="1532.5" width="36.5" height="36.2" fill="#19ffde" /><rect x="145.5" y="1390.6" width="753.2" height="177.8" fill="none" stroke="#1a1a1a" stroke-width="2" /><line x1="163.4" y1="1568.4" x2="163.4" y2="1576.4" stroke="#222" stroke-width="1.6" /><line x1="199.3" y1="1568.4" x2="199.3" y2="1576.4" stroke="#222" stroke-width="1.6" /><line x1="235.2" y1="1568.4" x2="235.2" y2="1576.4" stroke="#222" stroke-width="1.6" /><line x1="271" y1="1568.4" x2="271" y2="1576.4" stroke="#222" stroke-width="1.6" /><line x1="306.9" y1="1568.4" x2="306.9" y2="1576.4" stroke="#222" stroke-width="1.6" /><line x1="342.8" y1="1568.4" x2="342.8" y2="1576.4" stroke="#222" stroke-width="1.6" /><line x1="378.6" y1="1568.4" x2="378.6" y2="1576.4" stroke="#222" stroke-width="1.6" /><line x1="414.5" y1="1568.4" x2="414.5" y2="1576.4" stroke="#222" stroke-width="1.6" /><line x1="450.4" y1="1568.4" x2="450.4" y2="1576.4" stroke="#222" stroke-width="1.6" /><line x1="486.2" y1="1568.4" x2="486.2" y2="1576.4" stroke="#222" stroke-width="1.6" /><line x1="522.1" y1="1568.4" x2="522.1" y2="1576.4" stroke="#222" stroke-width="1.6" /><line x1="558" y1="1568.4" x2="558" y2="1576.4" stroke="#222" stroke-width="1.6" /><line x1="593.8" y1="1568.4" x2="593.8" y2="1576.4" stroke="#222" stroke-width="1.6" /><line x1="629.7" y1="1568.4" x2="629.7" y2="1576.4" stroke="#222" stroke-width="1.6" /><line x1="665.6" y1="1568.4" x2="665.6" y2="1576.4" stroke="#222" stroke-width="1.6" /><line x1="701.4" y1="1568.4" x2="701.4" y2="1576.4" stroke="#222" stroke-width="1.6" /><line x1="737.3" y1="1568.4" x2="737.3" y2="1576.4" stroke="#222" stroke-width="1.6" /><line x1="773.2" y1="1568.4" x2="773.2" y2="1576.4" stroke="#222" stroke-width="1.6" /><line x1="809" y1="1568.4" x2="809" y2="1576.4" stroke="#222" stroke-width="1.6" /><line x1="844.9" y1="1568.4" x2="844.9" y2="1576.4" stroke="#222" stroke-width="1.6" /><line x1="880.8" y1="1568.4" x2="880.8" y2="1576.4" stroke="#222" stroke-width="1.6" /><line x1="136.5" y1="1408.4" x2="145.5" y2="1408.4" stroke="#222" stroke-width="1.6" /><line x1="136.5" y1="1443.9" x2="145.5" y2="1443.9" stroke="#222" stroke-width="1.6" /><line x1="136.5" y1="1479.5" x2="145.5" y2="1479.5" stroke="#222" stroke-width="1.6" /><line x1="136.5" y1="1515.1" x2="145.5" y2="1515.1" stroke="#222" stroke-width="1.6" /><line x1="136.5" y1="1550.6" x2="145.5" y2="1550.6" stroke="#222" stroke-width="1.6" />
<rect x="909.7" y="1390.6" width="15.3" height="177.8" fill="url(#gjet)" stroke="#1a1a1a" stroke-width="1.6" /><line x1="925" y1="1568.4" x2="933" y2="1568.4" stroke="#222" stroke-width="1.6" /><text class="dv" x="941.7" y="1578.6" font-size="28">0.0</text><line x1="925" y1="1538.8" x2="933" y2="1538.8" stroke="#222" stroke-width="1.6" /><text class="dv" x="941.7" y="1549" font-size="28">0.1</text><line x1="925" y1="1509.1" x2="933" y2="1509.1" stroke="#222" stroke-width="1.6" /><text class="dv" x="941.7" y="1519.3" font-size="28">0.2</text><line x1="925" y1="1479.5" x2="933" y2="1479.5" stroke="#222" stroke-width="1.6" /><text class="dv" x="941.7" y="1489.7" font-size="28">0.3</text><line x1="925" y1="1449.9" x2="933" y2="1449.9" stroke="#222" stroke-width="1.6" /><text class="dv" x="941.7" y="1460.1" font-size="28">0.4</text><line x1="925" y1="1420.2" x2="933" y2="1420.2" stroke="#222" stroke-width="1.6" /><text class="dv" x="941.7" y="1430.4" font-size="28">0.5</text><line x1="925" y1="1390.6" x2="933" y2="1390.6" stroke="#222" stroke-width="1.6" /><text class="dv" x="941.7" y="1400.8" font-size="28">0.6</text>
<circle cx="108.2" cy="1398.3" r="17.6" fill="#fff" stroke="#000" stroke-width="2.5" /><text class="ls" x="108.2" y="1408.4" font-size="28" font-weight="bold" text-anchor="middle">5</text><circle cx="108.2" cy="1438.1" r="17.6" fill="#fff" stroke="#000" stroke-width="2.5" /><text class="ls" x="108.2" y="1448.2" font-size="28" font-weight="bold" text-anchor="middle">4</text><circle cx="108.2" cy="1475.4" r="17.6" fill="#fff" stroke="#000" stroke-width="2.5" /><text class="ls" x="108.2" y="1485.5" font-size="28" font-weight="bold" text-anchor="middle">3</text><circle cx="108.2" cy="1514.2" r="17.6" fill="#fff" stroke="#000" stroke-width="2.5" /><text class="ls" x="108.2" y="1524.3" font-size="28" font-weight="bold" text-anchor="middle">2</text><circle cx="108.2" cy="1551.9" r="17.6" fill="#fff" stroke="#000" stroke-width="2.5" /><text class="ls" x="108.2" y="1562" font-size="28" font-weight="bold" text-anchor="middle">1</text>
<text class="ls" x="68.8" y="1568" font-size="47" textLength="183" lengthAdjust="spacingAndGlyphs" transform="rotate(-90 68.8 1568)">S-O index</text>
<line x1="603" y1="1605.2" x2="641.5" y2="1605.2" stroke="#222" stroke-width="1.5" /><polyline points="622.5,1593.8 641.5,1605.2 622.5,1616.6" fill="none" stroke="#222" stroke-width="1.5"/><circle cx="157.8" cy="1605.2" r="17" fill="#fff" stroke="#2a2a2a" stroke-width="1.3" /><text class="ls" x="157.8" y="1616.2" font-size="31" text-anchor="middle" fill="#111">2</text><circle cx="196.5" cy="1605.2" r="17" fill="#fff" stroke="#2a2a2a" stroke-width="1.3" /><text class="ls" x="196.5" y="1616.2" font-size="31" text-anchor="middle" fill="#111">3</text><circle cx="235.1" cy="1605.2" r="17" fill="#fff" stroke="#2a2a2a" stroke-width="1.3" /><text class="ls" x="235.1" y="1616.2" font-size="31" text-anchor="middle" fill="#111">4</text><circle cx="273.8" cy="1605.2" r="17" fill="#fff" stroke="#2a2a2a" stroke-width="1.3" /><text class="ls" x="273.8" y="1616.2" font-size="31" text-anchor="middle" fill="#111">1</text><circle cx="312.4" cy="1605.2" r="17" fill="#fff" stroke="#2a2a2a" stroke-width="1.3" /><text class="ls" x="312.4" y="1616.2" font-size="31" text-anchor="middle" fill="#111">5</text><circle cx="351.1" cy="1605.2" r="17" fill="#fff" stroke="#2a2a2a" stroke-width="1.3" /><text class="ls" x="351.1" y="1616.2" font-size="31" text-anchor="middle" fill="#111">2</text><circle cx="389.7" cy="1605.2" r="17" fill="#fff" stroke="#2a2a2a" stroke-width="1.3" /><text class="ls" x="389.7" y="1616.2" font-size="31" text-anchor="middle" fill="#111">1</text><circle cx="428.4" cy="1605.2" r="17" fill="#fff" stroke="#2a2a2a" stroke-width="1.3" /><text class="ls" x="428.4" y="1616.2" font-size="31" text-anchor="middle" fill="#111">3</text><circle cx="467" cy="1605.2" r="17" fill="#fff" stroke="#2a2a2a" stroke-width="1.3" /><text class="ls" x="467" y="1616.2" font-size="31" text-anchor="middle" fill="#111">4</text><circle cx="505.6" cy="1605.2" r="17" fill="#fff" stroke="#2a2a2a" stroke-width="1.3" /><text class="ls" x="505.6" y="1616.2" font-size="31" text-anchor="middle" fill="#111">5</text><circle cx="544.3" cy="1605.2" r="17" fill="#fff" stroke="#2a2a2a" stroke-width="1.3" /><text class="ls" x="544.3" y="1616.2" font-size="31" text-anchor="middle" fill="#111">2</text><circle cx="583" cy="1605.2" r="17" fill="#fff" stroke="#2a2a2a" stroke-width="1.3" /><text class="ls" x="583" y="1616.2" font-size="31" text-anchor="middle" fill="#111">1</text><circle cx="651.4" cy="1605.2" r="17" fill="#fff" stroke="#2a2a2a" stroke-width="1.3" /><text class="ls" x="651.4" y="1616.2" font-size="31" text-anchor="middle" fill="#111">5</text><circle cx="690.1" cy="1605.2" r="17" fill="#fff" stroke="#2a2a2a" stroke-width="1.3" /><text class="ls" x="690.1" y="1616.2" font-size="31" text-anchor="middle" fill="#111">3</text><circle cx="728.8" cy="1605.2" r="17" fill="#fff" stroke="#2a2a2a" stroke-width="1.3" /><text class="ls" x="728.8" y="1616.2" font-size="31" text-anchor="middle" fill="#111">4</text><circle cx="767.5" cy="1605.2" r="17" fill="#fff" stroke="#2a2a2a" stroke-width="1.3" /><text class="ls" x="767.5" y="1616.2" font-size="31" text-anchor="middle" fill="#111">5</text><circle cx="806.2" cy="1605.2" r="17" fill="#fff" stroke="#2a2a2a" stroke-width="1.3" /><text class="ls" x="806.2" y="1616.2" font-size="31" text-anchor="middle" fill="#111">1</text><circle cx="844.9" cy="1605.2" r="17" fill="#fff" stroke="#2a2a2a" stroke-width="1.3" /><text class="ls" x="844.9" y="1616.2" font-size="31" text-anchor="middle" fill="#111">3</text><circle cx="883.6" cy="1605.2" r="17" fill="#fff" stroke="#2a2a2a" stroke-width="1.3" /><text class="ls" x="883.6" y="1616.2" font-size="31" text-anchor="middle" fill="#111">2</text>
<text class="ls" x="306.5" y="1700.3" font-size="42" textLength="436.5" lengthAdjust="spacingAndGlyphs">Task control sequence</text>
<rect x="145.5" y="1717.3" width="753.2" height="178.3" fill="#000" /><rect x="289" y="1717.3" width="35.9" height="35.7" fill="#fff" /><rect x="468.3" y="1717.3" width="35.9" height="35.7" fill="#fff" /><rect x="611.8" y="1717.3" width="35.9" height="35.7" fill="#fff" /><rect x="719.4" y="1717.3" width="35.9" height="35.7" fill="#fff" /><rect x="217.2" y="1753" width="35.9" height="35.7" fill="#fff" /><rect x="432.4" y="1753" width="35.9" height="35.7" fill="#fff" /><rect x="683.5" y="1753" width="35.9" height="35.7" fill="#fff" /><rect x="181.4" y="1788.6" width="35.9" height="35.7" fill="#fff" /><rect x="396.6" y="1788.6" width="35.9" height="35.7" fill="#fff" /><rect x="647.6" y="1788.6" width="35.9" height="35.7" fill="#fff" /><rect x="791.1" y="1788.6" width="35.9" height="35.7" fill="#fff" /><rect x="145.5" y="1824.3" width="35.9" height="35.7" fill="#fff" /><rect x="324.8" y="1824.3" width="35.9" height="35.7" fill="#fff" /><rect x="504.2" y="1824.3" width="35.9" height="35.7" fill="#fff" /><rect x="827" y="1824.3" width="35.9" height="35.7" fill="#fff" /><rect x="253.1" y="1859.9" width="35.9" height="35.7" fill="#fff" /><rect x="360.7" y="1859.9" width="35.9" height="35.7" fill="#fff" /><rect x="540" y="1859.9" width="71.7" height="35.7" fill="#fff" /><rect x="755.2" y="1859.9" width="35.9" height="35.7" fill="#fff" /><rect x="145.5" y="1717.3" width="753.2" height="178.3" fill="none" stroke="#1a1a1a" stroke-width="2" /><line x1="163.4" y1="1895.6" x2="163.4" y2="1903.6" stroke="#222" stroke-width="1.6" /><line x1="199.3" y1="1895.6" x2="199.3" y2="1903.6" stroke="#222" stroke-width="1.6" /><line x1="235.2" y1="1895.6" x2="235.2" y2="1903.6" stroke="#222" stroke-width="1.6" /><line x1="271" y1="1895.6" x2="271" y2="1903.6" stroke="#222" stroke-width="1.6" /><line x1="306.9" y1="1895.6" x2="306.9" y2="1903.6" stroke="#222" stroke-width="1.6" /><line x1="342.8" y1="1895.6" x2="342.8" y2="1903.6" stroke="#222" stroke-width="1.6" /><line x1="378.6" y1="1895.6" x2="378.6" y2="1903.6" stroke="#222" stroke-width="1.6" /><line x1="414.5" y1="1895.6" x2="414.5" y2="1903.6" stroke="#222" stroke-width="1.6" /><line x1="450.4" y1="1895.6" x2="450.4" y2="1903.6" stroke="#222" stroke-width="1.6" /><line x1="486.2" y1="1895.6" x2="486.2" y2="1903.6" stroke="#222" stroke-width="1.6" /><line x1="522.1" y1="1895.6" x2="522.1" y2="1903.6" stroke="#222" stroke-width="1.6" /><line x1="558" y1="1895.6" x2="558" y2="1903.6" stroke="#222" stroke-width="1.6" /><line x1="593.8" y1="1895.6" x2="593.8" y2="1903.6" stroke="#222" stroke-width="1.6" /><line x1="629.7" y1="1895.6" x2="629.7" y2="1903.6" stroke="#222" stroke-width="1.6" /><line x1="665.6" y1="1895.6" x2="665.6" y2="1903.6" stroke="#222" stroke-width="1.6" /><line x1="701.4" y1="1895.6" x2="701.4" y2="1903.6" stroke="#222" stroke-width="1.6" /><line x1="737.3" y1="1895.6" x2="737.3" y2="1903.6" stroke="#222" stroke-width="1.6" /><line x1="773.2" y1="1895.6" x2="773.2" y2="1903.6" stroke="#222" stroke-width="1.6" /><line x1="809" y1="1895.6" x2="809" y2="1903.6" stroke="#222" stroke-width="1.6" /><line x1="844.9" y1="1895.6" x2="844.9" y2="1903.6" stroke="#222" stroke-width="1.6" /><line x1="880.8" y1="1895.6" x2="880.8" y2="1903.6" stroke="#222" stroke-width="1.6" /><line x1="136.5" y1="1735.1" x2="145.5" y2="1735.1" stroke="#222" stroke-width="1.6" /><line x1="136.5" y1="1770.8" x2="145.5" y2="1770.8" stroke="#222" stroke-width="1.6" /><line x1="136.5" y1="1806.4" x2="145.5" y2="1806.4" stroke="#222" stroke-width="1.6" /><line x1="136.5" y1="1842.1" x2="145.5" y2="1842.1" stroke="#222" stroke-width="1.6" /><line x1="136.5" y1="1877.8" x2="145.5" y2="1877.8" stroke="#222" stroke-width="1.6" />
<rect x="909.7" y="1717.3" width="15.3" height="178.3" fill="url(#ggray)" stroke="#1a1a1a" stroke-width="1.6" /><line x1="925" y1="1895.6" x2="933" y2="1895.6" stroke="#222" stroke-width="1.6" /><text class="dv" x="941.7" y="1905.8" font-size="28">0.0</text><line x1="925" y1="1859.9" x2="933" y2="1859.9" stroke="#222" stroke-width="1.6" /><text class="dv" x="941.7" y="1870.1" font-size="28">0.2</text><line x1="925" y1="1824.3" x2="933" y2="1824.3" stroke="#222" stroke-width="1.6" /><text class="dv" x="941.7" y="1834.5" font-size="28">0.4</text><line x1="925" y1="1788.6" x2="933" y2="1788.6" stroke="#222" stroke-width="1.6" /><text class="dv" x="941.7" y="1798.8" font-size="28">0.6</text><line x1="925" y1="1753" x2="933" y2="1753" stroke="#222" stroke-width="1.6" /><text class="dv" x="941.7" y="1763.2" font-size="28">0.8</text><line x1="925" y1="1717.3" x2="933" y2="1717.3" stroke="#222" stroke-width="1.6" /><text class="dv" x="941.7" y="1727.5" font-size="28">1.0</text>
<circle cx="112.2" cy="1725.4" r="17.6" fill="#fff" stroke="#000" stroke-width="2.5" /><text class="ls" x="112.2" y="1735.5" font-size="28" font-weight="bold" text-anchor="middle">5</text><circle cx="112.2" cy="1762.9" r="17.6" fill="#fff" stroke="#000" stroke-width="2.5" /><text class="ls" x="112.2" y="1773" font-size="28" font-weight="bold" text-anchor="middle">4</text><circle cx="112.2" cy="1800.5" r="17.6" fill="#fff" stroke="#000" stroke-width="2.5" /><text class="ls" x="112.2" y="1810.6" font-size="28" font-weight="bold" text-anchor="middle">3</text><circle cx="112.2" cy="1840.2" r="17.6" fill="#fff" stroke="#000" stroke-width="2.5" /><text class="ls" x="112.2" y="1850.3" font-size="28" font-weight="bold" text-anchor="middle">2</text><circle cx="112.2" cy="1877.8" r="17.6" fill="#fff" stroke="#000" stroke-width="2.5" /><text class="ls" x="112.2" y="1887.9" font-size="28" font-weight="bold" text-anchor="middle">1</text>
<text class="ls" x="71" y="1894" font-size="47" textLength="183" lengthAdjust="spacingAndGlyphs" transform="rotate(-90 71 1894)">S-O index</text>
<line x1="608" y1="1932.8" x2="646" y2="1932.8" stroke="#222" stroke-width="1.5" /><polyline points="627,1921.4 646,1932.8 627,1944.2" fill="none" stroke="#222" stroke-width="1.5"/><circle cx="159.8" cy="1932.8" r="17" fill="#fff" stroke="#2a2a2a" stroke-width="1.3" /><text class="ls" x="159.8" y="1943.8" font-size="31" text-anchor="middle" fill="#111">2</text><circle cx="198.5" cy="1932.8" r="17" fill="#fff" stroke="#2a2a2a" stroke-width="1.3" /><text class="ls" x="198.5" y="1943.8" font-size="31" text-anchor="middle" fill="#111">3</text><circle cx="237.1" cy="1932.8" r="17" fill="#fff" stroke="#2a2a2a" stroke-width="1.3" /><text class="ls" x="237.1" y="1943.8" font-size="31" text-anchor="middle" fill="#111">4</text><circle cx="275.8" cy="1932.8" r="17" fill="#fff" stroke="#2a2a2a" stroke-width="1.3" /><text class="ls" x="275.8" y="1943.8" font-size="31" text-anchor="middle" fill="#111">1</text><circle cx="314.4" cy="1932.8" r="17" fill="#fff" stroke="#2a2a2a" stroke-width="1.3" /><text class="ls" x="314.4" y="1943.8" font-size="31" text-anchor="middle" fill="#111">5</text><circle cx="353.1" cy="1932.8" r="17" fill="#fff" stroke="#2a2a2a" stroke-width="1.3" /><text class="ls" x="353.1" y="1943.8" font-size="31" text-anchor="middle" fill="#111">2</text><circle cx="391.7" cy="1932.8" r="17" fill="#fff" stroke="#2a2a2a" stroke-width="1.3" /><text class="ls" x="391.7" y="1943.8" font-size="31" text-anchor="middle" fill="#111">1</text><circle cx="430.4" cy="1932.8" r="17" fill="#fff" stroke="#2a2a2a" stroke-width="1.3" /><text class="ls" x="430.4" y="1943.8" font-size="31" text-anchor="middle" fill="#111">3</text><circle cx="469" cy="1932.8" r="17" fill="#fff" stroke="#2a2a2a" stroke-width="1.3" /><text class="ls" x="469" y="1943.8" font-size="31" text-anchor="middle" fill="#111">4</text><circle cx="507.6" cy="1932.8" r="17" fill="#fff" stroke="#2a2a2a" stroke-width="1.3" /><text class="ls" x="507.6" y="1943.8" font-size="31" text-anchor="middle" fill="#111">5</text><circle cx="546.3" cy="1932.8" r="17" fill="#fff" stroke="#2a2a2a" stroke-width="1.3" /><text class="ls" x="546.3" y="1943.8" font-size="31" text-anchor="middle" fill="#111">2</text><circle cx="585" cy="1932.8" r="17" fill="#fff" stroke="#2a2a2a" stroke-width="1.3" /><text class="ls" x="585" y="1943.8" font-size="31" text-anchor="middle" fill="#111">1</text><circle cx="654.8" cy="1932.8" r="17" fill="#fff" stroke="#2a2a2a" stroke-width="1.3" /><text class="ls" x="654.8" y="1943.8" font-size="31" text-anchor="middle" fill="#111">5</text><circle cx="693.5" cy="1932.8" r="17" fill="#fff" stroke="#2a2a2a" stroke-width="1.3" /><text class="ls" x="693.5" y="1943.8" font-size="31" text-anchor="middle" fill="#111">3</text><circle cx="732.2" cy="1932.8" r="17" fill="#fff" stroke="#2a2a2a" stroke-width="1.3" /><text class="ls" x="732.2" y="1943.8" font-size="31" text-anchor="middle" fill="#111">4</text><circle cx="770.9" cy="1932.8" r="17" fill="#fff" stroke="#2a2a2a" stroke-width="1.3" /><text class="ls" x="770.9" y="1943.8" font-size="31" text-anchor="middle" fill="#111">5</text><circle cx="809.6" cy="1932.8" r="17" fill="#fff" stroke="#2a2a2a" stroke-width="1.3" /><text class="ls" x="809.6" y="1943.8" font-size="31" text-anchor="middle" fill="#111">1</text><circle cx="848.3" cy="1932.8" r="17" fill="#fff" stroke="#2a2a2a" stroke-width="1.3" /><text class="ls" x="848.3" y="1943.8" font-size="31" text-anchor="middle" fill="#111">3</text><circle cx="887" cy="1932.8" r="17" fill="#fff" stroke="#2a2a2a" stroke-width="1.3" /><text class="ls" x="887" y="1943.8" font-size="31" text-anchor="middle" fill="#111">2</text>
<text class="ls" x="1055.8" y="965.4" font-size="60.5" font-weight="bold">E</text>
<text class="ls" x="1377.7" y="967.4" font-size="44.5" font-weight="bold" textLength="222" lengthAdjust="spacingAndGlyphs">Oneshot+</text>
<text class="ls" x="1100.6" y="1051.4" font-size="42" textLength="758" lengthAdjust="spacingAndGlyphs">Causal uncertainty (Dirichlet variance)</text>
<rect x="1103.3" y="1072.1" width="36.4" height="36.3" fill="#faee00" /><rect x="1139.1" y="1072.1" width="36.4" height="36.3" fill="#0061ff" /><rect x="1174.9" y="1072.1" width="36.4" height="36.3" fill="#0075ff" /><rect x="1210.6" y="1072.1" width="36.4" height="36.3" fill="#0080ff" /><rect x="1246.4" y="1072.1" width="36.4" height="36.3" fill="#0094ff" /><rect x="1282.2" y="1072.1" width="36.4" height="36.3" fill="#0000ff" /><rect x="1318" y="1072.1" width="36.4" height="36.3" fill="#0000ff" /><rect x="1353.8" y="1072.1" width="36.4" height="36.3" fill="#0005ff" /><rect x="1389.5" y="1072.1" width="36.4" height="36.3" fill="#000fff" /><rect x="1425.3" y="1072.1" width="36.4" height="36.3" fill="#002eff" /><rect x="1461.1" y="1072.1" width="36.4" height="36.3" fill="#0042ff" /><rect x="1496.9" y="1072.1" width="36.4" height="36.3" fill="#006bff" /><rect x="1532.7" y="1072.1" width="36.4" height="36.3" fill="#008aff" /><rect x="1568.5" y="1072.1" width="36.4" height="36.3" fill="#00a8ff" /><rect x="1604.2" y="1072.1" width="36.4" height="36.3" fill="#3affbd" /><rect x="1640" y="1072.1" width="36.4" height="36.3" fill="#a5ff52" /><rect x="1675.8" y="1072.1" width="36.4" height="36.3" fill="#eaff0c" /><rect x="1711.6" y="1072.1" width="36.4" height="36.3" fill="#800000" /><rect x="1747.4" y="1072.1" width="107.9" height="36.3" fill="#000080" /><rect x="1103.3" y="1107.8" width="36.4" height="36.3" fill="#faee00" /><rect x="1139.1" y="1107.8" width="72.2" height="36.3" fill="#002eff" /><rect x="1210.6" y="1107.8" width="36.4" height="36.3" fill="#0038ff" /><rect x="1246.4" y="1107.8" width="36.4" height="36.3" fill="#002eff" /><rect x="1282.2" y="1107.8" width="36.4" height="36.3" fill="#0080ff" /><rect x="1318" y="1107.8" width="36.4" height="36.3" fill="#0094ff" /><rect x="1353.8" y="1107.8" width="36.4" height="36.3" fill="#009eff" /><rect x="1389.5" y="1107.8" width="36.4" height="36.3" fill="#00b2ff" /><rect x="1425.3" y="1107.8" width="36.4" height="36.3" fill="#19ffde" /><rect x="1461.1" y="1107.8" width="36.4" height="36.3" fill="#3affbd" /><rect x="1496.9" y="1107.8" width="36.4" height="36.3" fill="#63ff94" /><rect x="1532.7" y="1107.8" width="36.4" height="36.3" fill="#84ff73" /><rect x="1568.5" y="1107.8" width="36.4" height="36.3" fill="#94ff63" /><rect x="1604.2" y="1107.8" width="36.4" height="36.3" fill="#00d1ff" /><rect x="1640" y="1107.8" width="36.4" height="36.3" fill="#52ffa5" /><rect x="1675.8" y="1107.8" width="36.4" height="36.3" fill="#a5ff52" /><rect x="1711.6" y="1107.8" width="36.4" height="36.3" fill="#ff2600" /><rect x="1747.4" y="1107.8" width="36.4" height="36.3" fill="#800000" /><rect x="1783.1" y="1107.8" width="72.2" height="36.3" fill="#000080" /><rect x="1103.3" y="1143.5" width="36.4" height="36.3" fill="#faee00" /><rect x="1139.1" y="1143.5" width="36.4" height="36.3" fill="#004dff" /><rect x="1174.9" y="1143.5" width="36.4" height="36.3" fill="#0061ff" /><rect x="1210.6" y="1143.5" width="72.2" height="36.3" fill="#0057ff" /><rect x="1282.2" y="1143.5" width="36.4" height="36.3" fill="#00c7ff" /><rect x="1318" y="1143.5" width="36.4" height="36.3" fill="#00e5f7" /><rect x="1353.8" y="1143.5" width="36.4" height="36.3" fill="#19ffde" /><rect x="1389.5" y="1143.5" width="36.4" height="36.3" fill="#31ffc5" /><rect x="1425.3" y="1143.5" width="36.4" height="36.3" fill="#5aff9c" /><rect x="1461.1" y="1143.5" width="36.4" height="36.3" fill="#6bff8c" /><rect x="1496.9" y="1143.5" width="36.4" height="36.3" fill="#4affad" /><rect x="1532.7" y="1143.5" width="36.4" height="36.3" fill="#29ffce" /><rect x="1568.5" y="1143.5" width="36.4" height="36.3" fill="#00e5f7" /><rect x="1604.2" y="1143.5" width="36.4" height="36.3" fill="#63ff94" /><rect x="1640" y="1143.5" width="36.4" height="36.3" fill="#deff19" /><rect x="1675.8" y="1143.5" width="36.4" height="36.3" fill="#63ff94" /><rect x="1711.6" y="1143.5" width="36.4" height="36.3" fill="#ff8400" /><rect x="1747.4" y="1143.5" width="72.2" height="36.3" fill="#800000" /><rect x="1818.9" y="1143.5" width="36.4" height="36.3" fill="#000080" /><rect x="1103.3" y="1179.3" width="36.4" height="36.3" fill="#faee00" /><rect x="1139.1" y="1179.3" width="36.4" height="36.3" fill="#004dff" /><rect x="1174.9" y="1179.3" width="72.2" height="36.3" fill="#002eff" /><rect x="1246.4" y="1179.3" width="36.4" height="36.3" fill="#0038ff" /><rect x="1282.2" y="1179.3" width="36.4" height="36.3" fill="#00b2ff" /><rect x="1318" y="1179.3" width="36.4" height="36.3" fill="#00d1ff" /><rect x="1353.8" y="1179.3" width="36.4" height="36.3" fill="#08f0ef" /><rect x="1389.5" y="1179.3" width="36.4" height="36.3" fill="#21ffd6" /><rect x="1425.3" y="1179.3" width="36.4" height="36.3" fill="#00b2ff" /><rect x="1461.1" y="1179.3" width="36.4" height="36.3" fill="#0080ff" /><rect x="1496.9" y="1179.3" width="36.4" height="36.3" fill="#00bdff" /><rect x="1532.7" y="1179.3" width="36.4" height="36.3" fill="#08f0ef" /><rect x="1568.5" y="1179.3" width="36.4" height="36.3" fill="#29ffce" /><rect x="1604.2" y="1179.3" width="36.4" height="36.3" fill="#7bff7b" /><rect x="1640" y="1179.3" width="36.4" height="36.3" fill="#ffe300" /><rect x="1675.8" y="1179.3" width="36.4" height="36.3" fill="#ff8400" /><rect x="1711.6" y="1179.3" width="143.7" height="36.3" fill="#000080" /><rect x="1103.3" y="1215" width="36.4" height="36.3" fill="#faee00" /><rect x="1139.1" y="1215" width="36.4" height="36.3" fill="#004dff" /><rect x="1174.9" y="1215" width="36.4" height="36.3" fill="#0061ff" /><rect x="1210.6" y="1215" width="36.4" height="36.3" fill="#006bff" /><rect x="1246.4" y="1215" width="36.4" height="36.3" fill="#0080ff" /><rect x="1282.2" y="1215" width="36.4" height="36.3" fill="#08f0ef" /><rect x="1318" y="1215" width="36.4" height="36.3" fill="#00d1ff" /><rect x="1353.8" y="1215" width="36.4" height="36.3" fill="#00b2ff" /><rect x="1389.5" y="1215" width="36.4" height="36.3" fill="#009eff" /><rect x="1425.3" y="1215" width="36.4" height="36.3" fill="#00dbff" /><rect x="1461.1" y="1215" width="36.4" height="36.3" fill="#10fae6" /><rect x="1496.9" y="1215" width="36.4" height="36.3" fill="#4affad" /><rect x="1532.7" y="1215" width="36.4" height="36.3" fill="#5aff9c" /><rect x="1568.5" y="1215" width="36.4" height="36.3" fill="#6bff8c" /><rect x="1604.2" y="1215" width="36.4" height="36.3" fill="#deff19" /><rect x="1640" y="1215" width="36.4" height="36.3" fill="#5aff9c" /><rect x="1675.8" y="1215" width="36.4" height="36.3" fill="#a5ff52" /><rect x="1711.6" y="1215" width="36.4" height="36.3" fill="#f30900" /><rect x="1747.4" y="1215" width="72.2" height="36.3" fill="#800000" /><rect x="1818.9" y="1215" width="36.4" height="36.3" fill="#000080" /><rect x="1103.6" y="1072.4" width="751.4" height="178.6" fill="none" stroke="#1a1a1a" stroke-width="2" /><line x1="1121.5" y1="1251" x2="1121.5" y2="1259" stroke="#222" stroke-width="1.6" /><line x1="1157.3" y1="1251" x2="1157.3" y2="1259" stroke="#222" stroke-width="1.6" /><line x1="1193.1" y1="1251" x2="1193.1" y2="1259" stroke="#222" stroke-width="1.6" /><line x1="1228.8" y1="1251" x2="1228.8" y2="1259" stroke="#222" stroke-width="1.6" /><line x1="1264.6" y1="1251" x2="1264.6" y2="1259" stroke="#222" stroke-width="1.6" /><line x1="1300.4" y1="1251" x2="1300.4" y2="1259" stroke="#222" stroke-width="1.6" /><line x1="1336.2" y1="1251" x2="1336.2" y2="1259" stroke="#222" stroke-width="1.6" /><line x1="1372" y1="1251" x2="1372" y2="1259" stroke="#222" stroke-width="1.6" /><line x1="1407.7" y1="1251" x2="1407.7" y2="1259" stroke="#222" stroke-width="1.6" /><line x1="1443.5" y1="1251" x2="1443.5" y2="1259" stroke="#222" stroke-width="1.6" /><line x1="1479.3" y1="1251" x2="1479.3" y2="1259" stroke="#222" stroke-width="1.6" /><line x1="1515.1" y1="1251" x2="1515.1" y2="1259" stroke="#222" stroke-width="1.6" /><line x1="1550.9" y1="1251" x2="1550.9" y2="1259" stroke="#222" stroke-width="1.6" /><line x1="1586.6" y1="1251" x2="1586.6" y2="1259" stroke="#222" stroke-width="1.6" /><line x1="1622.4" y1="1251" x2="1622.4" y2="1259" stroke="#222" stroke-width="1.6" /><line x1="1658.2" y1="1251" x2="1658.2" y2="1259" stroke="#222" stroke-width="1.6" /><line x1="1694" y1="1251" x2="1694" y2="1259" stroke="#222" stroke-width="1.6" /><line x1="1729.8" y1="1251" x2="1729.8" y2="1259" stroke="#222" stroke-width="1.6" /><line x1="1765.5" y1="1251" x2="1765.5" y2="1259" stroke="#222" stroke-width="1.6" /><line x1="1801.3" y1="1251" x2="1801.3" y2="1259" stroke="#222" stroke-width="1.6" /><line x1="1837.1" y1="1251" x2="1837.1" y2="1259" stroke="#222" stroke-width="1.6" /><line x1="1094.6" y1="1090.3" x2="1103.6" y2="1090.3" stroke="#222" stroke-width="1.6" /><line x1="1094.6" y1="1126" x2="1103.6" y2="1126" stroke="#222" stroke-width="1.6" /><line x1="1094.6" y1="1161.7" x2="1103.6" y2="1161.7" stroke="#222" stroke-width="1.6" /><line x1="1094.6" y1="1197.4" x2="1103.6" y2="1197.4" stroke="#222" stroke-width="1.6" /><line x1="1094.6" y1="1233.1" x2="1103.6" y2="1233.1" stroke="#222" stroke-width="1.6" />
<rect x="1866.5" y="1072.4" width="14.8" height="178.6" fill="url(#gjet)" stroke="#1a1a1a" stroke-width="1.6" /><line x1="1881.3" y1="1251" x2="1889.3" y2="1251" stroke="#222" stroke-width="1.6" /><text class="dv" x="1898.2" y="1261.2" font-size="28">0.00</text><line x1="1881.3" y1="1225.5" x2="1889.3" y2="1225.5" stroke="#222" stroke-width="1.6" /><text class="dv" x="1898.2" y="1235.7" font-size="28">0.01</text><line x1="1881.3" y1="1200" x2="1889.3" y2="1200" stroke="#222" stroke-width="1.6" /><text class="dv" x="1898.2" y="1210.2" font-size="28">0.02</text><line x1="1881.3" y1="1174.5" x2="1889.3" y2="1174.5" stroke="#222" stroke-width="1.6" /><text class="dv" x="1898.2" y="1184.7" font-size="28">0.03</text><line x1="1881.3" y1="1148.9" x2="1889.3" y2="1148.9" stroke="#222" stroke-width="1.6" /><text class="dv" x="1898.2" y="1159.1" font-size="28">0.04</text><line x1="1881.3" y1="1123.4" x2="1889.3" y2="1123.4" stroke="#222" stroke-width="1.6" /><text class="dv" x="1898.2" y="1133.6" font-size="28">0.05</text><line x1="1881.3" y1="1097.9" x2="1889.3" y2="1097.9" stroke="#222" stroke-width="1.6" /><text class="dv" x="1898.2" y="1108.1" font-size="28">0.06</text><line x1="1881.3" y1="1072.4" x2="1889.3" y2="1072.4" stroke="#222" stroke-width="1.6" /><text class="dv" x="1898.2" y="1082.6" font-size="28">0.07</text>
<circle cx="1063.2" cy="1084" r="17.6" fill="#fff" stroke="#000" stroke-width="2.5" /><text class="ls" x="1063.2" y="1094.1" font-size="28" font-weight="bold" text-anchor="middle">5</text><circle cx="1063.2" cy="1122.3" r="17.6" fill="#fff" stroke="#000" stroke-width="2.5" /><text class="ls" x="1063.2" y="1132.4" font-size="28" font-weight="bold" text-anchor="middle">4</text><circle cx="1063.2" cy="1160.5" r="17.6" fill="#fff" stroke="#000" stroke-width="2.5" /><text class="ls" x="1063.2" y="1170.6" font-size="28" font-weight="bold" text-anchor="middle">3</text><circle cx="1063.2" cy="1198.8" r="17.6" fill="#fff" stroke="#000" stroke-width="2.5" /><text class="ls" x="1063.2" y="1208.9" font-size="28" font-weight="bold" text-anchor="middle">2</text><circle cx="1063.2" cy="1238.2" r="17.6" fill="#fff" stroke="#000" stroke-width="2.5" /><text class="ls" x="1063.2" y="1248.3" font-size="28" font-weight="bold" text-anchor="middle">1</text>
<line x1="1335.8" y1="1292.4" x2="1390.7" y2="1292.4" stroke="#222" stroke-width="1.5" /><polyline points="1371.7,1281 1390.7,1292.4 1371.7,1303.8" fill="none" stroke="#222" stroke-width="1.5"/><line x1="1432" y1="1292.4" x2="1467.2" y2="1292.4" stroke="#222" stroke-width="1.5" /><polyline points="1448.2,1281 1467.2,1292.4 1448.2,1303.8" fill="none" stroke="#222" stroke-width="1.5"/><line x1="1507" y1="1292.4" x2="1574.7" y2="1292.4" stroke="#222" stroke-width="1.5" /><polyline points="1555.7,1281 1574.7,1292.4 1555.7,1303.8" fill="none" stroke="#222" stroke-width="1.5"/><circle cx="1123.4" cy="1292.4" r="17" fill="#fff" stroke="#2a2a2a" stroke-width="1.3" /><text class="ls" x="1123.4" y="1303.4" font-size="31" text-anchor="middle" fill="#111">4</text><circle cx="1162.5" cy="1292.4" r="17" fill="#fff" stroke="#2a2a2a" stroke-width="1.3" /><text class="ls" x="1162.5" y="1303.4" font-size="31" text-anchor="middle" fill="#111">2</text><circle cx="1201" cy="1292.4" r="17" fill="#fff" stroke="#2a2a2a" stroke-width="1.3" /><text class="ls" x="1201" y="1303.4" font-size="31" text-anchor="middle" fill="#111">3</text><circle cx="1239.5" cy="1292.4" r="17" fill="#fff" stroke="#2a2a2a" stroke-width="1.3" /><text class="ls" x="1239.5" y="1303.4" font-size="31" text-anchor="middle" fill="#111">4</text><circle cx="1278.6" cy="1292.4" r="17" fill="#fff" stroke="#2a2a2a" stroke-width="1.3" /><text class="ls" x="1278.6" y="1303.4" font-size="31" text-anchor="middle" fill="#111">5</text><circle cx="1317.1" cy="1292.4" r="17" fill="#fff" stroke="#2a2a2a" stroke-width="1.3" /><text class="ls" x="1317.1" y="1303.4" font-size="31" text-anchor="middle" fill="#111">1</text><circle cx="1413.4" cy="1292.4" r="17" fill="#fff" stroke="#2a2a2a" stroke-width="1.3" /><text class="ls" x="1413.4" y="1303.4" font-size="31" text-anchor="middle" fill="#111">2</text><circle cx="1488.1" cy="1292.4" r="17" fill="#fff" stroke="#2a2a2a" stroke-width="1.3" /><text class="ls" x="1488.1" y="1303.4" font-size="31" text-anchor="middle" fill="#111">3</text><circle cx="1597.4" cy="1292.4" r="17" fill="#fff" stroke="#2a2a2a" stroke-width="1.3" /><text class="ls" x="1597.4" y="1303.4" font-size="31" text-anchor="middle" fill="#111">4</text><circle cx="1637" cy="1292.4" r="17" fill="#fff" stroke="#2a2a2a" stroke-width="1.3" /><text class="ls" x="1637" y="1303.4" font-size="31" text-anchor="middle" fill="#111">1</text><circle cx="1675" cy="1292.4" r="17" fill="#fff" stroke="#2a2a2a" stroke-width="1.3" /><text class="ls" x="1675" y="1303.4" font-size="31" text-anchor="middle" fill="#111">3</text><circle cx="1713.5" cy="1292.4" r="17" fill="#fff" stroke="#2a2a2a" stroke-width="1.3" /><text class="ls" x="1713.5" y="1303.4" font-size="31" text-anchor="middle" fill="#111">2</text><circle cx="1752" cy="1292.4" r="17" fill="#fff" stroke="#2a2a2a" stroke-width="1.3" /><text class="ls" x="1752" y="1303.4" font-size="31" text-anchor="middle" fill="#111">5</text><circle cx="1791.1" cy="1292.4" r="17" fill="#fff" stroke="#2a2a2a" stroke-width="1.3" /><text class="ls" x="1791.1" y="1303.4" font-size="31" text-anchor="middle" fill="#111">4</text><circle cx="1829.6" cy="1292.4" r="17" fill="#fff" stroke="#2a2a2a" stroke-width="1.3" /><text class="ls" x="1829.6" y="1303.4" font-size="31" text-anchor="middle" fill="#111">3</text>
<text class="ls" x="1359.6" y="1367.2" font-size="42" textLength="261.6" lengthAdjust="spacingAndGlyphs">Learning rate</text>
<rect x="1103.3" y="1386.7" width="36.4" height="36.1" fill="#00d1ff" /><rect x="1139.1" y="1386.7" width="36.4" height="36.1" fill="#00e5f7" /><rect x="1174.9" y="1386.7" width="36.4" height="36.1" fill="#29ffce" /><rect x="1210.6" y="1386.7" width="36.4" height="36.1" fill="#3affbd" /><rect x="1246.4" y="1386.7" width="36.4" height="36.1" fill="#42ffb5" /><rect x="1282.2" y="1386.7" width="215.3" height="36.1" fill="#0000d1" /><rect x="1496.9" y="1386.7" width="36.4" height="36.1" fill="#0000c5" /><rect x="1532.7" y="1386.7" width="72.2" height="36.1" fill="#0000d1" /><rect x="1604.2" y="1386.7" width="36.4" height="36.1" fill="#0000e8" /><rect x="1640" y="1386.7" width="36.4" height="36.1" fill="#0061ff" /><rect x="1675.8" y="1386.7" width="36.4" height="36.1" fill="#00b2ff" /><rect x="1711.6" y="1386.7" width="36.4" height="36.1" fill="#b90000" /><rect x="1747.4" y="1386.7" width="72.2" height="36.1" fill="#000080" /><rect x="1818.9" y="1386.7" width="36.4" height="36.1" fill="#00d1ff" /><rect x="1103.3" y="1422.2" width="36.4" height="36.1" fill="#00d1ff" /><rect x="1139.1" y="1422.2" width="36.4" height="36.1" fill="#0075ff" /><rect x="1174.9" y="1422.2" width="36.4" height="36.1" fill="#008aff" /><rect x="1210.6" y="1422.2" width="36.4" height="36.1" fill="#0094ff" /><rect x="1246.4" y="1422.2" width="36.4" height="36.1" fill="#004dff" /><rect x="1282.2" y="1422.2" width="36.4" height="36.1" fill="#0075ff" /><rect x="1318" y="1422.2" width="36.4" height="36.1" fill="#008aff" /><rect x="1353.8" y="1422.2" width="36.4" height="36.1" fill="#009eff" /><rect x="1389.5" y="1422.2" width="36.4" height="36.1" fill="#00b2ff" /><rect x="1425.3" y="1422.2" width="36.4" height="36.1" fill="#10fae6" /><rect x="1461.1" y="1422.2" width="36.4" height="36.1" fill="#31ffc5" /><rect x="1496.9" y="1422.2" width="36.4" height="36.1" fill="#a5ff52" /><rect x="1532.7" y="1422.2" width="36.4" height="36.1" fill="#ffd900" /><rect x="1568.5" y="1422.2" width="36.4" height="36.1" fill="#ffb300" /><rect x="1604.2" y="1422.2" width="36.4" height="36.1" fill="#0000b9" /><rect x="1640" y="1422.2" width="72.2" height="36.1" fill="#0000e8" /><rect x="1711.6" y="1422.2" width="36.4" height="36.1" fill="#00b2ff" /><rect x="1747.4" y="1422.2" width="36.4" height="36.1" fill="#ffe300" /><rect x="1783.1" y="1422.2" width="36.4" height="36.1" fill="#000080" /><rect x="1818.9" y="1422.2" width="36.4" height="36.1" fill="#00d1ff" /><rect x="1103.3" y="1457.7" width="36.4" height="36.1" fill="#00d1ff" /><rect x="1139.1" y="1457.7" width="36.4" height="36.1" fill="#00e5f7" /><rect x="1174.9" y="1457.7" width="36.4" height="36.1" fill="#19ffde" /><rect x="1210.6" y="1457.7" width="36.4" height="36.1" fill="#00bdff" /><rect x="1246.4" y="1457.7" width="36.4" height="36.1" fill="#00d1ff" /><rect x="1282.2" y="1457.7" width="36.4" height="36.1" fill="#4affad" /><rect x="1318" y="1457.7" width="36.4" height="36.1" fill="#6bff8c" /><rect x="1353.8" y="1457.7" width="36.4" height="36.1" fill="#a5ff52" /><rect x="1389.5" y="1457.7" width="36.4" height="36.1" fill="#bdff3a" /><rect x="1425.3" y="1457.7" width="36.4" height="36.1" fill="#ffb300" /><rect x="1461.1" y="1457.7" width="36.4" height="36.1" fill="#ff7b00" /><rect x="1496.9" y="1457.7" width="36.4" height="36.1" fill="#5aff9c" /><rect x="1532.7" y="1457.7" width="36.4" height="36.1" fill="#0075ff" /><rect x="1568.5" y="1457.7" width="36.4" height="36.1" fill="#0000ff" /><rect x="1604.2" y="1457.7" width="36.4" height="36.1" fill="#004dff" /><rect x="1640" y="1457.7" width="36.4" height="36.1" fill="#7bff7b" /><rect x="1675.8" y="1457.7" width="36.4" height="36.1" fill="#0000b9" /><rect x="1711.6" y="1457.7" width="36.4" height="36.1" fill="#0000f3" /><rect x="1747.4" y="1457.7" width="36.4" height="36.1" fill="#004dff" /><rect x="1783.1" y="1457.7" width="36.4" height="36.1" fill="#ff4c00" /><rect x="1818.9" y="1457.7" width="36.4" height="36.1" fill="#00d1ff" /><rect x="1103.3" y="1493.1" width="36.4" height="36.1" fill="#00d1ff" /><rect x="1139.1" y="1493.1" width="36.4" height="36.1" fill="#00e5f7" /><rect x="1174.9" y="1493.1" width="36.4" height="36.1" fill="#0080ff" /><rect x="1210.6" y="1493.1" width="36.4" height="36.1" fill="#008aff" /><rect x="1246.4" y="1493.1" width="36.4" height="36.1" fill="#0080ff" /><rect x="1282.2" y="1493.1" width="36.4" height="36.1" fill="#08f0ef" /><rect x="1318" y="1493.1" width="36.4" height="36.1" fill="#3affbd" /><rect x="1353.8" y="1493.1" width="36.4" height="36.1" fill="#5aff9c" /><rect x="1389.5" y="1493.1" width="36.4" height="36.1" fill="#73ff84" /><rect x="1425.3" y="1493.1" width="36.4" height="36.1" fill="#0061ff" /><rect x="1461.1" y="1493.1" width="36.4" height="36.1" fill="#0000f3" /><rect x="1496.9" y="1493.1" width="36.4" height="36.1" fill="#0000ff" /><rect x="1532.7" y="1493.1" width="36.4" height="36.1" fill="#000fff" /><rect x="1568.5" y="1493.1" width="36.4" height="36.1" fill="#0024ff" /><rect x="1604.2" y="1493.1" width="36.4" height="36.1" fill="#00b2ff" /><rect x="1640" y="1493.1" width="36.4" height="36.1" fill="#ffc600" /><rect x="1675.8" y="1493.1" width="36.4" height="36.1" fill="#800000" /><rect x="1711.6" y="1493.1" width="107.9" height="36.1" fill="#000080" /><rect x="1818.9" y="1493.1" width="36.4" height="36.1" fill="#00d1ff" /><rect x="1103.3" y="1528.6" width="36.4" height="36.1" fill="#00d1ff" /><rect x="1139.1" y="1528.6" width="36.4" height="36.1" fill="#00e5f7" /><rect x="1174.9" y="1528.6" width="36.4" height="36.1" fill="#29ffce" /><rect x="1210.6" y="1528.6" width="36.4" height="36.1" fill="#3affbd" /><rect x="1246.4" y="1528.6" width="36.4" height="36.1" fill="#42ffb5" /><rect x="1282.2" y="1528.6" width="36.4" height="36.1" fill="#a5ff52" /><rect x="1318" y="1528.6" width="36.4" height="36.1" fill="#3affbd" /><rect x="1353.8" y="1528.6" width="36.4" height="36.1" fill="#00b2ff" /><rect x="1389.5" y="1528.6" width="36.4" height="36.1" fill="#004dff" /><rect x="1425.3" y="1528.6" width="36.4" height="36.1" fill="#0075ff" /><rect x="1461.1" y="1528.6" width="36.4" height="36.1" fill="#008aff" /><rect x="1496.9" y="1528.6" width="36.4" height="36.1" fill="#29ffce" /><rect x="1532.7" y="1528.6" width="36.4" height="36.1" fill="#5aff9c" /><rect x="1568.5" y="1528.6" width="36.4" height="36.1" fill="#7bff7b" /><rect x="1604.2" y="1528.6" width="36.4" height="36.1" fill="#b90000" /><rect x="1640" y="1528.6" width="72.2" height="36.1" fill="#0000f3" /><rect x="1711.6" y="1528.6" width="36.4" height="36.1" fill="#00e5f7" /><rect x="1747.4" y="1528.6" width="36.4" height="36.1" fill="#ff5500" /><rect x="1783.1" y="1528.6" width="36.4" height="36.1" fill="#ff4200" /><rect x="1818.9" y="1528.6" width="36.4" height="36.1" fill="#00d1ff" /><rect x="1103.6" y="1387" width="751.4" height="177.4" fill="none" stroke="#1a1a1a" stroke-width="2" /><line x1="1121.5" y1="1564.4" x2="1121.5" y2="1572.4" stroke="#222" stroke-width="1.6" /><line x1="1157.3" y1="1564.4" x2="1157.3" y2="1572.4" stroke="#222" stroke-width="1.6" /><line x1="1193.1" y1="1564.4" x2="1193.1" y2="1572.4" stroke="#222" stroke-width="1.6" /><line x1="1228.8" y1="1564.4" x2="1228.8" y2="1572.4" stroke="#222" stroke-width="1.6" /><line x1="1264.6" y1="1564.4" x2="1264.6" y2="1572.4" stroke="#222" stroke-width="1.6" /><line x1="1300.4" y1="1564.4" x2="1300.4" y2="1572.4" stroke="#222" stroke-width="1.6" /><line x1="1336.2" y1="1564.4" x2="1336.2" y2="1572.4" stroke="#222" stroke-width="1.6" /><line x1="1372" y1="1564.4" x2="1372" y2="1572.4" stroke="#222" stroke-width="1.6" /><line x1="1407.7" y1="1564.4" x2="1407.7" y2="1572.4" stroke="#222" stroke-width="1.6" /><line x1="1443.5" y1="1564.4" x2="1443.5" y2="1572.4" stroke="#222" stroke-width="1.6" /><line x1="1479.3" y1="1564.4" x2="1479.3" y2="1572.4" stroke="#222" stroke-width="1.6" /><line x1="1515.1" y1="1564.4" x2="1515.1" y2="1572.4" stroke="#222" stroke-width="1.6" /><line x1="1550.9" y1="1564.4" x2="1550.9" y2="1572.4" stroke="#222" stroke-width="1.6" /><line x1="1586.6" y1="1564.4" x2="1586.6" y2="1572.4" stroke="#222" stroke-width="1.6" /><line x1="1622.4" y1="1564.4" x2="1622.4" y2="1572.4" stroke="#222" stroke-width="1.6" /><line x1="1658.2" y1="1564.4" x2="1658.2" y2="1572.4" stroke="#222" stroke-width="1.6" /><line x1="1694" y1="1564.4" x2="1694" y2="1572.4" stroke="#222" stroke-width="1.6" /><line x1="1729.8" y1="1564.4" x2="1729.8" y2="1572.4" stroke="#222" stroke-width="1.6" /><line x1="1765.5" y1="1564.4" x2="1765.5" y2="1572.4" stroke="#222" stroke-width="1.6" /><line x1="1801.3" y1="1564.4" x2="1801.3" y2="1572.4" stroke="#222" stroke-width="1.6" /><line x1="1837.1" y1="1564.4" x2="1837.1" y2="1572.4" stroke="#222" stroke-width="1.6" /><line x1="1094.6" y1="1404.7" x2="1103.6" y2="1404.7" stroke="#222" stroke-width="1.6" /><line x1="1094.6" y1="1440.2" x2="1103.6" y2="1440.2" stroke="#222" stroke-width="1.6" /><line x1="1094.6" y1="1475.7" x2="1103.6" y2="1475.7" stroke="#222" stroke-width="1.6" /><line x1="1094.6" y1="1511.2" x2="1103.6" y2="1511.2" stroke="#222" stroke-width="1.6" /><line x1="1094.6" y1="1546.7" x2="1103.6" y2="1546.7" stroke="#222" stroke-width="1.6" />
<rect x="1866.5" y="1387" width="14.8" height="177.4" fill="url(#gjet)" stroke="#1a1a1a" stroke-width="1.6" /><line x1="1881.3" y1="1564.4" x2="1889.3" y2="1564.4" stroke="#222" stroke-width="1.6" /><text class="dv" x="1898.2" y="1574.6" font-size="28">0.0</text><line x1="1881.3" y1="1534.8" x2="1889.3" y2="1534.8" stroke="#222" stroke-width="1.6" /><text class="dv" x="1898.2" y="1545" font-size="28">0.1</text><line x1="1881.3" y1="1505.3" x2="1889.3" y2="1505.3" stroke="#222" stroke-width="1.6" /><text class="dv" x="1898.2" y="1515.5" font-size="28">0.2</text><line x1="1881.3" y1="1475.7" x2="1889.3" y2="1475.7" stroke="#222" stroke-width="1.6" /><text class="dv" x="1898.2" y="1485.9" font-size="28">0.3</text><line x1="1881.3" y1="1446.1" x2="1889.3" y2="1446.1" stroke="#222" stroke-width="1.6" /><text class="dv" x="1898.2" y="1456.3" font-size="28">0.4</text><line x1="1881.3" y1="1416.6" x2="1889.3" y2="1416.6" stroke="#222" stroke-width="1.6" /><text class="dv" x="1898.2" y="1426.8" font-size="28">0.5</text><line x1="1881.3" y1="1387" x2="1889.3" y2="1387" stroke="#222" stroke-width="1.6" /><text class="dv" x="1898.2" y="1397.2" font-size="28">0.6</text>
<circle cx="1061.2" cy="1396.6" r="17.6" fill="#fff" stroke="#000" stroke-width="2.5" /><text class="ls" x="1061.2" y="1406.7" font-size="28" font-weight="bold" text-anchor="middle">5</text><circle cx="1061.2" cy="1435.1" r="17.6" fill="#fff" stroke="#000" stroke-width="2.5" /><text class="ls" x="1061.2" y="1445.2" font-size="28" font-weight="bold" text-anchor="middle">4</text><circle cx="1061.2" cy="1473.6" r="17.6" fill="#fff" stroke="#000" stroke-width="2.5" /><text class="ls" x="1061.2" y="1483.7" font-size="28" font-weight="bold" text-anchor="middle">3</text><circle cx="1061.2" cy="1511.6" r="17.6" fill="#fff" stroke="#000" stroke-width="2.5" /><text class="ls" x="1061.2" y="1521.7" font-size="28" font-weight="bold" text-anchor="middle">2</text><circle cx="1061.2" cy="1551.2" r="17.6" fill="#fff" stroke="#000" stroke-width="2.5" /><text class="ls" x="1061.2" y="1561.3" font-size="28" font-weight="bold" text-anchor="middle">1</text>
<line x1="1333" y1="1605" x2="1387.9" y2="1605" stroke="#222" stroke-width="1.5" /><polyline points="1368.9,1593.6 1387.9,1605 1368.9,1616.4" fill="none" stroke="#222" stroke-width="1.5"/><line x1="1429.2" y1="1605" x2="1464.4" y2="1605" stroke="#222" stroke-width="1.5" /><polyline points="1445.4,1593.6 1464.4,1605 1445.4,1616.4" fill="none" stroke="#222" stroke-width="1.5"/><line x1="1504.2" y1="1605" x2="1571.9" y2="1605" stroke="#222" stroke-width="1.5" /><polyline points="1552.9,1593.6 1571.9,1605 1552.9,1616.4" fill="none" stroke="#222" stroke-width="1.5"/><circle cx="1120.6" cy="1605" r="17" fill="#fff" stroke="#2a2a2a" stroke-width="1.3" /><text class="ls" x="1120.6" y="1616" font-size="31" text-anchor="middle" fill="#111">4</text><circle cx="1159.7" cy="1605" r="17" fill="#fff" stroke="#2a2a2a" stroke-width="1.3" /><text class="ls" x="1159.7" y="1616" font-size="31" text-anchor="middle" fill="#111">2</text><circle cx="1198.2" cy="1605" r="17" fill="#fff" stroke="#2a2a2a" stroke-width="1.3" /><text class="ls" x="1198.2" y="1616" font-size="31" text-anchor="middle" fill="#111">3</text><circle cx="1236.7" cy="1605" r="17" fill="#fff" stroke="#2a2a2a" stroke-width="1.3" /><text class="ls" x="1236.7" y="1616" font-size="31" text-anchor="middle" fill="#111">4</text><circle cx="1275.8" cy="1605" r="17" fill="#fff" stroke="#2a2a2a" stroke-width="1.3" /><text class="ls" x="1275.8" y="1616" font-size="31" text-anchor="middle" fill="#111">5</text><circle cx="1314.3" cy="1605" r="17" fill="#fff" stroke="#2a2a2a" stroke-width="1.3" /><text class="ls" x="1314.3" y="1616" font-size="31" text-anchor="middle" fill="#111">1</text><circle cx="1410.6" cy="1605" r="17" fill="#fff" stroke="#2a2a2a" stroke-width="1.3" /><text class="ls" x="1410.6" y="1616" font-size="31" text-anchor="middle" fill="#111">2</text><circle cx="1485.3" cy="1605" r="17" fill="#fff" stroke="#2a2a2a" stroke-width="1.3" /><text class="ls" x="1485.3" y="1616" font-size="31" text-anchor="middle" fill="#111">3</text><circle cx="1594.6" cy="1605" r="17" fill="#fff" stroke="#2a2a2a" stroke-width="1.3" /><text class="ls" x="1594.6" y="1616" font-size="31" text-anchor="middle" fill="#111">4</text><circle cx="1634.2" cy="1605" r="17" fill="#fff" stroke="#2a2a2a" stroke-width="1.3" /><text class="ls" x="1634.2" y="1616" font-size="31" text-anchor="middle" fill="#111">1</text><circle cx="1672.2" cy="1605" r="17" fill="#fff" stroke="#2a2a2a" stroke-width="1.3" /><text class="ls" x="1672.2" y="1616" font-size="31" text-anchor="middle" fill="#111">3</text><circle cx="1710.7" cy="1605" r="17" fill="#fff" stroke="#2a2a2a" stroke-width="1.3" /><text class="ls" x="1710.7" y="1616" font-size="31" text-anchor="middle" fill="#111">2</text><circle cx="1749.2" cy="1605" r="17" fill="#fff" stroke="#2a2a2a" stroke-width="1.3" /><text class="ls" x="1749.2" y="1616" font-size="31" text-anchor="middle" fill="#111">5</text><circle cx="1788.3" cy="1605" r="17" fill="#fff" stroke="#2a2a2a" stroke-width="1.3" /><text class="ls" x="1788.3" y="1616" font-size="31" text-anchor="middle" fill="#111">4</text><circle cx="1826.8" cy="1605" r="17" fill="#fff" stroke="#2a2a2a" stroke-width="1.3" /><text class="ls" x="1826.8" y="1616" font-size="31" text-anchor="middle" fill="#111">3</text>
<text class="ls" x="1247.5" y="1698.4" font-size="42" textLength="434.8" lengthAdjust="spacingAndGlyphs">Task control sequence</text>
<rect x="1103.6" y="1717.1" width="751.4" height="178.4" fill="#000" /><rect x="1246.7" y="1717.1" width="35.8" height="35.7" fill="#fff" /><rect x="1711.9" y="1717.1" width="35.8" height="35.7" fill="#fff" /><rect x="1103.6" y="1752.8" width="35.8" height="35.7" fill="#fff" /><rect x="1210.9" y="1752.8" width="35.8" height="35.7" fill="#fff" /><rect x="1568.8" y="1752.8" width="35.8" height="35.7" fill="#fff" /><rect x="1747.7" y="1752.8" width="35.8" height="35.7" fill="#fff" /><rect x="1175.2" y="1788.5" width="35.8" height="35.7" fill="#fff" /><rect x="1461.4" y="1788.5" width="107.3" height="35.7" fill="#fff" /><rect x="1640.3" y="1788.5" width="35.8" height="35.7" fill="#fff" /><rect x="1783.4" y="1788.5" width="35.8" height="35.7" fill="#fff" /><rect x="1139.4" y="1824.1" width="35.8" height="35.7" fill="#fff" /><rect x="1389.8" y="1824.1" width="71.6" height="35.7" fill="#fff" /><rect x="1676.1" y="1824.1" width="35.8" height="35.7" fill="#fff" /><rect x="1282.5" y="1859.8" width="107.3" height="35.7" fill="#fff" /><rect x="1604.5" y="1859.8" width="35.8" height="35.7" fill="#fff" /><rect x="1103.6" y="1717.1" width="751.4" height="178.4" fill="none" stroke="#1a1a1a" stroke-width="2" /><line x1="1121.5" y1="1895.5" x2="1121.5" y2="1903.5" stroke="#222" stroke-width="1.6" /><line x1="1157.3" y1="1895.5" x2="1157.3" y2="1903.5" stroke="#222" stroke-width="1.6" /><line x1="1193.1" y1="1895.5" x2="1193.1" y2="1903.5" stroke="#222" stroke-width="1.6" /><line x1="1228.8" y1="1895.5" x2="1228.8" y2="1903.5" stroke="#222" stroke-width="1.6" /><line x1="1264.6" y1="1895.5" x2="1264.6" y2="1903.5" stroke="#222" stroke-width="1.6" /><line x1="1300.4" y1="1895.5" x2="1300.4" y2="1903.5" stroke="#222" stroke-width="1.6" /><line x1="1336.2" y1="1895.5" x2="1336.2" y2="1903.5" stroke="#222" stroke-width="1.6" /><line x1="1372" y1="1895.5" x2="1372" y2="1903.5" stroke="#222" stroke-width="1.6" /><line x1="1407.7" y1="1895.5" x2="1407.7" y2="1903.5" stroke="#222" stroke-width="1.6" /><line x1="1443.5" y1="1895.5" x2="1443.5" y2="1903.5" stroke="#222" stroke-width="1.6" /><line x1="1479.3" y1="1895.5" x2="1479.3" y2="1903.5" stroke="#222" stroke-width="1.6" /><line x1="1515.1" y1="1895.5" x2="1515.1" y2="1903.5" stroke="#222" stroke-width="1.6" /><line x1="1550.9" y1="1895.5" x2="1550.9" y2="1903.5" stroke="#222" stroke-width="1.6" /><line x1="1586.6" y1="1895.5" x2="1586.6" y2="1903.5" stroke="#222" stroke-width="1.6" /><line x1="1622.4" y1="1895.5" x2="1622.4" y2="1903.5" stroke="#222" stroke-width="1.6" /><line x1="1658.2" y1="1895.5" x2="1658.2" y2="1903.5" stroke="#222" stroke-width="1.6" /><line x1="1694" y1="1895.5" x2="1694" y2="1903.5" stroke="#222" stroke-width="1.6" /><line x1="1729.8" y1="1895.5" x2="1729.8" y2="1903.5" stroke="#222" stroke-width="1.6" /><line x1="1765.5" y1="1895.5" x2="1765.5" y2="1903.5" stroke="#222" stroke-width="1.6" /><line x1="1801.3" y1="1895.5" x2="1801.3" y2="1903.5" stroke="#222" stroke-width="1.6" /><line x1="1837.1" y1="1895.5" x2="1837.1" y2="1903.5" stroke="#222" stroke-width="1.6" /><line x1="1094.6" y1="1734.9" x2="1103.6" y2="1734.9" stroke="#222" stroke-width="1.6" /><line x1="1094.6" y1="1770.6" x2="1103.6" y2="1770.6" stroke="#222" stroke-width="1.6" /><line x1="1094.6" y1="1806.3" x2="1103.6" y2="1806.3" stroke="#222" stroke-width="1.6" /><line x1="1094.6" y1="1842" x2="1103.6" y2="1842" stroke="#222" stroke-width="1.6" /><line x1="1094.6" y1="1877.7" x2="1103.6" y2="1877.7" stroke="#222" stroke-width="1.6" />
<rect x="1866.5" y="1717.1" width="14.8" height="178.4" fill="url(#ggray)" stroke="#1a1a1a" stroke-width="1.6" /><line x1="1881.3" y1="1895.5" x2="1889.3" y2="1895.5" stroke="#222" stroke-width="1.6" /><text class="dv" x="1898.2" y="1905.7" font-size="28">0.0</text><line x1="1881.3" y1="1859.8" x2="1889.3" y2="1859.8" stroke="#222" stroke-width="1.6" /><text class="dv" x="1898.2" y="1870" font-size="28">0.2</text><line x1="1881.3" y1="1824.1" x2="1889.3" y2="1824.1" stroke="#222" stroke-width="1.6" /><text class="dv" x="1898.2" y="1834.3" font-size="28">0.4</text><line x1="1881.3" y1="1788.5" x2="1889.3" y2="1788.5" stroke="#222" stroke-width="1.6" /><text class="dv" x="1898.2" y="1798.7" font-size="28">0.6</text><line x1="1881.3" y1="1752.8" x2="1889.3" y2="1752.8" stroke="#222" stroke-width="1.6" /><text class="dv" x="1898.2" y="1763" font-size="28">0.8</text><line x1="1881.3" y1="1717.1" x2="1889.3" y2="1717.1" stroke="#222" stroke-width="1.6" /><text class="dv" x="1898.2" y="1727.3" font-size="28">1.0</text>
<circle cx="1061.2" cy="1727.9" r="17.6" fill="#fff" stroke="#000" stroke-width="2.5" /><text class="ls" x="1061.2" y="1738" font-size="28" font-weight="bold" text-anchor="middle">5</text><circle cx="1061.2" cy="1766.4" r="17.6" fill="#fff" stroke="#000" stroke-width="2.5" /><text class="ls" x="1061.2" y="1776.5" font-size="28" font-weight="bold" text-anchor="middle">4</text><circle cx="1061.2" cy="1804.3" r="17.6" fill="#fff" stroke="#000" stroke-width="2.5" /><text class="ls" x="1061.2" y="1814.4" font-size="28" font-weight="bold" text-anchor="middle">3</text><circle cx="1061.2" cy="1842.8" r="17.6" fill="#fff" stroke="#000" stroke-width="2.5" /><text class="ls" x="1061.2" y="1852.9" font-size="28" font-weight="bold" text-anchor="middle">2</text><circle cx="1061.2" cy="1881.3" r="17.6" fill="#fff" stroke="#000" stroke-width="2.5" /><text class="ls" x="1061.2" y="1891.4" font-size="28" font-weight="bold" text-anchor="middle">1</text>
<line x1="1340.8" y1="1937.9" x2="1395.7" y2="1937.9" stroke="#222" stroke-width="1.5" /><polyline points="1376.7,1926.5 1395.7,1937.9 1376.7,1949.3" fill="none" stroke="#222" stroke-width="1.5"/><line x1="1437" y1="1937.9" x2="1472.2" y2="1937.9" stroke="#222" stroke-width="1.5" /><polyline points="1453.2,1926.5 1472.2,1937.9 1453.2,1949.3" fill="none" stroke="#222" stroke-width="1.5"/><line x1="1512" y1="1937.9" x2="1579.7" y2="1937.9" stroke="#222" stroke-width="1.5" /><polyline points="1560.7,1926.5 1579.7,1937.9 1560.7,1949.3" fill="none" stroke="#222" stroke-width="1.5"/><circle cx="1128.4" cy="1937.9" r="17" fill="#fff" stroke="#2a2a2a" stroke-width="1.3" /><text class="ls" x="1128.4" y="1948.9" font-size="31" text-anchor="middle" fill="#111">4</text><circle cx="1167.5" cy="1937.9" r="17" fill="#fff" stroke="#2a2a2a" stroke-width="1.3" /><text class="ls" x="1167.5" y="1948.9" font-size="31" text-anchor="middle" fill="#111">2</text><circle cx="1206" cy="1937.9" r="17" fill="#fff" stroke="#2a2a2a" stroke-width="1.3" /><text class="ls" x="1206" y="1948.9" font-size="31" text-anchor="middle" fill="#111">3</text><circle cx="1244.5" cy="1937.9" r="17" fill="#fff" stroke="#2a2a2a" stroke-width="1.3" /><text class="ls" x="1244.5" y="1948.9" font-size="31" text-anchor="middle" fill="#111">4</text><circle cx="1283.6" cy="1937.9" r="17" fill="#fff" stroke="#2a2a2a" stroke-width="1.3" /><text class="ls" x="1283.6" y="1948.9" font-size="31" text-anchor="middle" fill="#111">5</text><circle cx="1322.1" cy="1937.9" r="17" fill="#fff" stroke="#2a2a2a" stroke-width="1.3" /><text class="ls" x="1322.1" y="1948.9" font-size="31" text-anchor="middle" fill="#111">1</text><circle cx="1418.4" cy="1937.9" r="17" fill="#fff" stroke="#2a2a2a" stroke-width="1.3" /><text class="ls" x="1418.4" y="1948.9" font-size="31" text-anchor="middle" fill="#111">2</text><circle cx="1493.1" cy="1937.9" r="17" fill="#fff" stroke="#2a2a2a" stroke-width="1.3" /><text class="ls" x="1493.1" y="1948.9" font-size="31" text-anchor="middle" fill="#111">3</text><circle cx="1602.4" cy="1937.9" r="17" fill="#fff" stroke="#2a2a2a" stroke-width="1.3" /><text class="ls" x="1602.4" y="1948.9" font-size="31" text-anchor="middle" fill="#111">4</text><circle cx="1642" cy="1937.9" r="17" fill="#fff" stroke="#2a2a2a" stroke-width="1.3" /><text class="ls" x="1642" y="1948.9" font-size="31" text-anchor="middle" fill="#111">1</text><circle cx="1680" cy="1937.9" r="17" fill="#fff" stroke="#2a2a2a" stroke-width="1.3" /><text class="ls" x="1680" y="1948.9" font-size="31" text-anchor="middle" fill="#111">3</text><circle cx="1718.5" cy="1937.9" r="17" fill="#fff" stroke="#2a2a2a" stroke-width="1.3" /><text class="ls" x="1718.5" y="1948.9" font-size="31" text-anchor="middle" fill="#111">2</text><circle cx="1757" cy="1937.9" r="17" fill="#fff" stroke="#2a2a2a" stroke-width="1.3" /><text class="ls" x="1757" y="1948.9" font-size="31" text-anchor="middle" fill="#111">5</text><circle cx="1796.1" cy="1937.9" r="17" fill="#fff" stroke="#2a2a2a" stroke-width="1.3" /><text class="ls" x="1796.1" y="1948.9" font-size="31" text-anchor="middle" fill="#111">4</text><circle cx="1834.6" cy="1937.9" r="17" fill="#fff" stroke="#2a2a2a" stroke-width="1.3" /><text class="ls" x="1834.6" y="1948.9" font-size="31" text-anchor="middle" fill="#111">3</text>
<text class="ls" x="2014" y="965.4" font-size="60.5" font-weight="bold">F</text>
<text class="ls" x="2350.4" y="968" font-size="44.5" font-weight="bold" textLength="212.3" lengthAdjust="spacingAndGlyphs">Oneshot-</text>
<text class="ls" x="2065.5" y="1050.6" font-size="42" textLength="758" lengthAdjust="spacingAndGlyphs">Causal uncertainty (Dirichlet variance)</text>
<rect x="2067.2" y="1072.1" width="36.4" height="36.3" fill="#faee00" /><rect x="2103" y="1072.1" width="36.4" height="36.3" fill="#004dff" /><rect x="2138.7" y="1072.1" width="36.4" height="36.3" fill="#0038ff" /><rect x="2174.5" y="1072.1" width="36.4" height="36.3" fill="#0000f3" /><rect x="2210.3" y="1072.1" width="36.4" height="36.3" fill="#0000ff" /><rect x="2246.1" y="1072.1" width="36.4" height="36.3" fill="#0005ff" /><rect x="2281.8" y="1072.1" width="36.4" height="36.3" fill="#000fff" /><rect x="2317.6" y="1072.1" width="36.4" height="36.3" fill="#0019ff" /><rect x="2353.4" y="1072.1" width="36.4" height="36.3" fill="#002eff" /><rect x="2389.1" y="1072.1" width="36.4" height="36.3" fill="#004dff" /><rect x="2424.9" y="1072.1" width="36.4" height="36.3" fill="#0080ff" /><rect x="2460.7" y="1072.1" width="36.4" height="36.3" fill="#00a8ff" /><rect x="2496.5" y="1072.1" width="36.4" height="36.3" fill="#00d1ff" /><rect x="2532.2" y="1072.1" width="36.4" height="36.3" fill="#19ffde" /><rect x="2568" y="1072.1" width="36.4" height="36.3" fill="#5aff9c" /><rect x="2603.8" y="1072.1" width="36.4" height="36.3" fill="#a5ff52" /><rect x="2639.5" y="1072.1" width="36.4" height="36.3" fill="#f7f600" /><rect x="2675.3" y="1072.1" width="143.7" height="36.3" fill="#ff5500" /><rect x="2067.2" y="1107.8" width="36.4" height="36.3" fill="#faee00" /><rect x="2103" y="1107.8" width="36.4" height="36.3" fill="#004dff" /><rect x="2138.7" y="1107.8" width="36.4" height="36.3" fill="#0038ff" /><rect x="2174.5" y="1107.8" width="36.4" height="36.3" fill="#0094ff" /><rect x="2210.3" y="1107.8" width="36.4" height="36.3" fill="#00b2ff" /><rect x="2246.1" y="1107.8" width="36.4" height="36.3" fill="#008aff" /><rect x="2281.8" y="1107.8" width="36.4" height="36.3" fill="#009eff" /><rect x="2317.6" y="1107.8" width="36.4" height="36.3" fill="#00b2ff" /><rect x="2353.4" y="1107.8" width="36.4" height="36.3" fill="#00d1ff" /><rect x="2389.1" y="1107.8" width="36.4" height="36.3" fill="#0094ff" /><rect x="2424.9" y="1107.8" width="36.4" height="36.3" fill="#00c7ff" /><rect x="2460.7" y="1107.8" width="36.4" height="36.3" fill="#0094ff" /><rect x="2496.5" y="1107.8" width="36.4" height="36.3" fill="#00b2ff" /><rect x="2532.2" y="1107.8" width="36.4" height="36.3" fill="#00d1ff" /><rect x="2568" y="1107.8" width="36.4" height="36.3" fill="#4affad" /><rect x="2603.8" y="1107.8" width="36.4" height="36.3" fill="#8cff6b" /><rect x="2639.5" y="1107.8" width="36.4" height="36.3" fill="#ceff29" /><rect x="2675.3" y="1107.8" width="36.4" height="36.3" fill="#009eff" /><rect x="2711.1" y="1107.8" width="36.4" height="36.3" fill="#0094ff" /><rect x="2746.9" y="1107.8" width="36.4" height="36.3" fill="#008aff" /><rect x="2782.6" y="1107.8" width="36.4" height="36.3" fill="#0080ff" /><rect x="2067.2" y="1143.5" width="36.4" height="36.3" fill="#faee00" /><rect x="2103" y="1143.5" width="36.4" height="36.3" fill="#004dff" /><rect x="2138.7" y="1143.5" width="36.4" height="36.3" fill="#0024ff" /><rect x="2174.5" y="1143.5" width="36.4" height="36.3" fill="#0080ff" /><rect x="2210.3" y="1143.5" width="36.4" height="36.3" fill="#0094ff" /><rect x="2246.1" y="1143.5" width="36.4" height="36.3" fill="#00b2ff" /><rect x="2281.8" y="1143.5" width="36.4" height="36.3" fill="#009eff" /><rect x="2317.6" y="1143.5" width="36.4" height="36.3" fill="#00b2ff" /><rect x="2353.4" y="1143.5" width="36.4" height="36.3" fill="#0094ff" /><rect x="2389.1" y="1143.5" width="36.4" height="36.3" fill="#00c7ff" /><rect x="2424.9" y="1143.5" width="36.4" height="36.3" fill="#29ffce" /><rect x="2460.7" y="1143.5" width="36.4" height="36.3" fill="#42ffb5" /><rect x="2496.5" y="1143.5" width="36.4" height="36.3" fill="#19ffde" /><rect x="2532.2" y="1143.5" width="36.4" height="36.3" fill="#3affbd" /><rect x="2568" y="1143.5" width="36.4" height="36.3" fill="#94ff63" /><rect x="2603.8" y="1143.5" width="36.4" height="36.3" fill="#3affbd" /><rect x="2639.5" y="1143.5" width="36.4" height="36.3" fill="#7bff7b" /><rect x="2675.3" y="1143.5" width="72.1" height="36.3" fill="#e6ff10" /><rect x="2746.9" y="1143.5" width="72.1" height="36.3" fill="#efff08" /><rect x="2067.2" y="1179.1" width="36.4" height="36.3" fill="#faee00" /><rect x="2103" y="1179.1" width="36.4" height="36.3" fill="#004dff" /><rect x="2138.7" y="1179.1" width="36.4" height="36.3" fill="#0038ff" /><rect x="2174.5" y="1179.1" width="36.4" height="36.3" fill="#008aff" /><rect x="2210.3" y="1179.1" width="36.4" height="36.3" fill="#006bff" /><rect x="2246.1" y="1179.1" width="36.4" height="36.3" fill="#008aff" /><rect x="2281.8" y="1179.1" width="36.4" height="36.3" fill="#00a8ff" /><rect x="2317.6" y="1179.1" width="36.4" height="36.3" fill="#00bdff" /><rect x="2353.4" y="1179.1" width="36.4" height="36.3" fill="#00dbff" /><rect x="2389.1" y="1179.1" width="36.4" height="36.3" fill="#19ffde" /><rect x="2424.9" y="1179.1" width="36.4" height="36.3" fill="#00b2ff" /><rect x="2460.7" y="1179.1" width="36.4" height="36.3" fill="#00dbff" /><rect x="2496.5" y="1179.1" width="36.4" height="36.3" fill="#19ffde" /><rect x="2532.2" y="1179.1" width="36.4" height="36.3" fill="#009eff" /><rect x="2568" y="1179.1" width="36.4" height="36.3" fill="#3affbd" /><rect x="2603.8" y="1179.1" width="36.4" height="36.3" fill="#6bff8c" /><rect x="2639.5" y="1179.1" width="36.4" height="36.3" fill="#a5ff52" /><rect x="2675.3" y="1179.1" width="36.4" height="36.3" fill="#ffb300" /><rect x="2711.1" y="1179.1" width="72.1" height="36.3" fill="#ffaa00" /><rect x="2782.6" y="1179.1" width="36.4" height="36.3" fill="#ffa100" /><rect x="2067.2" y="1214.8" width="36.4" height="36.3" fill="#faee00" /><rect x="2103" y="1214.8" width="36.4" height="36.3" fill="#0024ff" /><rect x="2138.7" y="1214.8" width="36.4" height="36.3" fill="#0019ff" /><rect x="2174.5" y="1214.8" width="36.4" height="36.3" fill="#006bff" /><rect x="2210.3" y="1214.8" width="36.4" height="36.3" fill="#008aff" /><rect x="2246.1" y="1214.8" width="36.4" height="36.3" fill="#00a8ff" /><rect x="2281.8" y="1214.8" width="36.4" height="36.3" fill="#00c7ff" /><rect x="2317.6" y="1214.8" width="36.4" height="36.3" fill="#00b2ff" /><rect x="2353.4" y="1214.8" width="36.4" height="36.3" fill="#00d1ff" /><rect x="2389.1" y="1214.8" width="36.4" height="36.3" fill="#19ffde" /><rect x="2424.9" y="1214.8" width="36.4" height="36.3" fill="#52ffa5" /><rect x="2460.7" y="1214.8" width="36.4" height="36.3" fill="#6bff8c" /><rect x="2496.5" y="1214.8" width="36.4" height="36.3" fill="#8cff6b" /><rect x="2532.2" y="1214.8" width="36.4" height="36.3" fill="#adff4a" /><rect x="2568" y="1214.8" width="36.4" height="36.3" fill="#63ff94" /><rect x="2603.8" y="1214.8" width="36.4" height="36.3" fill="#a5ff52" /><rect x="2639.5" y="1214.8" width="36.4" height="36.3" fill="#4affad" /><rect x="2675.3" y="1214.8" width="72.1" height="36.3" fill="#adff4a" /><rect x="2746.9" y="1214.8" width="72.1" height="36.3" fill="#b5ff42" /><rect x="2067.5" y="1072.4" width="751.2" height="178.4" fill="none" stroke="#1a1a1a" stroke-width="2" /><line x1="2085.4" y1="1250.8" x2="2085.4" y2="1258.8" stroke="#222" stroke-width="1.6" /><line x1="2121.2" y1="1250.8" x2="2121.2" y2="1258.8" stroke="#222" stroke-width="1.6" /><line x1="2156.9" y1="1250.8" x2="2156.9" y2="1258.8" stroke="#222" stroke-width="1.6" /><line x1="2192.7" y1="1250.8" x2="2192.7" y2="1258.8" stroke="#222" stroke-width="1.6" /><line x1="2228.5" y1="1250.8" x2="2228.5" y2="1258.8" stroke="#222" stroke-width="1.6" /><line x1="2264.2" y1="1250.8" x2="2264.2" y2="1258.8" stroke="#222" stroke-width="1.6" /><line x1="2300" y1="1250.8" x2="2300" y2="1258.8" stroke="#222" stroke-width="1.6" /><line x1="2335.8" y1="1250.8" x2="2335.8" y2="1258.8" stroke="#222" stroke-width="1.6" /><line x1="2371.6" y1="1250.8" x2="2371.6" y2="1258.8" stroke="#222" stroke-width="1.6" /><line x1="2407.3" y1="1250.8" x2="2407.3" y2="1258.8" stroke="#222" stroke-width="1.6" /><line x1="2443.1" y1="1250.8" x2="2443.1" y2="1258.8" stroke="#222" stroke-width="1.6" /><line x1="2478.9" y1="1250.8" x2="2478.9" y2="1258.8" stroke="#222" stroke-width="1.6" /><line x1="2514.6" y1="1250.8" x2="2514.6" y2="1258.8" stroke="#222" stroke-width="1.6" /><line x1="2550.4" y1="1250.8" x2="2550.4" y2="1258.8" stroke="#222" stroke-width="1.6" /><line x1="2586.2" y1="1250.8" x2="2586.2" y2="1258.8" stroke="#222" stroke-width="1.6" /><line x1="2622" y1="1250.8" x2="2622" y2="1258.8" stroke="#222" stroke-width="1.6" /><line x1="2657.7" y1="1250.8" x2="2657.7" y2="1258.8" stroke="#222" stroke-width="1.6" /><line x1="2693.5" y1="1250.8" x2="2693.5" y2="1258.8" stroke="#222" stroke-width="1.6" /><line x1="2729.3" y1="1250.8" x2="2729.3" y2="1258.8" stroke="#222" stroke-width="1.6" /><line x1="2765" y1="1250.8" x2="2765" y2="1258.8" stroke="#222" stroke-width="1.6" /><line x1="2800.8" y1="1250.8" x2="2800.8" y2="1258.8" stroke="#222" stroke-width="1.6" /><line x1="2058.5" y1="1090.2" x2="2067.5" y2="1090.2" stroke="#222" stroke-width="1.6" /><line x1="2058.5" y1="1125.9" x2="2067.5" y2="1125.9" stroke="#222" stroke-width="1.6" /><line x1="2058.5" y1="1161.6" x2="2067.5" y2="1161.6" stroke="#222" stroke-width="1.6" /><line x1="2058.5" y1="1197.3" x2="2067.5" y2="1197.3" stroke="#222" stroke-width="1.6" /><line x1="2058.5" y1="1233" x2="2067.5" y2="1233" stroke="#222" stroke-width="1.6" />
<rect x="2830.6" y="1072.4" width="15.9" height="178.4" fill="url(#gjet)" stroke="#1a1a1a" stroke-width="1.6" /><line x1="2846.5" y1="1250.8" x2="2854.5" y2="1250.8" stroke="#222" stroke-width="1.6" /><text class="dv" x="2862.8" y="1261" font-size="28">0.00</text><line x1="2846.5" y1="1225.3" x2="2854.5" y2="1225.3" stroke="#222" stroke-width="1.6" /><text class="dv" x="2862.8" y="1235.5" font-size="28">0.01</text><line x1="2846.5" y1="1199.8" x2="2854.5" y2="1199.8" stroke="#222" stroke-width="1.6" /><text class="dv" x="2862.8" y="1210" font-size="28">0.02</text><line x1="2846.5" y1="1174.3" x2="2854.5" y2="1174.3" stroke="#222" stroke-width="1.6" /><text class="dv" x="2862.8" y="1184.5" font-size="28">0.03</text><line x1="2846.5" y1="1148.9" x2="2854.5" y2="1148.9" stroke="#222" stroke-width="1.6" /><text class="dv" x="2862.8" y="1159.1" font-size="28">0.04</text><line x1="2846.5" y1="1123.4" x2="2854.5" y2="1123.4" stroke="#222" stroke-width="1.6" /><text class="dv" x="2862.8" y="1133.6" font-size="28">0.05</text><line x1="2846.5" y1="1097.9" x2="2854.5" y2="1097.9" stroke="#222" stroke-width="1.6" /><text class="dv" x="2862.8" y="1108.1" font-size="28">0.06</text><line x1="2846.5" y1="1072.4" x2="2854.5" y2="1072.4" stroke="#222" stroke-width="1.6" /><text class="dv" x="2862.8" y="1082.6" font-size="28">0.07</text>
<circle cx="2025.8" cy="1087.5" r="17.6" fill="#fff" stroke="#000" stroke-width="2.5" /><text class="ls" x="2025.8" y="1097.6" font-size="28" font-weight="bold" text-anchor="middle">5</text><circle cx="2025.8" cy="1126.7" r="17.6" fill="#fff" stroke="#000" stroke-width="2.5" /><text class="ls" x="2025.8" y="1136.8" font-size="28" font-weight="bold" text-anchor="middle">4</text><circle cx="2025.8" cy="1164.4" r="17.6" fill="#fff" stroke="#000" stroke-width="2.5" /><text class="ls" x="2025.8" y="1174.5" font-size="28" font-weight="bold" text-anchor="middle">3</text><circle cx="2025.8" cy="1203.2" r="17.6" fill="#fff" stroke="#000" stroke-width="2.5" /><text class="ls" x="2025.8" y="1213.3" font-size="28" font-weight="bold" text-anchor="middle">2</text><circle cx="2025.8" cy="1240.9" r="17.6" fill="#fff" stroke="#000" stroke-width="2.5" /><text class="ls" x="2025.8" y="1251" font-size="28" font-weight="bold" text-anchor="middle">1</text>
<line x1="2715.6" y1="1290.9" x2="2801.7" y2="1290.9" stroke="#222" stroke-width="1.5" /><polyline points="2782.7,1279.5 2801.7,1290.9 2782.7,1302.3" fill="none" stroke="#222" stroke-width="1.5"/><circle cx="2084" cy="1290.9" r="17" fill="#fff" stroke="#2a2a2a" stroke-width="1.3" /><text class="ls" x="2084" y="1301.9" font-size="31" text-anchor="middle" fill="#111">1</text><circle cx="2122.4" cy="1290.9" r="17" fill="#fff" stroke="#2a2a2a" stroke-width="1.3" /><text class="ls" x="2122.4" y="1301.9" font-size="31" text-anchor="middle" fill="#111">3</text><circle cx="2160.8" cy="1290.9" r="17" fill="#fff" stroke="#2a2a2a" stroke-width="1.3" /><text class="ls" x="2160.8" y="1301.9" font-size="31" text-anchor="middle" fill="#111">5</text><circle cx="2199.3" cy="1290.9" r="17" fill="#fff" stroke="#2a2a2a" stroke-width="1.3" /><text class="ls" x="2199.3" y="1301.9" font-size="31" text-anchor="middle" fill="#111">2</text><circle cx="2237.7" cy="1290.9" r="17" fill="#fff" stroke="#2a2a2a" stroke-width="1.3" /><text class="ls" x="2237.7" y="1301.9" font-size="31" text-anchor="middle" fill="#111">4</text><circle cx="2276.1" cy="1290.9" r="17" fill="#fff" stroke="#2a2a2a" stroke-width="1.3" /><text class="ls" x="2276.1" y="1301.9" font-size="31" text-anchor="middle" fill="#111">3</text><circle cx="2314.5" cy="1290.9" r="17" fill="#fff" stroke="#2a2a2a" stroke-width="1.3" /><text class="ls" x="2314.5" y="1301.9" font-size="31" text-anchor="middle" fill="#111">1</text><circle cx="2352.9" cy="1290.9" r="17" fill="#fff" stroke="#2a2a2a" stroke-width="1.3" /><text class="ls" x="2352.9" y="1301.9" font-size="31" text-anchor="middle" fill="#111">3</text><circle cx="2391.4" cy="1290.9" r="17" fill="#fff" stroke="#2a2a2a" stroke-width="1.3" /><text class="ls" x="2391.4" y="1301.9" font-size="31" text-anchor="middle" fill="#111">4</text><circle cx="2429.8" cy="1290.9" r="17" fill="#fff" stroke="#2a2a2a" stroke-width="1.3" /><text class="ls" x="2429.8" y="1301.9" font-size="31" text-anchor="middle" fill="#111">2</text><circle cx="2468.2" cy="1290.9" r="17" fill="#fff" stroke="#2a2a2a" stroke-width="1.3" /><text class="ls" x="2468.2" y="1301.9" font-size="31" text-anchor="middle" fill="#111">4</text><circle cx="2506.6" cy="1290.9" r="17" fill="#fff" stroke="#2a2a2a" stroke-width="1.3" /><text class="ls" x="2506.6" y="1301.9" font-size="31" text-anchor="middle" fill="#111">3</text><circle cx="2545" cy="1290.9" r="17" fill="#fff" stroke="#2a2a2a" stroke-width="1.3" /><text class="ls" x="2545" y="1301.9" font-size="31" text-anchor="middle" fill="#111">2</text><circle cx="2583.5" cy="1290.9" r="17" fill="#fff" stroke="#2a2a2a" stroke-width="1.3" /><text class="ls" x="2583.5" y="1301.9" font-size="31" text-anchor="middle" fill="#111">1</text><circle cx="2621.9" cy="1290.9" r="17" fill="#fff" stroke="#2a2a2a" stroke-width="1.3" /><text class="ls" x="2621.9" y="1301.9" font-size="31" text-anchor="middle" fill="#111">3</text><circle cx="2660.3" cy="1290.9" r="17" fill="#fff" stroke="#2a2a2a" stroke-width="1.3" /><text class="ls" x="2660.3" y="1301.9" font-size="31" text-anchor="middle" fill="#111">1</text><circle cx="2698.7" cy="1290.9" r="17" fill="#fff" stroke="#2a2a2a" stroke-width="1.3" /><text class="ls" x="2698.7" y="1301.9" font-size="31" text-anchor="middle" fill="#111">4</text>
<text class="ls" x="2320.9" y="1368.9" font-size="42" textLength="260.5" lengthAdjust="spacingAndGlyphs">Learning rate</text>
<rect x="2060.2" y="1389.3" width="36.4" height="36.2" fill="#00d1ff" /><rect x="2096" y="1389.3" width="36.4" height="36.2" fill="#00dbff" /><rect x="2131.7" y="1389.3" width="36.4" height="36.2" fill="#08f0ef" /><rect x="2167.5" y="1389.3" width="215.1" height="36.2" fill="#0000c5" /><rect x="2382" y="1389.3" width="36.4" height="36.2" fill="#0000d1" /><rect x="2417.7" y="1389.3" width="72.1" height="36.2" fill="#0000dc" /><rect x="2489.2" y="1389.3" width="72.1" height="36.2" fill="#0000f3" /><rect x="2560.7" y="1389.3" width="36.4" height="36.2" fill="#08f0ef" /><rect x="2596.5" y="1389.3" width="36.4" height="36.2" fill="#6bff8c" /><rect x="2632.2" y="1389.3" width="36.4" height="36.2" fill="#ffd900" /><rect x="2668" y="1389.3" width="143.6" height="36.2" fill="#800000" /><rect x="2060.2" y="1424.9" width="36.4" height="36.2" fill="#00d1ff" /><rect x="2096" y="1424.9" width="36.4" height="36.2" fill="#00dbff" /><rect x="2131.7" y="1424.9" width="36.4" height="36.2" fill="#08f0ef" /><rect x="2167.5" y="1424.9" width="36.4" height="36.2" fill="#4affad" /><rect x="2203.2" y="1424.9" width="36.4" height="36.2" fill="#63ff94" /><rect x="2239" y="1424.9" width="36.4" height="36.2" fill="#00b2ff" /><rect x="2274.7" y="1424.9" width="36.4" height="36.2" fill="#00d1ff" /><rect x="2310.5" y="1424.9" width="36.4" height="36.2" fill="#19ffde" /><rect x="2346.2" y="1424.9" width="36.4" height="36.2" fill="#3affbd" /><rect x="2382" y="1424.9" width="36.4" height="36.2" fill="#0038ff" /><rect x="2417.7" y="1424.9" width="36.4" height="36.2" fill="#006bff" /><rect x="2453.5" y="1424.9" width="107.9" height="36.2" fill="#0000c5" /><rect x="2560.7" y="1424.9" width="36.4" height="36.2" fill="#0061ff" /><rect x="2596.5" y="1424.9" width="36.4" height="36.2" fill="#00c7ff" /><rect x="2632.2" y="1424.9" width="36.4" height="36.2" fill="#42ffb5" /><rect x="2668" y="1424.9" width="143.6" height="36.2" fill="#000080" /><rect x="2060.2" y="1460.6" width="36.4" height="36.2" fill="#00d1ff" /><rect x="2096" y="1460.6" width="36.4" height="36.2" fill="#00dbff" /><rect x="2131.7" y="1460.6" width="36.4" height="36.2" fill="#008aff" /><rect x="2167.5" y="1460.6" width="36.4" height="36.2" fill="#00dbff" /><rect x="2203.2" y="1460.6" width="36.4" height="36.2" fill="#19ffde" /><rect x="2239" y="1460.6" width="36.4" height="36.2" fill="#52ffa5" /><rect x="2274.7" y="1460.6" width="36.4" height="36.2" fill="#00d1ff" /><rect x="2310.5" y="1460.6" width="36.4" height="36.2" fill="#19ffde" /><rect x="2346.2" y="1460.6" width="36.4" height="36.2" fill="#008aff" /><rect x="2382" y="1460.6" width="36.4" height="36.2" fill="#00b2ff" /><rect x="2417.7" y="1460.6" width="36.4" height="36.2" fill="#3affbd" /><rect x="2453.5" y="1460.6" width="36.4" height="36.2" fill="#52ffa5" /><rect x="2489.2" y="1460.6" width="36.4" height="36.2" fill="#0061ff" /><rect x="2525" y="1460.6" width="36.4" height="36.2" fill="#0075ff" /><rect x="2560.7" y="1460.6" width="36.4" height="36.2" fill="#a5ff52" /><rect x="2596.5" y="1460.6" width="36.4" height="36.2" fill="#0000f3" /><rect x="2632.2" y="1460.6" width="36.4" height="36.2" fill="#0000ff" /><rect x="2668" y="1460.6" width="143.6" height="36.2" fill="#002eff" /><rect x="2060.2" y="1496.2" width="36.4" height="36.2" fill="#00d1ff" /><rect x="2096" y="1496.2" width="36.4" height="36.2" fill="#00dbff" /><rect x="2131.7" y="1496.2" width="36.4" height="36.2" fill="#08f0ef" /><rect x="2167.5" y="1496.2" width="36.4" height="36.2" fill="#3affbd" /><rect x="2203.2" y="1496.2" width="36.4" height="36.2" fill="#0094ff" /><rect x="2239" y="1496.2" width="36.4" height="36.2" fill="#00d1ff" /><rect x="2274.7" y="1496.2" width="36.4" height="36.2" fill="#10fae6" /><rect x="2310.5" y="1496.2" width="36.4" height="36.2" fill="#29ffce" /><rect x="2346.2" y="1496.2" width="36.4" height="36.2" fill="#4affad" /><rect x="2382" y="1496.2" width="36.4" height="36.2" fill="#8cff6b" /><rect x="2417.7" y="1496.2" width="36.4" height="36.2" fill="#002eff" /><rect x="2453.5" y="1496.2" width="36.4" height="36.2" fill="#0038ff" /><rect x="2489.2" y="1496.2" width="36.4" height="36.2" fill="#0061ff" /><rect x="2525" y="1496.2" width="36.4" height="36.2" fill="#0000dc" /><rect x="2560.7" y="1496.2" width="36.4" height="36.2" fill="#000fff" /><rect x="2596.5" y="1496.2" width="36.4" height="36.2" fill="#004dff" /><rect x="2632.2" y="1496.2" width="36.4" height="36.2" fill="#0094ff" /><rect x="2668" y="1496.2" width="143.6" height="36.2" fill="#19ffde" /><rect x="2060.2" y="1531.9" width="36.4" height="36.2" fill="#00d1ff" /><rect x="2096" y="1531.9" width="36.4" height="36.2" fill="#009eff" /><rect x="2131.7" y="1531.9" width="36.4" height="36.2" fill="#00a8ff" /><rect x="2167.5" y="1531.9" width="36.4" height="36.2" fill="#08f0ef" /><rect x="2203.2" y="1531.9" width="36.4" height="36.2" fill="#29ffce" /><rect x="2239" y="1531.9" width="36.4" height="36.2" fill="#52ffa5" /><rect x="2274.7" y="1531.9" width="36.4" height="36.2" fill="#6bff8c" /><rect x="2310.5" y="1531.9" width="36.4" height="36.2" fill="#19ffde" /><rect x="2346.2" y="1531.9" width="36.4" height="36.2" fill="#29ffce" /><rect x="2382" y="1531.9" width="36.4" height="36.2" fill="#63ff94" /><rect x="2417.7" y="1531.9" width="36.4" height="36.2" fill="#deff19" /><rect x="2453.5" y="1531.9" width="36.4" height="36.2" fill="#ffb300" /><rect x="2489.2" y="1531.9" width="36.4" height="36.2" fill="#ff3900" /><rect x="2525" y="1531.9" width="36.4" height="36.2" fill="#800000" /><rect x="2560.7" y="1531.9" width="36.4" height="36.2" fill="#00d1ff" /><rect x="2596.5" y="1531.9" width="36.4" height="36.2" fill="#5aff9c" /><rect x="2632.2" y="1531.9" width="179.4" height="36.2" fill="#0000f3" /><rect x="2060.5" y="1389.6" width="750.8" height="178.2" fill="none" stroke="#1a1a1a" stroke-width="2" /><line x1="2078.4" y1="1567.8" x2="2078.4" y2="1575.8" stroke="#222" stroke-width="1.6" /><line x1="2114.1" y1="1567.8" x2="2114.1" y2="1575.8" stroke="#222" stroke-width="1.6" /><line x1="2149.9" y1="1567.8" x2="2149.9" y2="1575.8" stroke="#222" stroke-width="1.6" /><line x1="2185.6" y1="1567.8" x2="2185.6" y2="1575.8" stroke="#222" stroke-width="1.6" /><line x1="2221.4" y1="1567.8" x2="2221.4" y2="1575.8" stroke="#222" stroke-width="1.6" /><line x1="2257.1" y1="1567.8" x2="2257.1" y2="1575.8" stroke="#222" stroke-width="1.6" /><line x1="2292.9" y1="1567.8" x2="2292.9" y2="1575.8" stroke="#222" stroke-width="1.6" /><line x1="2328.6" y1="1567.8" x2="2328.6" y2="1575.8" stroke="#222" stroke-width="1.6" /><line x1="2364.4" y1="1567.8" x2="2364.4" y2="1575.8" stroke="#222" stroke-width="1.6" /><line x1="2400.1" y1="1567.8" x2="2400.1" y2="1575.8" stroke="#222" stroke-width="1.6" /><line x1="2435.9" y1="1567.8" x2="2435.9" y2="1575.8" stroke="#222" stroke-width="1.6" /><line x1="2471.7" y1="1567.8" x2="2471.7" y2="1575.8" stroke="#222" stroke-width="1.6" /><line x1="2507.4" y1="1567.8" x2="2507.4" y2="1575.8" stroke="#222" stroke-width="1.6" /><line x1="2543.2" y1="1567.8" x2="2543.2" y2="1575.8" stroke="#222" stroke-width="1.6" /><line x1="2578.9" y1="1567.8" x2="2578.9" y2="1575.8" stroke="#222" stroke-width="1.6" /><line x1="2614.7" y1="1567.8" x2="2614.7" y2="1575.8" stroke="#222" stroke-width="1.6" /><line x1="2650.4" y1="1567.8" x2="2650.4" y2="1575.8" stroke="#222" stroke-width="1.6" /><line x1="2686.2" y1="1567.8" x2="2686.2" y2="1575.8" stroke="#222" stroke-width="1.6" /><line x1="2721.9" y1="1567.8" x2="2721.9" y2="1575.8" stroke="#222" stroke-width="1.6" /><line x1="2757.7" y1="1567.8" x2="2757.7" y2="1575.8" stroke="#222" stroke-width="1.6" /><line x1="2793.4" y1="1567.8" x2="2793.4" y2="1575.8" stroke="#222" stroke-width="1.6" /><line x1="2051.5" y1="1407.4" x2="2060.5" y2="1407.4" stroke="#222" stroke-width="1.6" /><line x1="2051.5" y1="1443.1" x2="2060.5" y2="1443.1" stroke="#222" stroke-width="1.6" /><line x1="2051.5" y1="1478.7" x2="2060.5" y2="1478.7" stroke="#222" stroke-width="1.6" /><line x1="2051.5" y1="1514.3" x2="2060.5" y2="1514.3" stroke="#222" stroke-width="1.6" /><line x1="2051.5" y1="1550" x2="2060.5" y2="1550" stroke="#222" stroke-width="1.6" />
<rect x="2822.3" y="1389.6" width="16.3" height="178.2" fill="url(#gjet)" stroke="#1a1a1a" stroke-width="1.6" /><line x1="2838.6" y1="1567.8" x2="2846.6" y2="1567.8" stroke="#222" stroke-width="1.6" /><text class="dv" x="2855.4" y="1578" font-size="28">0.0</text><line x1="2838.6" y1="1538.1" x2="2846.6" y2="1538.1" stroke="#222" stroke-width="1.6" /><text class="dv" x="2855.4" y="1548.3" font-size="28">0.1</text><line x1="2838.6" y1="1508.4" x2="2846.6" y2="1508.4" stroke="#222" stroke-width="1.6" /><text class="dv" x="2855.4" y="1518.6" font-size="28">0.2</text><line x1="2838.6" y1="1478.7" x2="2846.6" y2="1478.7" stroke="#222" stroke-width="1.6" /><text class="dv" x="2855.4" y="1488.9" font-size="28">0.3</text><line x1="2838.6" y1="1449" x2="2846.6" y2="1449" stroke="#222" stroke-width="1.6" /><text class="dv" x="2855.4" y="1459.2" font-size="28">0.4</text><line x1="2838.6" y1="1419.3" x2="2846.6" y2="1419.3" stroke="#222" stroke-width="1.6" /><text class="dv" x="2855.4" y="1429.5" font-size="28">0.5</text><line x1="2838.6" y1="1389.6" x2="2846.6" y2="1389.6" stroke="#222" stroke-width="1.6" /><text class="dv" x="2855.4" y="1399.8" font-size="28">0.6</text>
<circle cx="2022" cy="1401.1" r="17.6" fill="#fff" stroke="#000" stroke-width="2.5" /><text class="ls" x="2022" y="1411.2" font-size="28" font-weight="bold" text-anchor="middle">5</text><circle cx="2022" cy="1440.8" r="17.6" fill="#fff" stroke="#000" stroke-width="2.5" /><text class="ls" x="2022" y="1450.9" font-size="28" font-weight="bold" text-anchor="middle">4</text><circle cx="2022" cy="1478.7" r="17.6" fill="#fff" stroke="#000" stroke-width="2.5" /><text class="ls" x="2022" y="1488.8" font-size="28" font-weight="bold" text-anchor="middle">3</text><circle cx="2022" cy="1516.1" r="17.6" fill="#fff" stroke="#000" stroke-width="2.5" /><text class="ls" x="2022" y="1526.2" font-size="28" font-weight="bold" text-anchor="middle">2</text><circle cx="2022" cy="1555.7" r="17.6" fill="#fff" stroke="#000" stroke-width="2.5" /><text class="ls" x="2022" y="1565.8" font-size="28" font-weight="bold" text-anchor="middle">1</text>
<line x1="2712.8" y1="1603.3" x2="2797.7" y2="1603.3" stroke="#222" stroke-width="1.5" /><polyline points="2778.7,1591.9 2797.7,1603.3 2778.7,1614.7" fill="none" stroke="#222" stroke-width="1.5"/><circle cx="2079.7" cy="1603.3" r="17" fill="#fff" stroke="#2a2a2a" stroke-width="1.3" /><text class="ls" x="2079.7" y="1614.3" font-size="31" text-anchor="middle" fill="#111">1</text><circle cx="2118.1" cy="1603.3" r="17" fill="#fff" stroke="#2a2a2a" stroke-width="1.3" /><text class="ls" x="2118.1" y="1614.3" font-size="31" text-anchor="middle" fill="#111">3</text><circle cx="2156.5" cy="1603.3" r="17" fill="#fff" stroke="#2a2a2a" stroke-width="1.3" /><text class="ls" x="2156.5" y="1614.3" font-size="31" text-anchor="middle" fill="#111">5</text><circle cx="2195" cy="1603.3" r="17" fill="#fff" stroke="#2a2a2a" stroke-width="1.3" /><text class="ls" x="2195" y="1614.3" font-size="31" text-anchor="middle" fill="#111">2</text><circle cx="2233.4" cy="1603.3" r="17" fill="#fff" stroke="#2a2a2a" stroke-width="1.3" /><text class="ls" x="2233.4" y="1614.3" font-size="31" text-anchor="middle" fill="#111">4</text><circle cx="2271.8" cy="1603.3" r="17" fill="#fff" stroke="#2a2a2a" stroke-width="1.3" /><text class="ls" x="2271.8" y="1614.3" font-size="31" text-anchor="middle" fill="#111">3</text><circle cx="2310.2" cy="1603.3" r="17" fill="#fff" stroke="#2a2a2a" stroke-width="1.3" /><text class="ls" x="2310.2" y="1614.3" font-size="31" text-anchor="middle" fill="#111">1</text><circle cx="2348.6" cy="1603.3" r="17" fill="#fff" stroke="#2a2a2a" stroke-width="1.3" /><text class="ls" x="2348.6" y="1614.3" font-size="31" text-anchor="middle" fill="#111">3</text><circle cx="2387.1" cy="1603.3" r="17" fill="#fff" stroke="#2a2a2a" stroke-width="1.3" /><text class="ls" x="2387.1" y="1614.3" font-size="31" text-anchor="middle" fill="#111">4</text><circle cx="2425.5" cy="1603.3" r="17" fill="#fff" stroke="#2a2a2a" stroke-width="1.3" /><text class="ls" x="2425.5" y="1614.3" font-size="31" text-anchor="middle" fill="#111">2</text><circle cx="2463.9" cy="1603.3" r="17" fill="#fff" stroke="#2a2a2a" stroke-width="1.3" /><text class="ls" x="2463.9" y="1614.3" font-size="31" text-anchor="middle" fill="#111">4</text><circle cx="2502.3" cy="1603.3" r="17" fill="#fff" stroke="#2a2a2a" stroke-width="1.3" /><text class="ls" x="2502.3" y="1614.3" font-size="31" text-anchor="middle" fill="#111">3</text><circle cx="2540.7" cy="1603.3" r="17" fill="#fff" stroke="#2a2a2a" stroke-width="1.3" /><text class="ls" x="2540.7" y="1614.3" font-size="31" text-anchor="middle" fill="#111">2</text><circle cx="2579.2" cy="1603.3" r="17" fill="#fff" stroke="#2a2a2a" stroke-width="1.3" /><text class="ls" x="2579.2" y="1614.3" font-size="31" text-anchor="middle" fill="#111">1</text><circle cx="2617.6" cy="1603.3" r="17" fill="#fff" stroke="#2a2a2a" stroke-width="1.3" /><text class="ls" x="2617.6" y="1614.3" font-size="31" text-anchor="middle" fill="#111">3</text><circle cx="2656" cy="1603.3" r="17" fill="#fff" stroke="#2a2a2a" stroke-width="1.3" /><text class="ls" x="2656" y="1614.3" font-size="31" text-anchor="middle" fill="#111">1</text><circle cx="2694.4" cy="1603.3" r="17" fill="#fff" stroke="#2a2a2a" stroke-width="1.3" /><text class="ls" x="2694.4" y="1614.3" font-size="31" text-anchor="middle" fill="#111">4</text>
<text class="ls" x="2204.8" y="1700.1" font-size="42" textLength="438.9" lengthAdjust="spacingAndGlyphs">Task control Sequence</text>
<rect x="2060.5" y="1719.1" width="750.8" height="179.9" fill="#000" /><rect x="2132" y="1719.1" width="35.8" height="36" fill="#fff" /><rect x="2203.5" y="1755.1" width="35.8" height="36" fill="#fff" /><rect x="2346.5" y="1755.1" width="35.8" height="36" fill="#fff" /><rect x="2418" y="1755.1" width="35.8" height="36" fill="#fff" /><rect x="2632.5" y="1755.1" width="143" height="36" fill="#fff" /><rect x="2096.3" y="1791.1" width="35.8" height="36" fill="#fff" /><rect x="2239.3" y="1791.1" width="35.8" height="36" fill="#fff" /><rect x="2310.8" y="1791.1" width="35.8" height="36" fill="#fff" /><rect x="2453.8" y="1791.1" width="35.8" height="36" fill="#fff" /><rect x="2561" y="1791.1" width="35.8" height="36" fill="#fff" /><rect x="2167.8" y="1827" width="35.8" height="36" fill="#fff" /><rect x="2382.3" y="1827" width="35.8" height="36" fill="#fff" /><rect x="2489.5" y="1827" width="35.8" height="36" fill="#fff" /><rect x="2060.5" y="1863" width="35.8" height="36" fill="#fff" /><rect x="2275" y="1863" width="35.8" height="36" fill="#fff" /><rect x="2525.3" y="1863" width="35.8" height="36" fill="#fff" /><rect x="2596.8" y="1863" width="35.8" height="36" fill="#fff" /><rect x="2060.5" y="1719.1" width="750.8" height="179.9" fill="none" stroke="#1a1a1a" stroke-width="2" /><line x1="2078.4" y1="1899" x2="2078.4" y2="1907" stroke="#222" stroke-width="1.6" /><line x1="2114.1" y1="1899" x2="2114.1" y2="1907" stroke="#222" stroke-width="1.6" /><line x1="2149.9" y1="1899" x2="2149.9" y2="1907" stroke="#222" stroke-width="1.6" /><line x1="2185.6" y1="1899" x2="2185.6" y2="1907" stroke="#222" stroke-width="1.6" /><line x1="2221.4" y1="1899" x2="2221.4" y2="1907" stroke="#222" stroke-width="1.6" /><line x1="2257.1" y1="1899" x2="2257.1" y2="1907" stroke="#222" stroke-width="1.6" /><line x1="2292.9" y1="1899" x2="2292.9" y2="1907" stroke="#222" stroke-width="1.6" /><line x1="2328.6" y1="1899" x2="2328.6" y2="1907" stroke="#222" stroke-width="1.6" /><line x1="2364.4" y1="1899" x2="2364.4" y2="1907" stroke="#222" stroke-width="1.6" /><line x1="2400.1" y1="1899" x2="2400.1" y2="1907" stroke="#222" stroke-width="1.6" /><line x1="2435.9" y1="1899" x2="2435.9" y2="1907" stroke="#222" stroke-width="1.6" /><line x1="2471.7" y1="1899" x2="2471.7" y2="1907" stroke="#222" stroke-width="1.6" /><line x1="2507.4" y1="1899" x2="2507.4" y2="1907" stroke="#222" stroke-width="1.6" /><line x1="2543.2" y1="1899" x2="2543.2" y2="1907" stroke="#222" stroke-width="1.6" /><line x1="2578.9" y1="1899" x2="2578.9" y2="1907" stroke="#222" stroke-width="1.6" /><line x1="2614.7" y1="1899" x2="2614.7" y2="1907" stroke="#222" stroke-width="1.6" /><line x1="2650.4" y1="1899" x2="2650.4" y2="1907" stroke="#222" stroke-width="1.6" /><line x1="2686.2" y1="1899" x2="2686.2" y2="1907" stroke="#222" stroke-width="1.6" /><line x1="2721.9" y1="1899" x2="2721.9" y2="1907" stroke="#222" stroke-width="1.6" /><line x1="2757.7" y1="1899" x2="2757.7" y2="1907" stroke="#222" stroke-width="1.6" /><line x1="2793.4" y1="1899" x2="2793.4" y2="1907" stroke="#222" stroke-width="1.6" /><line x1="2051.5" y1="1737.1" x2="2060.5" y2="1737.1" stroke="#222" stroke-width="1.6" /><line x1="2051.5" y1="1773.1" x2="2060.5" y2="1773.1" stroke="#222" stroke-width="1.6" /><line x1="2051.5" y1="1809" x2="2060.5" y2="1809" stroke="#222" stroke-width="1.6" /><line x1="2051.5" y1="1845" x2="2060.5" y2="1845" stroke="#222" stroke-width="1.6" /><line x1="2051.5" y1="1881" x2="2060.5" y2="1881" stroke="#222" stroke-width="1.6" />
<rect x="2822.3" y="1719.1" width="16.3" height="179.9" fill="url(#ggray)" stroke="#1a1a1a" stroke-width="1.6" /><line x1="2838.6" y1="1899" x2="2846.6" y2="1899" stroke="#222" stroke-width="1.6" /><text class="dv" x="2855.4" y="1909.2" font-size="28">0.0</text><line x1="2838.6" y1="1863" x2="2846.6" y2="1863" stroke="#222" stroke-width="1.6" /><text class="dv" x="2855.4" y="1873.2" font-size="28">0.2</text><line x1="2838.6" y1="1827" x2="2846.6" y2="1827" stroke="#222" stroke-width="1.6" /><text class="dv" x="2855.4" y="1837.2" font-size="28">0.4</text><line x1="2838.6" y1="1791.1" x2="2846.6" y2="1791.1" stroke="#222" stroke-width="1.6" /><text class="dv" x="2855.4" y="1801.3" font-size="28">0.6</text><line x1="2838.6" y1="1755.1" x2="2846.6" y2="1755.1" stroke="#222" stroke-width="1.6" /><text class="dv" x="2855.4" y="1765.3" font-size="28">0.8</text><line x1="2838.6" y1="1719.1" x2="2846.6" y2="1719.1" stroke="#222" stroke-width="1.6" /><text class="dv" x="2855.4" y="1729.3" font-size="28">1.0</text>
<circle cx="2022" cy="1727.9" r="17.6" fill="#fff" stroke="#000" stroke-width="2.5" /><text class="ls" x="2022" y="1738" font-size="28" font-weight="bold" text-anchor="middle">5</text><circle cx="2022" cy="1765.2" r="17.6" fill="#fff" stroke="#000" stroke-width="2.5" /><text class="ls" x="2022" y="1775.3" font-size="28" font-weight="bold" text-anchor="middle">4</text><circle cx="2022" cy="1803.2" r="17.6" fill="#fff" stroke="#000" stroke-width="2.5" /><text class="ls" x="2022" y="1813.3" font-size="28" font-weight="bold" text-anchor="middle">3</text><circle cx="2022" cy="1842.8" r="17.6" fill="#fff" stroke="#000" stroke-width="2.5" /><text class="ls" x="2022" y="1852.9" font-size="28" font-weight="bold" text-anchor="middle">2</text><circle cx="2022" cy="1879.6" r="17.6" fill="#fff" stroke="#000" stroke-width="2.5" /><text class="ls" x="2022" y="1889.7" font-size="28" font-weight="bold" text-anchor="middle">1</text>
<line x1="2712.8" y1="1928.8" x2="2797.7" y2="1928.8" stroke="#222" stroke-width="1.5" /><polyline points="2778.7,1917.4 2797.7,1928.8 2778.7,1940.2" fill="none" stroke="#222" stroke-width="1.5"/><circle cx="2079.7" cy="1928.8" r="17" fill="#fff" stroke="#2a2a2a" stroke-width="1.3" /><text class="ls" x="2079.7" y="1939.8" font-size="31" text-anchor="middle" fill="#111">1</text><circle cx="2118.1" cy="1928.8" r="17" fill="#fff" stroke="#2a2a2a" stroke-width="1.3" /><text class="ls" x="2118.1" y="1939.8" font-size="31" text-anchor="middle" fill="#111">3</text><circle cx="2156.5" cy="1928.8" r="17" fill="#fff" stroke="#2a2a2a" stroke-width="1.3" /><text class="ls" x="2156.5" y="1939.8" font-size="31" text-anchor="middle" fill="#111">5</text><circle cx="2195" cy="1928.8" r="17" fill="#fff" stroke="#2a2a2a" stroke-width="1.3" /><text class="ls" x="2195" y="1939.8" font-size="31" text-anchor="middle" fill="#111">2</text><circle cx="2233.4" cy="1928.8" r="17" fill="#fff" stroke="#2a2a2a" stroke-width="1.3" /><text class="ls" x="2233.4" y="1939.8" font-size="31" text-anchor="middle" fill="#111">4</text><circle cx="2271.8" cy="1928.8" r="17" fill="#fff" stroke="#2a2a2a" stroke-width="1.3" /><text class="ls" x="2271.8" y="1939.8" font-size="31" text-anchor="middle" fill="#111">3</text><circle cx="2310.2" cy="1928.8" r="17" fill="#fff" stroke="#2a2a2a" stroke-width="1.3" /><text class="ls" x="2310.2" y="1939.8" font-size="31" text-anchor="middle" fill="#111">1</text><circle cx="2348.6" cy="1928.8" r="17" fill="#fff" stroke="#2a2a2a" stroke-width="1.3" /><text class="ls" x="2348.6" y="1939.8" font-size="31" text-anchor="middle" fill="#111">3</text><circle cx="2387.1" cy="1928.8" r="17" fill="#fff" stroke="#2a2a2a" stroke-width="1.3" /><text class="ls" x="2387.1" y="1939.8" font-size="31" text-anchor="middle" fill="#111">4</text><circle cx="2425.5" cy="1928.8" r="17" fill="#fff" stroke="#2a2a2a" stroke-width="1.3" /><text class="ls" x="2425.5" y="1939.8" font-size="31" text-anchor="middle" fill="#111">2</text><circle cx="2463.9" cy="1928.8" r="17" fill="#fff" stroke="#2a2a2a" stroke-width="1.3" /><text class="ls" x="2463.9" y="1939.8" font-size="31" text-anchor="middle" fill="#111">4</text><circle cx="2502.3" cy="1928.8" r="17" fill="#fff" stroke="#2a2a2a" stroke-width="1.3" /><text class="ls" x="2502.3" y="1939.8" font-size="31" text-anchor="middle" fill="#111">3</text><circle cx="2540.7" cy="1928.8" r="17" fill="#fff" stroke="#2a2a2a" stroke-width="1.3" /><text class="ls" x="2540.7" y="1939.8" font-size="31" text-anchor="middle" fill="#111">2</text><circle cx="2579.2" cy="1928.8" r="17" fill="#fff" stroke="#2a2a2a" stroke-width="1.3" /><text class="ls" x="2579.2" y="1939.8" font-size="31" text-anchor="middle" fill="#111">1</text><circle cx="2617.6" cy="1928.8" r="17" fill="#fff" stroke="#2a2a2a" stroke-width="1.3" /><text class="ls" x="2617.6" y="1939.8" font-size="31" text-anchor="middle" fill="#111">3</text><circle cx="2656" cy="1928.8" r="17" fill="#fff" stroke="#2a2a2a" stroke-width="1.3" /><text class="ls" x="2656" y="1939.8" font-size="31" text-anchor="middle" fill="#111">1</text><circle cx="2694.4" cy="1928.8" r="17" fill="#fff" stroke="#2a2a2a" stroke-width="1.3" /><text class="ls" x="2694.4" y="1939.8" font-size="31" text-anchor="middle" fill="#111">4</text>
<text class="ls" x="322.8" y="2050" font-size="60.5" font-weight="bold">G</text>
<circle cx="933.4" cy="2214.5" r="7.9" fill="#1f77b4" stroke="#1f77b4" stroke-width="1.5" fill-opacity="0.13" stroke-opacity="0.117"/><circle cx="953.3" cy="2214.9" r="7.9" fill="#1f77b4" stroke="#1f77b4" stroke-width="1.5" fill-opacity="0.13" stroke-opacity="0.117"/><circle cx="944.3" cy="2225.4" r="7.9" fill="#1f77b4" stroke="#1f77b4" stroke-width="1.5" fill-opacity="0.13" stroke-opacity="0.117"/><circle cx="908" cy="2234.5" r="7.9" fill="#1f77b4" stroke="#1f77b4" stroke-width="1.5" fill-opacity="0.13" stroke-opacity="0.117"/><circle cx="922.9" cy="2232.6" r="7.9" fill="#1f77b4" stroke="#1f77b4" stroke-width="1.5" fill-opacity="0.13" stroke-opacity="0.117"/>
<circle cx="1022.2" cy="2136.6" r="7.9" fill="#1f77b4" stroke="#1f77b4" stroke-width="1.5" fill-opacity="0.3" stroke-opacity="0.27"/><circle cx="1010.9" cy="2144.2" r="7.9" fill="#1f77b4" stroke="#1f77b4" stroke-width="1.5" fill-opacity="0.3" stroke-opacity="0.27"/><circle cx="998.2" cy="2150.9" r="7.9" fill="#1f77b4" stroke="#1f77b4" stroke-width="1.5" fill-opacity="0.3" stroke-opacity="0.27"/><circle cx="987.7" cy="2164.2" r="7.9" fill="#1f77b4" stroke="#1f77b4" stroke-width="1.5" fill-opacity="0.3" stroke-opacity="0.27"/><circle cx="1000.4" cy="2167.2" r="7.9" fill="#1f77b4" stroke="#1f77b4" stroke-width="1.5" fill-opacity="0.3" stroke-opacity="0.27"/><circle cx="1008.2" cy="2180.1" r="7.9" fill="#1f77b4" stroke="#1f77b4" stroke-width="1.5" fill-opacity="0.3" stroke-opacity="0.27"/><circle cx="949.7" cy="2198.2" r="7.9" fill="#1f77b4" stroke="#1f77b4" stroke-width="1.5" fill-opacity="0.3" stroke-opacity="0.27"/>
<circle cx="1054.8" cy="2107.1" r="7.9" fill="#1f77b4" stroke="#1f77b4" stroke-width="1.5" fill-opacity="0.45" stroke-opacity="0.405"/><circle cx="1075.6" cy="2111.6" r="7.9" fill="#1f77b4" stroke="#1f77b4" stroke-width="1.5" fill-opacity="0.45" stroke-opacity="0.405"/><circle cx="1065.7" cy="2120.7" r="7.9" fill="#1f77b4" stroke="#1f77b4" stroke-width="1.5" fill-opacity="0.45" stroke-opacity="0.405"/><circle cx="1045.7" cy="2121.6" r="7.9" fill="#1f77b4" stroke="#1f77b4" stroke-width="1.5" fill-opacity="0.45" stroke-opacity="0.405"/><circle cx="1059.3" cy="2132.4" r="7.9" fill="#1f77b4" stroke="#1f77b4" stroke-width="1.5" fill-opacity="0.45" stroke-opacity="0.405"/><circle cx="1043.9" cy="2134.3" r="7.9" fill="#1f77b4" stroke="#1f77b4" stroke-width="1.5" fill-opacity="0.45" stroke-opacity="0.405"/><circle cx="1060.2" cy="2143.3" r="7.9" fill="#1f77b4" stroke="#1f77b4" stroke-width="1.5" fill-opacity="0.45" stroke-opacity="0.405"/><circle cx="1073.8" cy="2142.4" r="7.9" fill="#1f77b4" stroke="#1f77b4" stroke-width="1.5" fill-opacity="0.45" stroke-opacity="0.405"/><circle cx="1048.1" cy="2147.8" r="7.9" fill="#1f77b4" stroke="#1f77b4" stroke-width="1.5" fill-opacity="0.45" stroke-opacity="0.405"/>
<circle cx="1080.1" cy="2102.5" r="7.9" fill="#1f77b4" stroke="#1f77b4" stroke-width="1.5" fill-opacity="0.6" stroke-opacity="0.54"/><circle cx="1072.9" cy="2097.1" r="7.9" fill="#1f77b4" stroke="#1f77b4" stroke-width="1.5" fill-opacity="0.6" stroke-opacity="0.54"/><circle cx="1062.9" cy="2096.2" r="7.9" fill="#1f77b4" stroke="#1f77b4" stroke-width="1.5" fill-opacity="0.6" stroke-opacity="0.54"/><circle cx="1084.7" cy="2127.9" r="7.9" fill="#1f77b4" stroke="#1f77b4" stroke-width="1.5" fill-opacity="0.6" stroke-opacity="0.54"/><circle cx="1080.1" cy="2132.4" r="7.9" fill="#1f77b4" stroke="#1f77b4" stroke-width="1.5" fill-opacity="0.6" stroke-opacity="0.54"/><circle cx="1036.7" cy="2141.5" r="7.9" fill="#1f77b4" stroke="#1f77b4" stroke-width="1.5" fill-opacity="0.6" stroke-opacity="0.54"/><circle cx="1027.6" cy="2160.2" r="7.9" fill="#1f77b4" stroke="#1f77b4" stroke-width="1.5" fill-opacity="0.6" stroke-opacity="0.54"/><circle cx="1014.9" cy="2165.4" r="7.9" fill="#1f77b4" stroke="#1f77b4" stroke-width="1.5" fill-opacity="0.6" stroke-opacity="0.54"/><circle cx="978.7" cy="2180.1" r="7.9" fill="#1f77b4" stroke="#1f77b4" stroke-width="1.5" fill-opacity="0.6" stroke-opacity="0.54"/><circle cx="993.5" cy="2183.7" r="7.9" fill="#1f77b4" stroke="#1f77b4" stroke-width="1.5" fill-opacity="0.6" stroke-opacity="0.54"/><circle cx="966" cy="2196.4" r="7.9" fill="#1f77b4" stroke="#1f77b4" stroke-width="1.5" fill-opacity="0.6" stroke-opacity="0.54"/>
<circle cx="1093.7" cy="2079" r="7.9" fill="#1f77b4" stroke="#1f77b4" stroke-width="1.5" fill-opacity="0.9" stroke-opacity="0.81"/><circle cx="1099.2" cy="2077.2" r="7.9" fill="#1f77b4" stroke="#1f77b4" stroke-width="1.5" fill-opacity="0.9" stroke-opacity="0.81"/><circle cx="1104.6" cy="2080.8" r="7.9" fill="#1f77b4" stroke="#1f77b4" stroke-width="1.5" fill-opacity="0.9" stroke-opacity="0.81"/><circle cx="1109.1" cy="2085.3" r="7.9" fill="#1f77b4" stroke="#1f77b4" stroke-width="1.5" fill-opacity="0.9" stroke-opacity="0.81"/><circle cx="1111" cy="2091.7" r="7.9" fill="#1f77b4" stroke="#1f77b4" stroke-width="1.5" fill-opacity="0.9" stroke-opacity="0.81"/><circle cx="1108.2" cy="2098" r="7.9" fill="#1f77b4" stroke="#1f77b4" stroke-width="1.5" fill-opacity="0.9" stroke-opacity="0.81"/><circle cx="1102.8" cy="2095.3" r="7.9" fill="#1f77b4" stroke="#1f77b4" stroke-width="1.5" fill-opacity="0.9" stroke-opacity="0.81"/><circle cx="1097.4" cy="2090.8" r="7.9" fill="#1f77b4" stroke="#1f77b4" stroke-width="1.5" fill-opacity="0.9" stroke-opacity="0.81"/><circle cx="1091.9" cy="2084.4" r="7.9" fill="#1f77b4" stroke="#1f77b4" stroke-width="1.5" fill-opacity="0.9" stroke-opacity="0.81"/><circle cx="1088.3" cy="2089.9" r="7.9" fill="#1f77b4" stroke="#1f77b4" stroke-width="1.5" fill-opacity="0.9" stroke-opacity="0.81"/><circle cx="1083.8" cy="2086.2" r="7.9" fill="#1f77b4" stroke="#1f77b4" stroke-width="1.5" fill-opacity="0.9" stroke-opacity="0.81"/><circle cx="1095.5" cy="2098.9" r="7.9" fill="#1f77b4" stroke="#1f77b4" stroke-width="1.5" fill-opacity="0.9" stroke-opacity="0.81"/><circle cx="1110" cy="2114.3" r="7.9" fill="#1f77b4" stroke="#1f77b4" stroke-width="1.5" fill-opacity="0.9" stroke-opacity="0.81"/><circle cx="1103.7" cy="2117" r="7.9" fill="#1f77b4" stroke="#1f77b4" stroke-width="1.5" fill-opacity="0.9" stroke-opacity="0.81"/><circle cx="1098.3" cy="2113.4" r="7.9" fill="#1f77b4" stroke="#1f77b4" stroke-width="1.5" fill-opacity="0.9" stroke-opacity="0.81"/><circle cx="1093.7" cy="2109.8" r="7.9" fill="#1f77b4" stroke="#1f77b4" stroke-width="1.5" fill-opacity="0.9" stroke-opacity="0.81"/>
<circle cx="1142.1" cy="2100.2" r="7.9" fill="#d62728" stroke="#d62728" stroke-width="1.5" fill-opacity="0.9" stroke-opacity="0.81"/><circle cx="1142.1" cy="2100.2" r="7.9" fill="#d62728" stroke="#d62728" stroke-width="1.5" fill-opacity="0.9" stroke-opacity="0.81"/>
<circle cx="863.4" cy="2240.5" r="7.6" fill="#d62728" stroke="#d62728" stroke-width="1.6" fill-opacity="0.14" stroke-opacity="0.12600000000000003"/><circle cx="876.4" cy="2246.1" r="7.6" fill="#d62728" stroke="#d62728" stroke-width="1.6" fill-opacity="0.14" stroke-opacity="0.12600000000000003"/><circle cx="857.8" cy="2262" r="7.6" fill="#d62728" stroke="#d62728" stroke-width="1.6" fill-opacity="0.14" stroke-opacity="0.12600000000000003"/><circle cx="868" cy="2263.1" r="7.6" fill="#d62728" stroke="#d62728" stroke-width="1.6" fill-opacity="0.14" stroke-opacity="0.12600000000000003"/><circle cx="854.9" cy="2268.8" r="7.6" fill="#d62728" stroke="#d62728" stroke-width="1.6" fill-opacity="0.14" stroke-opacity="0.12600000000000003"/><circle cx="874.7" cy="2257.5" r="7.6" fill="#d62728" stroke="#d62728" stroke-width="1.6" fill-opacity="0.14" stroke-opacity="0.12600000000000003"/>
<circle cx="849.3" cy="2250.1" r="7.6" fill="#d62728" stroke="#d62728" stroke-width="1.6" fill-opacity="0.3" stroke-opacity="0.27"/>
<circle cx="886.1" cy="2261.4" r="7.6" fill="#2ca02c" stroke="#2ca02c" stroke-width="1.6" fill-opacity="0.15" stroke-opacity="0.135"/><circle cx="878.7" cy="2273.3" r="7.6" fill="#2ca02c" stroke="#2ca02c" stroke-width="1.6" fill-opacity="0.15" stroke-opacity="0.135"/><circle cx="871.9" cy="2279" r="7.6" fill="#2ca02c" stroke="#2ca02c" stroke-width="1.6" fill-opacity="0.15" stroke-opacity="0.135"/>
<circle cx="863.4" cy="2284.6" r="7.6" fill="#2ca02c" stroke="#2ca02c" stroke-width="1.6" fill-opacity="0.35" stroke-opacity="0.315"/><circle cx="857.8" cy="2288.6" r="7.6" fill="#2ca02c" stroke="#2ca02c" stroke-width="1.6" fill-opacity="0.35" stroke-opacity="0.315"/><circle cx="851" cy="2292.6" r="7.6" fill="#2ca02c" stroke="#2ca02c" stroke-width="1.6" fill-opacity="0.35" stroke-opacity="0.315"/>
<circle cx="804" cy="2281.2" r="7.6" fill="#2ca02c" stroke="#2ca02c" stroke-width="1.6" fill-opacity="0.55" stroke-opacity="0.49500000000000005"/><circle cx="816.4" cy="2284.1" r="7.6" fill="#2ca02c" stroke="#2ca02c" stroke-width="1.6" fill-opacity="0.55" stroke-opacity="0.49500000000000005"/><circle cx="829.4" cy="2288.6" r="7.6" fill="#2ca02c" stroke="#2ca02c" stroke-width="1.6" fill-opacity="0.55" stroke-opacity="0.49500000000000005"/><circle cx="836.8" cy="2282.9" r="7.6" fill="#2ca02c" stroke="#2ca02c" stroke-width="1.6" fill-opacity="0.55" stroke-opacity="0.49500000000000005"/><circle cx="832.3" cy="2289.7" r="7.6" fill="#2ca02c" stroke="#2ca02c" stroke-width="1.6" fill-opacity="0.55" stroke-opacity="0.49500000000000005"/>
<circle cx="778.5" cy="2275.6" r="7.6" fill="#2ca02c" stroke="#2ca02c" stroke-width="1.6" fill-opacity="0.85" stroke-opacity="0.765"/><circle cx="781.3" cy="2276.7" r="7.6" fill="#2ca02c" stroke="#2ca02c" stroke-width="1.6" fill-opacity="0.85" stroke-opacity="0.765"/><circle cx="784.1" cy="2275.6" r="7.6" fill="#2ca02c" stroke="#2ca02c" stroke-width="1.6" fill-opacity="0.85" stroke-opacity="0.765"/><circle cx="787" cy="2277.3" r="7.6" fill="#2ca02c" stroke="#2ca02c" stroke-width="1.6" fill-opacity="0.85" stroke-opacity="0.765"/><circle cx="790.4" cy="2277.8" r="7.6" fill="#2ca02c" stroke="#2ca02c" stroke-width="1.6" fill-opacity="0.85" stroke-opacity="0.765"/><circle cx="793.8" cy="2278.4" r="7.6" fill="#2ca02c" stroke="#2ca02c" stroke-width="1.6" fill-opacity="0.85" stroke-opacity="0.765"/><circle cx="798.3" cy="2279" r="7.6" fill="#2ca02c" stroke="#2ca02c" stroke-width="1.6" fill-opacity="0.85" stroke-opacity="0.765"/>
<circle cx="648.4" cy="2485.1" r="7.9" fill="#d62728" stroke="#d62728" stroke-width="1.5" fill-opacity="0.32" stroke-opacity="0.28800000000000003"/><circle cx="657.4" cy="2483.3" r="7.9" fill="#d62728" stroke="#d62728" stroke-width="1.5" fill-opacity="0.32" stroke-opacity="0.28800000000000003"/><circle cx="672.8" cy="2483.3" r="7.9" fill="#d62728" stroke="#d62728" stroke-width="1.5" fill-opacity="0.32" stroke-opacity="0.28800000000000003"/><circle cx="675.5" cy="2437.1" r="7.9" fill="#d62728" stroke="#d62728" stroke-width="1.5" fill-opacity="0.32" stroke-opacity="0.28800000000000003"/><circle cx="688.2" cy="2438" r="7.9" fill="#d62728" stroke="#d62728" stroke-width="1.5" fill-opacity="0.32" stroke-opacity="0.28800000000000003"/><circle cx="710" cy="2438.9" r="7.9" fill="#d62728" stroke="#d62728" stroke-width="1.5" fill-opacity="0.32" stroke-opacity="0.28800000000000003"/>
<circle cx="717.2" cy="2419" r="7.9" fill="#2ca02c" stroke="#2ca02c" stroke-width="1.5" fill-opacity="0.14" stroke-opacity="0.12600000000000003"/><circle cx="722.7" cy="2415.3" r="7.9" fill="#2ca02c" stroke="#2ca02c" stroke-width="1.5" fill-opacity="0.14" stroke-opacity="0.12600000000000003"/><circle cx="728.1" cy="2412.6" r="7.9" fill="#2ca02c" stroke="#2ca02c" stroke-width="1.5" fill-opacity="0.14" stroke-opacity="0.12600000000000003"/><circle cx="733.5" cy="2409.9" r="7.9" fill="#2ca02c" stroke="#2ca02c" stroke-width="1.5" fill-opacity="0.14" stroke-opacity="0.12600000000000003"/>
<circle cx="652.4" cy="2446.7" r="7.9" fill="#2ca02c" stroke="#2ca02c" stroke-width="1.5" fill-opacity="0.36" stroke-opacity="0.324"/><circle cx="655.6" cy="2465.2" r="7.9" fill="#2ca02c" stroke="#2ca02c" stroke-width="1.5" fill-opacity="0.36" stroke-opacity="0.324"/><circle cx="666.5" cy="2463.3" r="7.9" fill="#2ca02c" stroke="#2ca02c" stroke-width="1.5" fill-opacity="0.36" stroke-opacity="0.324"/><circle cx="675.5" cy="2448.9" r="7.9" fill="#2ca02c" stroke="#2ca02c" stroke-width="1.5" fill-opacity="0.36" stroke-opacity="0.324"/><circle cx="678.3" cy="2457" r="7.9" fill="#2ca02c" stroke="#2ca02c" stroke-width="1.5" fill-opacity="0.36" stroke-opacity="0.324"/><circle cx="688.2" cy="2457.9" r="7.9" fill="#2ca02c" stroke="#2ca02c" stroke-width="1.5" fill-opacity="0.36" stroke-opacity="0.324"/><circle cx="698.2" cy="2439.8" r="7.9" fill="#2ca02c" stroke="#2ca02c" stroke-width="1.5" fill-opacity="0.36" stroke-opacity="0.324"/><circle cx="704.5" cy="2434.4" r="7.9" fill="#2ca02c" stroke="#2ca02c" stroke-width="1.5" fill-opacity="0.36" stroke-opacity="0.324"/>
<circle cx="554.2" cy="2524" r="7.9" fill="#d62728" stroke="#d62728" stroke-width="1.5" fill-opacity="0.45" stroke-opacity="0.405"/><circle cx="599.4" cy="2515.9" r="7.9" fill="#d62728" stroke="#d62728" stroke-width="1.5" fill-opacity="0.45" stroke-opacity="0.405"/><circle cx="527" cy="2527.7" r="7.9" fill="#d62728" stroke="#d62728" stroke-width="1.5" fill-opacity="0.45" stroke-opacity="0.405"/><circle cx="517" cy="2567.5" r="7.9" fill="#d62728" stroke="#d62728" stroke-width="1.5" fill-opacity="0.45" stroke-opacity="0.405"/><circle cx="610.3" cy="2490.5" r="7.9" fill="#d62728" stroke="#d62728" stroke-width="1.5" fill-opacity="0.45" stroke-opacity="0.405"/><circle cx="705.4" cy="2459.7" r="7.9" fill="#d62728" stroke="#d62728" stroke-width="1.5" fill-opacity="0.45" stroke-opacity="0.405"/><circle cx="714.5" cy="2449.8" r="7.9" fill="#d62728" stroke="#d62728" stroke-width="1.5" fill-opacity="0.45" stroke-opacity="0.405"/>
<circle cx="565" cy="2512.3" r="7.9" fill="#d62728" stroke="#d62728" stroke-width="1.5" fill-opacity="0.62" stroke-opacity="0.558"/><circle cx="570.5" cy="2510.5" r="7.9" fill="#d62728" stroke="#d62728" stroke-width="1.5" fill-opacity="0.62" stroke-opacity="0.558"/><circle cx="572.3" cy="2515.9" r="7.9" fill="#d62728" stroke="#d62728" stroke-width="1.5" fill-opacity="0.62" stroke-opacity="0.558"/><circle cx="626.6" cy="2514.1" r="7.9" fill="#d62728" stroke="#d62728" stroke-width="1.5" fill-opacity="0.62" stroke-opacity="0.558"/><circle cx="624.8" cy="2518.6" r="7.9" fill="#d62728" stroke="#d62728" stroke-width="1.5" fill-opacity="0.62" stroke-opacity="0.558"/><circle cx="638.4" cy="2505" r="7.9" fill="#d62728" stroke="#d62728" stroke-width="1.5" fill-opacity="0.62" stroke-opacity="0.558"/><circle cx="662.9" cy="2506.8" r="7.9" fill="#d62728" stroke="#d62728" stroke-width="1.5" fill-opacity="0.62" stroke-opacity="0.558"/><circle cx="675.5" cy="2499.6" r="7.9" fill="#d62728" stroke="#d62728" stroke-width="1.5" fill-opacity="0.62" stroke-opacity="0.558"/><circle cx="698.2" cy="2485.1" r="7.9" fill="#d62728" stroke="#d62728" stroke-width="1.5" fill-opacity="0.62" stroke-opacity="0.558"/><circle cx="700" cy="2474.2" r="7.9" fill="#d62728" stroke="#d62728" stroke-width="1.5" fill-opacity="0.62" stroke-opacity="0.558"/>
<circle cx="575" cy="2489.6" r="7.9" fill="#2ca02c" stroke="#2ca02c" stroke-width="1.5" fill-opacity="0.55" stroke-opacity="0.49500000000000005"/><circle cx="579.5" cy="2486.9" r="7.9" fill="#2ca02c" stroke="#2ca02c" stroke-width="1.5" fill-opacity="0.55" stroke-opacity="0.49500000000000005"/><circle cx="584" cy="2486" r="7.9" fill="#2ca02c" stroke="#2ca02c" stroke-width="1.5" fill-opacity="0.55" stroke-opacity="0.49500000000000005"/><circle cx="588.6" cy="2488.7" r="7.9" fill="#2ca02c" stroke="#2ca02c" stroke-width="1.5" fill-opacity="0.55" stroke-opacity="0.49500000000000005"/><circle cx="594" cy="2486.9" r="7.9" fill="#2ca02c" stroke="#2ca02c" stroke-width="1.5" fill-opacity="0.55" stroke-opacity="0.49500000000000005"/><circle cx="600.4" cy="2483.3" r="7.9" fill="#2ca02c" stroke="#2ca02c" stroke-width="1.5" fill-opacity="0.55" stroke-opacity="0.49500000000000005"/><circle cx="614.9" cy="2474.2" r="7.9" fill="#2ca02c" stroke="#2ca02c" stroke-width="1.5" fill-opacity="0.55" stroke-opacity="0.49500000000000005"/><circle cx="616.7" cy="2481.5" r="7.9" fill="#2ca02c" stroke="#2ca02c" stroke-width="1.5" fill-opacity="0.55" stroke-opacity="0.49500000000000005"/>
<circle cx="517.9" cy="2523.1" r="7.9" fill="#2ca02c" stroke="#2ca02c" stroke-width="1.5" fill-opacity="0.62" stroke-opacity="0.558"/><circle cx="530.6" cy="2521.3" r="7.9" fill="#2ca02c" stroke="#2ca02c" stroke-width="1.5" fill-opacity="0.62" stroke-opacity="0.558"/><circle cx="541.5" cy="2516.8" r="7.9" fill="#2ca02c" stroke="#2ca02c" stroke-width="1.5" fill-opacity="0.62" stroke-opacity="0.558"/><circle cx="538.7" cy="2539.4" r="7.9" fill="#2ca02c" stroke="#2ca02c" stroke-width="1.5" fill-opacity="0.62" stroke-opacity="0.558"/><circle cx="521.5" cy="2555.8" r="7.9" fill="#2ca02c" stroke="#2ca02c" stroke-width="1.5" fill-opacity="0.62" stroke-opacity="0.558"/>
<circle cx="537.8" cy="2430.7" r="7.9" fill="#d62728" stroke="#d62728" stroke-width="1.5" fill-opacity="0.9" stroke-opacity="0.81"/><circle cx="537.8" cy="2430.7" r="7.9" fill="#d62728" stroke="#d62728" stroke-width="1.5" fill-opacity="0.9" stroke-opacity="0.81"/><circle cx="536" cy="2626.8" r="7.9" fill="#d62728" stroke="#d62728" stroke-width="1.5" fill-opacity="0.9" stroke-opacity="0.81"/><circle cx="536" cy="2626.8" r="7.9" fill="#d62728" stroke="#d62728" stroke-width="1.5" fill-opacity="0.9" stroke-opacity="0.81"/><circle cx="583.1" cy="2611" r="7.9" fill="#d62728" stroke="#d62728" stroke-width="1.5" fill-opacity="0.9" stroke-opacity="0.81"/><circle cx="586.8" cy="2614.6" r="7.9" fill="#d62728" stroke="#d62728" stroke-width="1.5" fill-opacity="0.9" stroke-opacity="0.81"/><circle cx="590.4" cy="2617.7" r="7.9" fill="#d62728" stroke="#d62728" stroke-width="1.5" fill-opacity="0.9" stroke-opacity="0.81"/><circle cx="513.4" cy="2542.2" r="7.9" fill="#d62728" stroke="#d62728" stroke-width="1.5" fill-opacity="0.9" stroke-opacity="0.81"/><circle cx="516.1" cy="2546.7" r="7.9" fill="#d62728" stroke="#d62728" stroke-width="1.5" fill-opacity="0.9" stroke-opacity="0.81"/><circle cx="508.9" cy="2564.8" r="7.9" fill="#d62728" stroke="#d62728" stroke-width="1.5" fill-opacity="0.9" stroke-opacity="0.81"/>
<circle cx="477.1" cy="2530.4" r="7.9" fill="#2ca02c" stroke="#2ca02c" stroke-width="1.5" fill-opacity="0.9" stroke-opacity="0.81"/><circle cx="477.1" cy="2530.4" r="7.9" fill="#2ca02c" stroke="#2ca02c" stroke-width="1.5" fill-opacity="0.9" stroke-opacity="0.81"/><circle cx="490.7" cy="2518.6" r="7.9" fill="#2ca02c" stroke="#2ca02c" stroke-width="1.5" fill-opacity="0.9" stroke-opacity="0.81"/><circle cx="494.4" cy="2519.9" r="7.9" fill="#2ca02c" stroke="#2ca02c" stroke-width="1.5" fill-opacity="0.9" stroke-opacity="0.81"/><circle cx="498" cy="2521" r="7.9" fill="#2ca02c" stroke="#2ca02c" stroke-width="1.5" fill-opacity="0.9" stroke-opacity="0.81"/><circle cx="501.6" cy="2522.2" r="7.9" fill="#2ca02c" stroke="#2ca02c" stroke-width="1.5" fill-opacity="0.9" stroke-opacity="0.81"/>
<rect x="442.2" y="2049.7" width="732.7" height="604.1" fill="none" stroke="#000" stroke-width="2.2" />
<line x1="599" y1="2653.8" x2="599" y2="2663.8" stroke="#000" stroke-width="2.2" />
<text class="dv" x="599" y="2697.8" font-size="31" text-anchor="middle">−10</text>
<line x1="789.8" y1="2653.8" x2="789.8" y2="2663.8" stroke="#000" stroke-width="2.2" />
<text class="dv" x="789.8" y="2697.8" font-size="31" text-anchor="middle">0</text>
<line x1="980.2" y1="2653.8" x2="980.2" y2="2663.8" stroke="#000" stroke-width="2.2" />
<text class="dv" x="980.2" y="2697.8" font-size="31" text-anchor="middle">10</text>
<line x1="1170.9" y1="2653.8" x2="1170.9" y2="2663.8" stroke="#000" stroke-width="2.2" />
<text class="dv" x="1170.9" y="2697.8" font-size="31" text-anchor="middle">20</text>
<line x1="432.2" y1="2082" x2="442.2" y2="2082" stroke="#000" stroke-width="2.2" />
<text class="dv" x="423.7" y="2093.5" font-size="31" text-anchor="end">10</text>
<line x1="432.2" y1="2209" x2="442.2" y2="2209" stroke="#000" stroke-width="2.2" />
<text class="dv" x="423.7" y="2220.5" font-size="31" text-anchor="end">5</text>
<line x1="432.2" y1="2335" x2="442.2" y2="2335" stroke="#000" stroke-width="2.2" />
<text class="dv" x="423.7" y="2346.5" font-size="31" text-anchor="end">0</text>
<line x1="432.2" y1="2461.6" x2="442.2" y2="2461.6" stroke="#000" stroke-width="2.2" />
<text class="dv" x="423.7" y="2473.1" font-size="31" text-anchor="end">−5</text>
<line x1="432.2" y1="2588" x2="442.2" y2="2588" stroke="#000" stroke-width="2.2" />
<text class="dv" x="423.7" y="2599.5" font-size="31" text-anchor="end">−10</text>
<rect x="458.7" y="2066.5" width="295" height="156.3" fill="#fff" stroke="#d0d0d0" stroke-width="2" rx="6" fill-opacity="0.85"/>
<circle cx="505.3" cy="2093.4" r="6.2" fill="#1f77b4" />
<text class="dv" x="564.5" y="2104.9" font-size="32.3">Bayesian+</text>
<circle cx="505.3" cy="2141.9" r="6.2" fill="#d62728" />
<text class="dv" x="564.5" y="2153.4" font-size="32.3">Oneshot+</text>
<circle cx="505.3" cy="2191.7" r="6.2" fill="#2ca02c" />
<text class="dv" x="564.5" y="2203.2" font-size="32.3">Oneshot-</text>
<text class="ls" x="1296.4" y="2049.8" font-size="60.5" font-weight="bold">H</text>
<polyline points="1506.6,2427.7 1604.9,2436.7 1703.3,2436.7 1801.7,2445.6 1900,2436.7" fill="none" stroke="#1f77b4" stroke-width="4.2" stroke-linejoin="round"/><circle cx="1506.6" cy="2427.7" r="8.7" fill="#1f77b4" /><circle cx="1604.9" cy="2436.7" r="8.7" fill="#1f77b4" /><circle cx="1703.3" cy="2436.7" r="8.7" fill="#1f77b4" /><circle cx="1801.7" cy="2445.6" r="8.7" fill="#1f77b4" /><circle cx="1900" cy="2436.7" r="8.7" fill="#1f77b4" />
<polyline points="1506.6,2409.7 1604.9,2427.7 1703.3,2382.8 1801.7,2436.7 1900,2526.4" fill="none" stroke="#ff7f0e" stroke-width="4.2" stroke-linejoin="round"/><circle cx="1506.6" cy="2409.7" r="8.7" fill="#ff7f0e" /><circle cx="1604.9" cy="2427.7" r="8.7" fill="#ff7f0e" /><circle cx="1703.3" cy="2382.8" r="8.7" fill="#ff7f0e" /><circle cx="1801.7" cy="2436.7" r="8.7" fill="#ff7f0e" /><circle cx="1900" cy="2526.4" r="8.7" fill="#ff7f0e" />
<rect x="1486.9" y="2077.6" width="435.1" height="538.6" fill="none" stroke="#000" stroke-width="2.2" />
<line x1="1506.6" y1="2616.2" x2="1506.6" y2="2626.2" stroke="#000" stroke-width="2.2" />
<text class="dv" x="1506.6" y="2661.2" font-size="31.5" text-anchor="middle">1</text>
<line x1="1604.9" y1="2616.2" x2="1604.9" y2="2626.2" stroke="#000" stroke-width="2.2" />
<text class="dv" x="1604.9" y="2661.2" font-size="31.5" text-anchor="middle">2</text>
<line x1="1703.3" y1="2616.2" x2="1703.3" y2="2626.2" stroke="#000" stroke-width="2.2" />
<text class="dv" x="1703.3" y="2661.2" font-size="31.5" text-anchor="middle">3</text>
<line x1="1801.7" y1="2616.2" x2="1801.7" y2="2626.2" stroke="#000" stroke-width="2.2" />
<text class="dv" x="1801.7" y="2661.2" font-size="31.5" text-anchor="middle">4</text>
<line x1="1900" y1="2616.2" x2="1900" y2="2626.2" stroke="#000" stroke-width="2.2" />
<text class="dv" x="1900" y="2661.2" font-size="31.5" text-anchor="middle">5</text>
<line x1="1476.9" y1="2616.2" x2="1486.9" y2="2616.2" stroke="#000" stroke-width="2.2" />
<text class="dv" x="1464.9" y="2628" font-size="32" text-anchor="end">0</text>
<line x1="1476.9" y1="2526.4" x2="1486.9" y2="2526.4" stroke="#000" stroke-width="2.2" />
<text class="dv" x="1464.9" y="2538.2" font-size="32" text-anchor="end">2</text>
<line x1="1476.9" y1="2436.7" x2="1486.9" y2="2436.7" stroke="#000" stroke-width="2.2" />
<text class="dv" x="1464.9" y="2448.5" font-size="32" text-anchor="end">4</text>
<line x1="1476.9" y1="2346.9" x2="1486.9" y2="2346.9" stroke="#000" stroke-width="2.2" />
<text class="dv" x="1464.9" y="2358.7" font-size="32" text-anchor="end">6</text>
<line x1="1476.9" y1="2257.1" x2="1486.9" y2="2257.1" stroke="#000" stroke-width="2.2" />
<text class="dv" x="1464.9" y="2268.9" font-size="32" text-anchor="end">8</text>
<line x1="1476.9" y1="2167.4" x2="1486.9" y2="2167.4" stroke="#000" stroke-width="2.2" />
<text class="dv" x="1464.9" y="2179.2" font-size="32" text-anchor="end">10</text>
<line x1="1476.9" y1="2077.6" x2="1486.9" y2="2077.6" stroke="#000" stroke-width="2.2" />
<text class="dv" x="1464.9" y="2089.4" font-size="32" text-anchor="end">12</text>
<polyline points="2048.1,2409.7 2147.2,2427.7 2246.2,2382.8 2345.2,2436.7 2444.3,2526.4" fill="none" stroke="#ff7f0e" stroke-width="4.2" stroke-linejoin="round"/><circle cx="2048.1" cy="2409.7" r="8.7" fill="#ff7f0e" /><circle cx="2147.2" cy="2427.7" r="8.7" fill="#ff7f0e" /><circle cx="2246.2" cy="2382.8" r="8.7" fill="#ff7f0e" /><circle cx="2345.2" cy="2436.7" r="8.7" fill="#ff7f0e" /><circle cx="2444.3" cy="2526.4" r="8.7" fill="#ff7f0e" />
<line x1="2048.1" y1="2399.9" x2="2048.1" y2="2419.6" stroke="#2ca02c" stroke-width="4" /><line x1="2147.2" y1="2459.1" x2="2147.2" y2="2486" stroke="#2ca02c" stroke-width="4" /><line x1="2246.2" y1="2454.6" x2="2246.2" y2="2472.6" stroke="#2ca02c" stroke-width="4" /><line x1="2345.2" y1="2326.7" x2="2345.2" y2="2385.1" stroke="#2ca02c" stroke-width="4" /><line x1="2444.3" y1="2446.5" x2="2444.3" y2="2516.6" stroke="#2ca02c" stroke-width="4" /><polyline points="2048.1,2409.7 2147.2,2472.6 2246.2,2463.6 2345.2,2355.9 2444.3,2481.5" fill="none" stroke="#2ca02c" stroke-width="4.2" stroke-linejoin="round"/><circle cx="2048.1" cy="2409.7" r="8.7" fill="#2ca02c" /><circle cx="2147.2" cy="2472.6" r="8.7" fill="#2ca02c" /><circle cx="2246.2" cy="2463.6" r="8.7" fill="#2ca02c" /><circle cx="2345.2" cy="2355.9" r="8.7" fill="#2ca02c" /><circle cx="2444.3" cy="2481.5" r="8.7" fill="#2ca02c" />
<rect x="2028.4" y="2077.6" width="435.6" height="538.6" fill="none" stroke="#000" stroke-width="2.2" />
<line x1="2048.1" y1="2616.2" x2="2048.1" y2="2626.2" stroke="#000" stroke-width="2.2" />
<text class="dv" x="2048.1" y="2661.2" font-size="31.5" text-anchor="middle">1</text>
<line x1="2147.2" y1="2616.2" x2="2147.2" y2="2626.2" stroke="#000" stroke-width="2.2" />
<text class="dv" x="2147.2" y="2661.2" font-size="31.5" text-anchor="middle">2</text>
<line x1="2246.2" y1="2616.2" x2="2246.2" y2="2626.2" stroke="#000" stroke-width="2.2" />
<text class="dv" x="2246.2" y="2661.2" font-size="31.5" text-anchor="middle">3</text>
<line x1="2345.2" y1="2616.2" x2="2345.2" y2="2626.2" stroke="#000" stroke-width="2.2" />
<text class="dv" x="2345.2" y="2661.2" font-size="31.5" text-anchor="middle">4</text>
<line x1="2444.3" y1="2616.2" x2="2444.3" y2="2626.2" stroke="#000" stroke-width="2.2" />
<text class="dv" x="2444.3" y="2661.2" font-size="31.5" text-anchor="middle">5</text>
<line x1="2018.4" y1="2616.2" x2="2028.4" y2="2616.2" stroke="#000" stroke-width="2.2" />
<text class="dv" x="2006.4" y="2628" font-size="32" text-anchor="end">0</text>
<line x1="2018.4" y1="2526.4" x2="2028.4" y2="2526.4" stroke="#000" stroke-width="2.2" />
<text class="dv" x="2006.4" y="2538.2" font-size="32" text-anchor="end">2</text>
<line x1="2018.4" y1="2436.7" x2="2028.4" y2="2436.7" stroke="#000" stroke-width="2.2" />
<text class="dv" x="2006.4" y="2448.5" font-size="32" text-anchor="end">4</text>
<line x1="2018.4" y1="2346.9" x2="2028.4" y2="2346.9" stroke="#000" stroke-width="2.2" />
<text class="dv" x="2006.4" y="2358.7" font-size="32" text-anchor="end">6</text>
<line x1="2018.4" y1="2257.1" x2="2028.4" y2="2257.1" stroke="#000" stroke-width="2.2" />
<text class="dv" x="2006.4" y="2268.9" font-size="32" text-anchor="end">8</text>
<line x1="2018.4" y1="2167.4" x2="2028.4" y2="2167.4" stroke="#000" stroke-width="2.2" />
<text class="dv" x="2006.4" y="2179.2" font-size="32" text-anchor="end">10</text>
<line x1="2018.4" y1="2077.6" x2="2028.4" y2="2077.6" stroke="#000" stroke-width="2.2" />
<text class="dv" x="2006.4" y="2089.4" font-size="32" text-anchor="end">12</text>
<rect x="1545.5" y="2095.8" width="315.8" height="114.7" fill="#fff" stroke="#d0d0d0" stroke-width="2" rx="6" fill-opacity="0.85"/>
<line x1="1556.7" y1="2121.5" x2="1630" y2="2121.5" stroke="#1f77b4" stroke-width="4.2" />
<circle cx="1593.3" cy="2121.5" r="8.7" fill="#1f77b4" />
<text class="dv" x="1660.6" y="2133.9" font-size="33.8">Bayesian+</text>
<line x1="1556.7" y1="2174.2" x2="1630" y2="2174.2" stroke="#ff7f0e" stroke-width="4.2" />
<circle cx="1593.3" cy="2174.2" r="8.7" fill="#ff7f0e" />
<text class="dv" x="1660.6" y="2186.6" font-size="33.8">oneshot+</text>
<rect x="2097" y="2095.5" width="298.3" height="114.2" fill="#fff" stroke="#d0d0d0" stroke-width="2" rx="6" fill-opacity="0.85"/>
<line x1="2110" y1="2121.5" x2="2183.3" y2="2121.5" stroke="#ff7f0e" stroke-width="4.2" />
<circle cx="2146.7" cy="2121.5" r="8.7" fill="#ff7f0e" />
<text class="dv" x="2210.5" y="2133.9" font-size="33.8">oneshot+</text>
<line x1="2110" y1="2174.2" x2="2183.3" y2="2174.2" stroke="#2ca02c" stroke-width="4.2" />
<circle cx="2146.7" cy="2174.2" r="8.7" fill="#2ca02c" />
<text class="dv" x="2210.5" y="2186.6" font-size="33.8">oneshot-</text>
<text class="dv" x="1702.9" y="2308" font-size="24" text-anchor="middle" fill="#222">**</text>
<text class="dv" x="1900.2" y="2308" font-size="24" text-anchor="middle" fill="#222">**</text>
<text class="dv" x="2246.8" y="2307" font-size="24" text-anchor="middle" fill="#222">*</text>
<text class="dv" x="1404.5" y="2601" font-size="33.5" textLength="513" lengthAdjust="spacingAndGlyphs" transform="rotate(-90 1404.5 2601)">Number of S-O presentations</text>
<text class="ls" x="1828.6" y="2706.5" font-size="41" textLength="188.5" lengthAdjust="spacingAndGlyphs">S-O index</text>
<text class="ls" x="148.6" y="2787.5" font-size="60.5" font-weight="bold">I</text>
<rect x="294.3" y="3008.6" width="118.7" height="359.1" fill="#686868" /><rect x="294.3" y="3008.6" width="118.7" height="359.1" fill="url(#dotsL)" /><rect x="442" y="3008.6" width="118.6" height="359.1" fill="#686868" /><rect x="442" y="3008.6" width="118.6" height="359.1" fill="url(#dotsL)" /><line x1="353.2" y1="2990.4" x2="353.2" y2="3022.9" stroke="#000" stroke-width="4" /><line x1="502.3" y1="2969.8" x2="502.3" y2="3044.6" stroke="#000" stroke-width="4" /><rect x="281.3" y="2828.5" width="295" height="539.2" fill="none" stroke="#000" stroke-width="2.2" /><text class="dv" x="309.3" y="2811" font-size="43.5" textLength="234.7" lengthAdjust="spacingAndGlyphs">Bayesian+</text><line x1="353.4" y1="3367.7" x2="353.4" y2="3377.7" stroke="#000" stroke-width="2.2" /><text class="dv" x="353.4" y="3415.1" font-size="35.4" text-anchor="middle">2</text><line x1="502.9" y1="3367.7" x2="502.9" y2="3377.7" stroke="#000" stroke-width="2.2" /><text class="dv" x="502.9" y="3415.1" font-size="35.4" text-anchor="middle">1</text>
<line x1="271.3" y1="3367.7" x2="281.3" y2="3367.7" stroke="#000" stroke-width="2.2" />
<text class="dv" x="258.8" y="3381.2" font-size="35.4" text-anchor="end">1</text>
<line x1="271.3" y1="3248" x2="281.3" y2="3248" stroke="#000" stroke-width="2.2" />
<text class="dv" x="258.8" y="3261.5" font-size="35.4" text-anchor="end">2</text>
<line x1="271.3" y1="3128.3" x2="281.3" y2="3128.3" stroke="#000" stroke-width="2.2" />
<text class="dv" x="258.8" y="3141.8" font-size="35.4" text-anchor="end">3</text>
<line x1="271.3" y1="3008.6" x2="281.3" y2="3008.6" stroke="#000" stroke-width="2.2" />
<text class="dv" x="258.8" y="3022.1" font-size="35.4" text-anchor="end">4</text>
<line x1="271.3" y1="2888.9" x2="281.3" y2="2888.9" stroke="#000" stroke-width="2.2" />
<text class="dv" x="258.8" y="2902.4" font-size="35.4" text-anchor="end">5</text>
<polyline points="353.4,2897.4 353.4,2888.4 398.2,2888.4" fill="none" stroke="#111" stroke-width="2.4"/><polyline points="454.7,2888.4 502.9,2888.4 502.9,2897.4" fill="none" stroke="#111" stroke-width="2.4"/><text class="dv" x="426.4" y="2895.4" font-size="25" text-anchor="middle" textLength="38.5" lengthAdjust="spacingAndGlyphs" fill="#222">n.s</text>
<rect x="680" y="2946.4" width="119.3" height="421.3" fill="#8a8a8a" /><rect x="680" y="2946.4" width="119.3" height="421.3" fill="url(#dotsD)" /><rect x="828.7" y="3248" width="118.6" height="119.7" fill="#8a8a8a" /><rect x="828.7" y="3248" width="118.6" height="119.7" fill="url(#dotsD)" /><line x1="739.7" y1="2932.4" x2="739.7" y2="2961.9" stroke="#000" stroke-width="4" /><rect x="667.7" y="2828.5" width="292.8" height="539.2" fill="none" stroke="#000" stroke-width="2.2" /><text class="dv" x="705" y="2811" font-size="43.5" textLength="212" lengthAdjust="spacingAndGlyphs">oneshot+</text><line x1="739.7" y1="3367.7" x2="739.7" y2="3377.7" stroke="#000" stroke-width="2.2" /><text class="dv" x="739.7" y="3415.1" font-size="35.4" text-anchor="middle">2</text><line x1="888.4" y1="3367.7" x2="888.4" y2="3377.7" stroke="#000" stroke-width="2.2" /><text class="dv" x="888.4" y="3415.1" font-size="35.4" text-anchor="middle">1</text>
<line x1="657.7" y1="3367.7" x2="667.7" y2="3367.7" stroke="#000" stroke-width="2.2" />
<text class="dv" x="645.2" y="3381.2" font-size="35.4" text-anchor="end">1</text>
<line x1="657.7" y1="3248" x2="667.7" y2="3248" stroke="#000" stroke-width="2.2" />
<text class="dv" x="645.2" y="3261.5" font-size="35.4" text-anchor="end">2</text>
<line x1="657.7" y1="3128.3" x2="667.7" y2="3128.3" stroke="#000" stroke-width="2.2" />
<text class="dv" x="645.2" y="3141.8" font-size="35.4" text-anchor="end">3</text>
<line x1="657.7" y1="3008.6" x2="667.7" y2="3008.6" stroke="#000" stroke-width="2.2" />
<text class="dv" x="645.2" y="3022.1" font-size="35.4" text-anchor="end">4</text>
<line x1="657.7" y1="2888.9" x2="667.7" y2="2888.9" stroke="#000" stroke-width="2.2" />
<text class="dv" x="645.2" y="2902.4" font-size="35.4" text-anchor="end">5</text>
<polyline points="739.7,2897.4 739.7,2888.4 777,2888.4" fill="none" stroke="#111" stroke-width="2.4"/><polyline points="848.8,2888.4 888.4,2888.4 888.4,2897.4" fill="none" stroke="#111" stroke-width="2.4"/><text class="dv" x="812.9" y="2899.4" font-size="26" text-anchor="middle" textLength="53.8" lengthAdjust="spacingAndGlyphs" fill="#222">****</text>
<rect x="1065.6" y="2977.5" width="115.9" height="390.2" fill="#666666" /><rect x="1065.6" y="2977.5" width="115.9" height="390.2" fill="url(#dotsL)" /><rect x="1210.3" y="3128.3" width="122.1" height="239.4" fill="#666666" /><rect x="1210.3" y="3128.3" width="122.1" height="239.4" fill="url(#dotsL)" /><line x1="1126.7" y1="2923.4" x2="1126.7" y2="3029.1" stroke="#000" stroke-width="4" /><line x1="1271.6" y1="2944.7" x2="1271.6" y2="3308" stroke="#000" stroke-width="4" /><rect x="1054.1" y="2828.5" width="292.1" height="539.2" fill="none" stroke="#000" stroke-width="2.2" /><text class="dv" x="1102.6" y="2811" font-size="43.5" textLength="191.4" lengthAdjust="spacingAndGlyphs">oneshot-</text><line x1="1127.3" y1="3367.7" x2="1127.3" y2="3377.7" stroke="#000" stroke-width="2.2" /><text class="dv" x="1127.3" y="3415.1" font-size="35.4" text-anchor="middle">2</text><line x1="1272.4" y1="3367.7" x2="1272.4" y2="3377.7" stroke="#000" stroke-width="2.2" /><text class="dv" x="1272.4" y="3415.1" font-size="35.4" text-anchor="middle">1</text>
<line x1="1044.1" y1="3367.7" x2="1054.1" y2="3367.7" stroke="#000" stroke-width="2.2" />
<text class="dv" x="1031.6" y="3381.2" font-size="35.4" text-anchor="end">1</text>
<line x1="1044.1" y1="3248" x2="1054.1" y2="3248" stroke="#000" stroke-width="2.2" />
<text class="dv" x="1031.6" y="3261.5" font-size="35.4" text-anchor="end">2</text>
<line x1="1044.1" y1="3128.3" x2="1054.1" y2="3128.3" stroke="#000" stroke-width="2.2" />
<text class="dv" x="1031.6" y="3141.8" font-size="35.4" text-anchor="end">3</text>
<line x1="1044.1" y1="3008.6" x2="1054.1" y2="3008.6" stroke="#000" stroke-width="2.2" />
<text class="dv" x="1031.6" y="3022.1" font-size="35.4" text-anchor="end">4</text>
<line x1="1044.1" y1="2888.9" x2="1054.1" y2="2888.9" stroke="#000" stroke-width="2.2" />
<text class="dv" x="1031.6" y="2902.4" font-size="35.4" text-anchor="end">5</text>
<polyline points="1127.3,2897.4 1127.3,2888.4 1167,2888.4" fill="none" stroke="#111" stroke-width="2.4"/><polyline points="1223,2888.4 1272.4,2888.4 1272.4,2897.4" fill="none" stroke="#111" stroke-width="2.4"/><text class="dv" x="1195" y="2895.4" font-size="25" text-anchor="middle" textLength="38" lengthAdjust="spacingAndGlyphs" fill="#222">n.s</text>
<text class="dv" x="216" y="3372" font-size="35.5" textLength="545" lengthAdjust="spacingAndGlyphs" transform="rotate(-90 216 3372)">Number of S-O presentations</text>
<text class="dv" x="560" y="3455" font-size="33.5" textLength="473.4" lengthAdjust="spacingAndGlyphs">Degree of S-O pair nodes</text>
<text class="ls" x="1467" y="2788.5" font-size="60.5" font-weight="bold">J</text>
<rect x="1666.4" y="3065" width="92.9" height="304.6" fill="#686868" /><rect x="1666.4" y="3065" width="92.9" height="304.6" fill="url(#dotsL)" /><rect x="1782" y="3073.3" width="93.7" height="296.3" fill="#686868" /><rect x="1782" y="3073.3" width="93.7" height="296.3" fill="url(#dotsL)" /><line x1="1712.8" y1="3062.5" x2="1712.8" y2="3066.5" stroke="#000" stroke-width="4" /><line x1="1829" y1="3069" x2="1829" y2="3075.5" stroke="#000" stroke-width="4" /><rect x="1656" y="2841" width="231.1" height="528.6" fill="none" stroke="#000" stroke-width="2.2" /><text class="dv" x="1652.4" y="2823.2" font-size="43" textLength="231.9" lengthAdjust="spacingAndGlyphs">Bayesian+</text><line x1="1713.5" y1="3369.6" x2="1713.5" y2="3379.6" stroke="#000" stroke-width="2.2" /><text class="dv" x="1713.5" y="3417" font-size="35.4" text-anchor="middle">2</text><line x1="1829.1" y1="3369.6" x2="1829.1" y2="3379.6" stroke="#000" stroke-width="2.2" /><text class="dv" x="1829.1" y="3417" font-size="35.4" text-anchor="middle">1</text>
<line x1="1646" y1="3369.6" x2="1656" y2="3369.6" stroke="#000" stroke-width="2.2" />
<text class="dv" x="1631.8" y="3383.1" font-size="34.6" text-anchor="end">0.00</text>
<line x1="1646" y1="3294.1" x2="1656" y2="3294.1" stroke="#000" stroke-width="2.2" />
<text class="dv" x="1631.8" y="3307.6" font-size="34.6" text-anchor="end">0.05</text>
<line x1="1646" y1="3218.6" x2="1656" y2="3218.6" stroke="#000" stroke-width="2.2" />
<text class="dv" x="1631.8" y="3232.1" font-size="34.6" text-anchor="end">0.10</text>
<line x1="1646" y1="3143.1" x2="1656" y2="3143.1" stroke="#000" stroke-width="2.2" />
<text class="dv" x="1631.8" y="3156.6" font-size="34.6" text-anchor="end">0.15</text>
<line x1="1646" y1="3067.5" x2="1656" y2="3067.5" stroke="#000" stroke-width="2.2" />
<text class="dv" x="1631.8" y="3081" font-size="34.6" text-anchor="end">0.20</text>
<line x1="1646" y1="2992" x2="1656" y2="2992" stroke="#000" stroke-width="2.2" />
<text class="dv" x="1631.8" y="3005.5" font-size="34.6" text-anchor="end">0.25</text>
<line x1="1646" y1="2916.5" x2="1656" y2="2916.5" stroke="#000" stroke-width="2.2" />
<text class="dv" x="1631.8" y="2930" font-size="34.6" text-anchor="end">0.30</text>
<line x1="1646" y1="2841" x2="1656" y2="2841" stroke="#000" stroke-width="2.2" />
<text class="dv" x="1631.8" y="2854.5" font-size="34.6" text-anchor="end">0.35</text>
<polyline points="1713.5,2926.6 1713.5,2917.6 1742.8,2917.6" fill="none" stroke="#111" stroke-width="2.4"/><polyline points="1799,2917.6 1829.1,2917.6 1829.1,2926.6" fill="none" stroke="#111" stroke-width="2.4"/><text class="dv" x="1770.9" y="2924.6" font-size="25" text-anchor="middle" textLength="38.2" lengthAdjust="spacingAndGlyphs" fill="#222">n.s</text>
<rect x="2045.8" y="3038.8" width="91.6" height="330.8" fill="#8a8a8a" /><rect x="2045.8" y="3038.8" width="91.6" height="330.8" fill="url(#dotsD)" /><rect x="2161.3" y="3177" width="92.3" height="192.6" fill="#8a8a8a" /><rect x="2161.3" y="3177" width="92.3" height="192.6" fill="url(#dotsD)" /><line x1="2092.6" y1="3026.7" x2="2092.6" y2="3050.2" stroke="#000" stroke-width="4" /><line x1="2207" y1="3157" x2="2207" y2="3198.9" stroke="#000" stroke-width="4" /><rect x="2035.2" y="2841" width="229.8" height="528.6" fill="none" stroke="#000" stroke-width="2.2" /><text class="dv" x="2044.8" y="2823.2" font-size="43" textLength="207.6" lengthAdjust="spacingAndGlyphs">oneshot+</text><line x1="2092.9" y1="3369.6" x2="2092.9" y2="3379.6" stroke="#000" stroke-width="2.2" /><text class="dv" x="2092.9" y="3417" font-size="35.4" text-anchor="middle">2</text><line x1="2207.1" y1="3369.6" x2="2207.1" y2="3379.6" stroke="#000" stroke-width="2.2" /><text class="dv" x="2207.1" y="3417" font-size="35.4" text-anchor="middle">1</text>
<line x1="2025.2" y1="3369.6" x2="2035.2" y2="3369.6" stroke="#000" stroke-width="2.2" />
<text class="dv" x="2011" y="3383.1" font-size="34.6" text-anchor="end">0.00</text>
<line x1="2025.2" y1="3294.1" x2="2035.2" y2="3294.1" stroke="#000" stroke-width="2.2" />
<text class="dv" x="2011" y="3307.6" font-size="34.6" text-anchor="end">0.05</text>
<line x1="2025.2" y1="3218.6" x2="2035.2" y2="3218.6" stroke="#000" stroke-width="2.2" />
<text class="dv" x="2011" y="3232.1" font-size="34.6" text-anchor="end">0.10</text>
<line x1="2025.2" y1="3143.1" x2="2035.2" y2="3143.1" stroke="#000" stroke-width="2.2" />
<text class="dv" x="2011" y="3156.6" font-size="34.6" text-anchor="end">0.15</text>
<line x1="2025.2" y1="3067.5" x2="2035.2" y2="3067.5" stroke="#000" stroke-width="2.2" />
<text class="dv" x="2011" y="3081" font-size="34.6" text-anchor="end">0.20</text>
<line x1="2025.2" y1="2992" x2="2035.2" y2="2992" stroke="#000" stroke-width="2.2" />
<text class="dv" x="2011" y="3005.5" font-size="34.6" text-anchor="end">0.25</text>
<line x1="2025.2" y1="2916.5" x2="2035.2" y2="2916.5" stroke="#000" stroke-width="2.2" />
<text class="dv" x="2011" y="2930" font-size="34.6" text-anchor="end">0.30</text>
<line x1="2025.2" y1="2841" x2="2035.2" y2="2841" stroke="#000" stroke-width="2.2" />
<text class="dv" x="2011" y="2854.5" font-size="34.6" text-anchor="end">0.35</text>
<polyline points="2092.9,2926.6 2092.9,2917.6 2114.5,2917.6" fill="none" stroke="#111" stroke-width="2.4"/><polyline points="2187.7,2917.6 2207.1,2917.6 2207.1,2926.6" fill="none" stroke="#111" stroke-width="2.4"/><text class="dv" x="2151.1" y="2928.6" font-size="26" text-anchor="middle" textLength="55.2" lengthAdjust="spacingAndGlyphs" fill="#222">****</text>
<rect x="2425.4" y="3087.2" width="91.1" height="282.4" fill="#686868" /><rect x="2425.4" y="3087.2" width="91.1" height="282.4" fill="url(#dotsL)" /><rect x="2539.5" y="2983.3" width="93.4" height="386.3" fill="#686868" /><rect x="2539.5" y="2983.3" width="93.4" height="386.3" fill="url(#dotsL)" /><line x1="2470" y1="3078.9" x2="2470" y2="3094.4" stroke="#000" stroke-width="4" /><line x1="2586" y1="2950.8" x2="2586" y2="3013.4" stroke="#000" stroke-width="4" /><rect x="2414.3" y="2841" width="229.7" height="528.6" fill="none" stroke="#000" stroke-width="2.2" /><text class="dv" x="2432.7" y="2823.2" font-size="43" textLength="187.7" lengthAdjust="spacingAndGlyphs">oneshot-</text><line x1="2470" y1="3369.6" x2="2470" y2="3379.6" stroke="#000" stroke-width="2.2" /><text class="dv" x="2470" y="3417" font-size="35.4" text-anchor="middle">2</text><line x1="2586" y1="3369.6" x2="2586" y2="3379.6" stroke="#000" stroke-width="2.2" /><text class="dv" x="2586" y="3417" font-size="35.4" text-anchor="middle">1</text>
<line x1="2404.3" y1="3369.6" x2="2414.3" y2="3369.6" stroke="#000" stroke-width="2.2" />
<text class="dv" x="2390.1" y="3383.1" font-size="34.6" text-anchor="end">0.00</text>
<line x1="2404.3" y1="3294.1" x2="2414.3" y2="3294.1" stroke="#000" stroke-width="2.2" />
<text class="dv" x="2390.1" y="3307.6" font-size="34.6" text-anchor="end">0.05</text>
<line x1="2404.3" y1="3218.6" x2="2414.3" y2="3218.6" stroke="#000" stroke-width="2.2" />
<text class="dv" x="2390.1" y="3232.1" font-size="34.6" text-anchor="end">0.10</text>
<line x1="2404.3" y1="3143.1" x2="2414.3" y2="3143.1" stroke="#000" stroke-width="2.2" />
<text class="dv" x="2390.1" y="3156.6" font-size="34.6" text-anchor="end">0.15</text>
<line x1="2404.3" y1="3067.5" x2="2414.3" y2="3067.5" stroke="#000" stroke-width="2.2" />
<text class="dv" x="2390.1" y="3081" font-size="34.6" text-anchor="end">0.20</text>
<line x1="2404.3" y1="2992" x2="2414.3" y2="2992" stroke="#000" stroke-width="2.2" />
<text class="dv" x="2390.1" y="3005.5" font-size="34.6" text-anchor="end">0.25</text>
<line x1="2404.3" y1="2916.5" x2="2414.3" y2="2916.5" stroke="#000" stroke-width="2.2" />
<text class="dv" x="2390.1" y="2930" font-size="34.6" text-anchor="end">0.30</text>
<line x1="2404.3" y1="2841" x2="2414.3" y2="2841" stroke="#000" stroke-width="2.2" />
<text class="dv" x="2390.1" y="2854.5" font-size="34.6" text-anchor="end">0.35</text>
<polyline points="2470,2926.6 2470,2917.6 2490,2917.6" fill="none" stroke="#111" stroke-width="2.4"/><polyline points="2563.2,2917.6 2586,2917.6 2586,2926.6" fill="none" stroke="#111" stroke-width="2.4"/><text class="dv" x="2526.6" y="2928.6" font-size="26" text-anchor="middle" textLength="55.2" lengthAdjust="spacingAndGlyphs" fill="#222">****</text>
<text class="dv" x="1535.5" y="3229" font-size="35.5" textLength="245" lengthAdjust="spacingAndGlyphs" transform="rotate(-90 1535.5 3229)">Learning rate</text>
<text class="dv" x="1871" y="3455" font-size="33.5" textLength="464.5" lengthAdjust="spacingAndGlyphs">Degree of S-O pair nodes</text>
</svg>
</body></html>
